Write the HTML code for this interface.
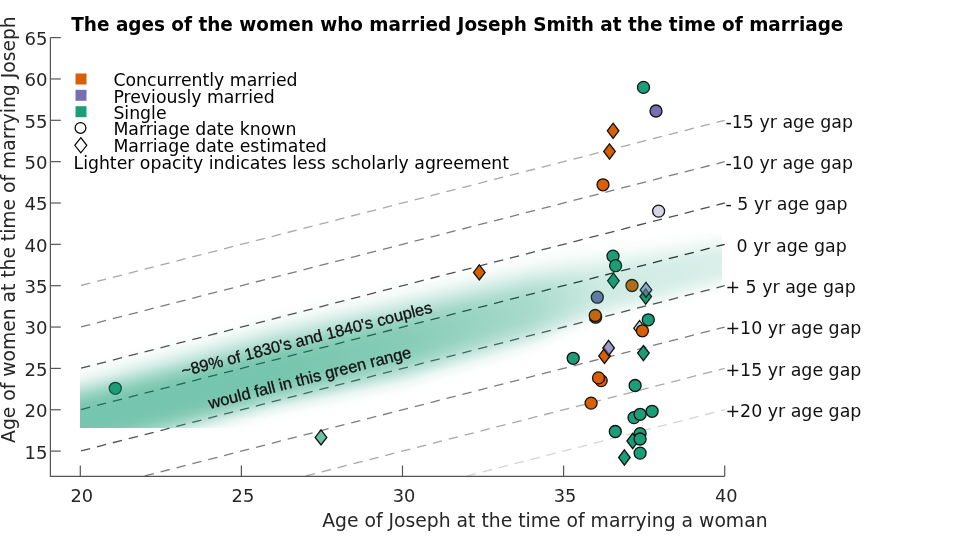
<!DOCTYPE html>
<html><head><meta charset="utf-8"><style>
html,body{margin:0;padding:0;background:#fff;width:960px;height:546px;overflow:hidden}
svg{display:block}
stop{stop-color:#1b9e77}
text{font-family:"DejaVu Sans","Liberation Sans",sans-serif;fill:#262626}
</style></head><body>
<svg width="960" height="546" viewBox="0 0 960 546">
<defs>
<clipPath id="ax"><rect x="50" y="30" width="680" height="446"/></clipPath>

<linearGradient id="s0" gradientUnits="userSpaceOnUse" x1="0" y1="360.8" x2="0" y2="428.0"><stop offset="0.00" stop-opacity="0.000"/><stop offset="0.07" stop-opacity="0.007"/><stop offset="0.14" stop-opacity="0.021"/><stop offset="0.21" stop-opacity="0.053"/><stop offset="0.29" stop-opacity="0.110"/><stop offset="0.36" stop-opacity="0.195"/><stop offset="0.43" stop-opacity="0.297"/><stop offset="0.50" stop-opacity="0.401"/><stop offset="0.57" stop-opacity="0.490"/><stop offset="0.64" stop-opacity="0.552"/><stop offset="0.71" stop-opacity="0.586"/><stop offset="0.79" stop-opacity="0.599"/><stop offset="0.86" stop-opacity="0.600"/><stop offset="0.93" stop-opacity="0.600"/><stop offset="1.00" stop-opacity="0.597"/></linearGradient><linearGradient id="s1" gradientUnits="userSpaceOnUse" x1="0" y1="360.3" x2="0" y2="428.0"><stop offset="0.00" stop-opacity="0.000"/><stop offset="0.07" stop-opacity="0.007"/><stop offset="0.14" stop-opacity="0.022"/><stop offset="0.21" stop-opacity="0.054"/><stop offset="0.29" stop-opacity="0.112"/><stop offset="0.36" stop-opacity="0.198"/><stop offset="0.43" stop-opacity="0.301"/><stop offset="0.50" stop-opacity="0.406"/><stop offset="0.57" stop-opacity="0.494"/><stop offset="0.64" stop-opacity="0.555"/><stop offset="0.71" stop-opacity="0.588"/><stop offset="0.79" stop-opacity="0.599"/><stop offset="0.86" stop-opacity="0.600"/><stop offset="0.93" stop-opacity="0.600"/><stop offset="1.00" stop-opacity="0.597"/></linearGradient><linearGradient id="s2" gradientUnits="userSpaceOnUse" x1="0" y1="359.7" x2="0" y2="428.0"><stop offset="0.00" stop-opacity="0.000"/><stop offset="0.07" stop-opacity="0.007"/><stop offset="0.14" stop-opacity="0.022"/><stop offset="0.21" stop-opacity="0.055"/><stop offset="0.29" stop-opacity="0.114"/><stop offset="0.36" stop-opacity="0.201"/><stop offset="0.43" stop-opacity="0.306"/><stop offset="0.50" stop-opacity="0.411"/><stop offset="0.57" stop-opacity="0.498"/><stop offset="0.64" stop-opacity="0.558"/><stop offset="0.71" stop-opacity="0.589"/><stop offset="0.79" stop-opacity="0.599"/><stop offset="0.86" stop-opacity="0.600"/><stop offset="0.93" stop-opacity="0.600"/><stop offset="1.00" stop-opacity="0.596"/></linearGradient><linearGradient id="s3" gradientUnits="userSpaceOnUse" x1="0" y1="359.1" x2="0" y2="428.0"><stop offset="0.00" stop-opacity="0.000"/><stop offset="0.07" stop-opacity="0.007"/><stop offset="0.14" stop-opacity="0.022"/><stop offset="0.21" stop-opacity="0.056"/><stop offset="0.29" stop-opacity="0.116"/><stop offset="0.36" stop-opacity="0.204"/><stop offset="0.43" stop-opacity="0.310"/><stop offset="0.50" stop-opacity="0.415"/><stop offset="0.57" stop-opacity="0.502"/><stop offset="0.64" stop-opacity="0.561"/><stop offset="0.71" stop-opacity="0.590"/><stop offset="0.79" stop-opacity="0.599"/><stop offset="0.86" stop-opacity="0.600"/><stop offset="0.93" stop-opacity="0.599"/><stop offset="1.00" stop-opacity="0.595"/></linearGradient><linearGradient id="s4" gradientUnits="userSpaceOnUse" x1="0" y1="358.5" x2="0" y2="428.0"><stop offset="0.00" stop-opacity="0.000"/><stop offset="0.07" stop-opacity="0.007"/><stop offset="0.14" stop-opacity="0.023"/><stop offset="0.21" stop-opacity="0.057"/><stop offset="0.29" stop-opacity="0.118"/><stop offset="0.36" stop-opacity="0.208"/><stop offset="0.43" stop-opacity="0.314"/><stop offset="0.50" stop-opacity="0.420"/><stop offset="0.57" stop-opacity="0.506"/><stop offset="0.64" stop-opacity="0.563"/><stop offset="0.71" stop-opacity="0.591"/><stop offset="0.79" stop-opacity="0.600"/><stop offset="0.86" stop-opacity="0.600"/><stop offset="0.93" stop-opacity="0.599"/><stop offset="1.00" stop-opacity="0.594"/></linearGradient><linearGradient id="s5" gradientUnits="userSpaceOnUse" x1="0" y1="357.9" x2="0" y2="428.0"><stop offset="0.00" stop-opacity="0.000"/><stop offset="0.07" stop-opacity="0.007"/><stop offset="0.14" stop-opacity="0.023"/><stop offset="0.21" stop-opacity="0.058"/><stop offset="0.29" stop-opacity="0.120"/><stop offset="0.36" stop-opacity="0.211"/><stop offset="0.43" stop-opacity="0.319"/><stop offset="0.50" stop-opacity="0.425"/><stop offset="0.57" stop-opacity="0.510"/><stop offset="0.64" stop-opacity="0.566"/><stop offset="0.71" stop-opacity="0.592"/><stop offset="0.79" stop-opacity="0.600"/><stop offset="0.86" stop-opacity="0.600"/><stop offset="0.93" stop-opacity="0.599"/><stop offset="1.00" stop-opacity="0.593"/></linearGradient><linearGradient id="s6" gradientUnits="userSpaceOnUse" x1="0" y1="357.4" x2="0" y2="428.0"><stop offset="0.00" stop-opacity="0.000"/><stop offset="0.07" stop-opacity="0.007"/><stop offset="0.14" stop-opacity="0.023"/><stop offset="0.21" stop-opacity="0.059"/><stop offset="0.29" stop-opacity="0.122"/><stop offset="0.36" stop-opacity="0.214"/><stop offset="0.43" stop-opacity="0.323"/><stop offset="0.50" stop-opacity="0.429"/><stop offset="0.57" stop-opacity="0.514"/><stop offset="0.64" stop-opacity="0.568"/><stop offset="0.71" stop-opacity="0.593"/><stop offset="0.79" stop-opacity="0.600"/><stop offset="0.86" stop-opacity="0.600"/><stop offset="0.93" stop-opacity="0.599"/><stop offset="1.00" stop-opacity="0.592"/></linearGradient><linearGradient id="s7" gradientUnits="userSpaceOnUse" x1="0" y1="356.8" x2="0" y2="428.0"><stop offset="0.00" stop-opacity="0.000"/><stop offset="0.07" stop-opacity="0.007"/><stop offset="0.14" stop-opacity="0.024"/><stop offset="0.21" stop-opacity="0.060"/><stop offset="0.29" stop-opacity="0.124"/><stop offset="0.36" stop-opacity="0.218"/><stop offset="0.43" stop-opacity="0.327"/><stop offset="0.50" stop-opacity="0.433"/><stop offset="0.57" stop-opacity="0.517"/><stop offset="0.64" stop-opacity="0.570"/><stop offset="0.71" stop-opacity="0.594"/><stop offset="0.79" stop-opacity="0.600"/><stop offset="0.86" stop-opacity="0.600"/><stop offset="0.93" stop-opacity="0.599"/><stop offset="1.00" stop-opacity="0.591"/></linearGradient><linearGradient id="s8" gradientUnits="userSpaceOnUse" x1="0" y1="356.2" x2="0" y2="428.0"><stop offset="0.00" stop-opacity="0.000"/><stop offset="0.07" stop-opacity="0.007"/><stop offset="0.14" stop-opacity="0.024"/><stop offset="0.21" stop-opacity="0.061"/><stop offset="0.29" stop-opacity="0.127"/><stop offset="0.36" stop-opacity="0.221"/><stop offset="0.43" stop-opacity="0.332"/><stop offset="0.50" stop-opacity="0.438"/><stop offset="0.57" stop-opacity="0.521"/><stop offset="0.64" stop-opacity="0.572"/><stop offset="0.71" stop-opacity="0.595"/><stop offset="0.79" stop-opacity="0.600"/><stop offset="0.86" stop-opacity="0.600"/><stop offset="0.93" stop-opacity="0.598"/><stop offset="1.00" stop-opacity="0.589"/></linearGradient><linearGradient id="s9" gradientUnits="userSpaceOnUse" x1="0" y1="355.6" x2="0" y2="428.0"><stop offset="0.00" stop-opacity="0.000"/><stop offset="0.07" stop-opacity="0.008"/><stop offset="0.14" stop-opacity="0.024"/><stop offset="0.21" stop-opacity="0.062"/><stop offset="0.29" stop-opacity="0.129"/><stop offset="0.36" stop-opacity="0.224"/><stop offset="0.43" stop-opacity="0.336"/><stop offset="0.50" stop-opacity="0.442"/><stop offset="0.57" stop-opacity="0.524"/><stop offset="0.64" stop-opacity="0.574"/><stop offset="0.71" stop-opacity="0.596"/><stop offset="0.79" stop-opacity="0.600"/><stop offset="0.86" stop-opacity="0.600"/><stop offset="0.93" stop-opacity="0.598"/><stop offset="1.00" stop-opacity="0.588"/></linearGradient><linearGradient id="s10" gradientUnits="userSpaceOnUse" x1="0" y1="355.0" x2="0" y2="428.0"><stop offset="0.00" stop-opacity="0.000"/><stop offset="0.07" stop-opacity="0.008"/><stop offset="0.14" stop-opacity="0.024"/><stop offset="0.21" stop-opacity="0.063"/><stop offset="0.29" stop-opacity="0.131"/><stop offset="0.36" stop-opacity="0.228"/><stop offset="0.43" stop-opacity="0.340"/><stop offset="0.50" stop-opacity="0.446"/><stop offset="0.57" stop-opacity="0.527"/><stop offset="0.64" stop-opacity="0.576"/><stop offset="0.71" stop-opacity="0.596"/><stop offset="0.79" stop-opacity="0.600"/><stop offset="0.86" stop-opacity="0.600"/><stop offset="0.93" stop-opacity="0.597"/><stop offset="1.00" stop-opacity="0.586"/></linearGradient><linearGradient id="s11" gradientUnits="userSpaceOnUse" x1="0" y1="354.5" x2="0" y2="428.0"><stop offset="0.00" stop-opacity="0.000"/><stop offset="0.07" stop-opacity="0.008"/><stop offset="0.14" stop-opacity="0.025"/><stop offset="0.21" stop-opacity="0.064"/><stop offset="0.29" stop-opacity="0.133"/><stop offset="0.36" stop-opacity="0.231"/><stop offset="0.43" stop-opacity="0.344"/><stop offset="0.50" stop-opacity="0.450"/><stop offset="0.57" stop-opacity="0.531"/><stop offset="0.64" stop-opacity="0.578"/><stop offset="0.71" stop-opacity="0.597"/><stop offset="0.79" stop-opacity="0.600"/><stop offset="0.86" stop-opacity="0.600"/><stop offset="0.93" stop-opacity="0.597"/><stop offset="1.00" stop-opacity="0.584"/></linearGradient><linearGradient id="s12" gradientUnits="userSpaceOnUse" x1="0" y1="353.9" x2="0" y2="428.0"><stop offset="0.00" stop-opacity="0.000"/><stop offset="0.07" stop-opacity="0.008"/><stop offset="0.14" stop-opacity="0.025"/><stop offset="0.21" stop-opacity="0.065"/><stop offset="0.29" stop-opacity="0.135"/><stop offset="0.36" stop-opacity="0.235"/><stop offset="0.43" stop-opacity="0.349"/><stop offset="0.50" stop-opacity="0.454"/><stop offset="0.57" stop-opacity="0.534"/><stop offset="0.64" stop-opacity="0.580"/><stop offset="0.71" stop-opacity="0.597"/><stop offset="0.79" stop-opacity="0.600"/><stop offset="0.86" stop-opacity="0.600"/><stop offset="0.93" stop-opacity="0.596"/><stop offset="1.00" stop-opacity="0.582"/></linearGradient><linearGradient id="s13" gradientUnits="userSpaceOnUse" x1="0" y1="353.3" x2="0" y2="428.0"><stop offset="0.00" stop-opacity="0.000"/><stop offset="0.07" stop-opacity="0.008"/><stop offset="0.14" stop-opacity="0.025"/><stop offset="0.21" stop-opacity="0.066"/><stop offset="0.29" stop-opacity="0.137"/><stop offset="0.36" stop-opacity="0.238"/><stop offset="0.43" stop-opacity="0.353"/><stop offset="0.50" stop-opacity="0.458"/><stop offset="0.57" stop-opacity="0.537"/><stop offset="0.64" stop-opacity="0.581"/><stop offset="0.71" stop-opacity="0.598"/><stop offset="0.79" stop-opacity="0.600"/><stop offset="0.86" stop-opacity="0.600"/><stop offset="0.93" stop-opacity="0.596"/><stop offset="1.00" stop-opacity="0.580"/></linearGradient><linearGradient id="s14" gradientUnits="userSpaceOnUse" x1="0" y1="352.7" x2="0" y2="428.0"><stop offset="0.00" stop-opacity="0.000"/><stop offset="0.07" stop-opacity="0.008"/><stop offset="0.14" stop-opacity="0.026"/><stop offset="0.21" stop-opacity="0.067"/><stop offset="0.29" stop-opacity="0.139"/><stop offset="0.36" stop-opacity="0.241"/><stop offset="0.43" stop-opacity="0.357"/><stop offset="0.50" stop-opacity="0.462"/><stop offset="0.57" stop-opacity="0.540"/><stop offset="0.64" stop-opacity="0.583"/><stop offset="0.71" stop-opacity="0.598"/><stop offset="0.79" stop-opacity="0.600"/><stop offset="0.86" stop-opacity="0.600"/><stop offset="0.93" stop-opacity="0.595"/><stop offset="1.00" stop-opacity="0.577"/></linearGradient><linearGradient id="s15" gradientUnits="userSpaceOnUse" x1="0" y1="352.1" x2="0" y2="428.0"><stop offset="0.00" stop-opacity="0.000"/><stop offset="0.07" stop-opacity="0.008"/><stop offset="0.14" stop-opacity="0.026"/><stop offset="0.21" stop-opacity="0.068"/><stop offset="0.29" stop-opacity="0.141"/><stop offset="0.36" stop-opacity="0.245"/><stop offset="0.43" stop-opacity="0.361"/><stop offset="0.50" stop-opacity="0.466"/><stop offset="0.57" stop-opacity="0.542"/><stop offset="0.64" stop-opacity="0.584"/><stop offset="0.71" stop-opacity="0.599"/><stop offset="0.79" stop-opacity="0.600"/><stop offset="0.86" stop-opacity="0.599"/><stop offset="0.93" stop-opacity="0.594"/><stop offset="1.00" stop-opacity="0.574"/></linearGradient><linearGradient id="s16" gradientUnits="userSpaceOnUse" x1="0" y1="351.6" x2="0" y2="428.0"><stop offset="0.00" stop-opacity="0.000"/><stop offset="0.07" stop-opacity="0.008"/><stop offset="0.14" stop-opacity="0.026"/><stop offset="0.21" stop-opacity="0.069"/><stop offset="0.29" stop-opacity="0.143"/><stop offset="0.36" stop-opacity="0.248"/><stop offset="0.43" stop-opacity="0.365"/><stop offset="0.50" stop-opacity="0.470"/><stop offset="0.57" stop-opacity="0.545"/><stop offset="0.64" stop-opacity="0.586"/><stop offset="0.71" stop-opacity="0.599"/><stop offset="0.79" stop-opacity="0.600"/><stop offset="0.86" stop-opacity="0.599"/><stop offset="0.93" stop-opacity="0.593"/><stop offset="1.00" stop-opacity="0.571"/></linearGradient><linearGradient id="s17" gradientUnits="userSpaceOnUse" x1="0" y1="351.0" x2="0" y2="428.0"><stop offset="0.00" stop-opacity="0.000"/><stop offset="0.07" stop-opacity="0.008"/><stop offset="0.14" stop-opacity="0.027"/><stop offset="0.21" stop-opacity="0.070"/><stop offset="0.29" stop-opacity="0.146"/><stop offset="0.36" stop-opacity="0.251"/><stop offset="0.43" stop-opacity="0.369"/><stop offset="0.50" stop-opacity="0.474"/><stop offset="0.57" stop-opacity="0.548"/><stop offset="0.64" stop-opacity="0.587"/><stop offset="0.71" stop-opacity="0.599"/><stop offset="0.79" stop-opacity="0.600"/><stop offset="0.86" stop-opacity="0.599"/><stop offset="0.93" stop-opacity="0.592"/><stop offset="1.00" stop-opacity="0.568"/></linearGradient><linearGradient id="s18" gradientUnits="userSpaceOnUse" x1="0" y1="350.4" x2="0" y2="428.0"><stop offset="0.00" stop-opacity="0.000"/><stop offset="0.07" stop-opacity="0.008"/><stop offset="0.14" stop-opacity="0.027"/><stop offset="0.21" stop-opacity="0.071"/><stop offset="0.29" stop-opacity="0.148"/><stop offset="0.36" stop-opacity="0.255"/><stop offset="0.43" stop-opacity="0.373"/><stop offset="0.50" stop-opacity="0.478"/><stop offset="0.57" stop-opacity="0.550"/><stop offset="0.64" stop-opacity="0.588"/><stop offset="0.71" stop-opacity="0.599"/><stop offset="0.79" stop-opacity="0.600"/><stop offset="0.86" stop-opacity="0.599"/><stop offset="0.93" stop-opacity="0.591"/><stop offset="1.00" stop-opacity="0.564"/></linearGradient><linearGradient id="s19" gradientUnits="userSpaceOnUse" x1="0" y1="349.8" x2="0" y2="428.0"><stop offset="0.00" stop-opacity="0.000"/><stop offset="0.07" stop-opacity="0.008"/><stop offset="0.14" stop-opacity="0.027"/><stop offset="0.21" stop-opacity="0.072"/><stop offset="0.29" stop-opacity="0.150"/><stop offset="0.36" stop-opacity="0.258"/><stop offset="0.43" stop-opacity="0.377"/><stop offset="0.50" stop-opacity="0.481"/><stop offset="0.57" stop-opacity="0.553"/><stop offset="0.64" stop-opacity="0.589"/><stop offset="0.71" stop-opacity="0.600"/><stop offset="0.79" stop-opacity="0.600"/><stop offset="0.86" stop-opacity="0.599"/><stop offset="0.93" stop-opacity="0.590"/><stop offset="1.00" stop-opacity="0.560"/></linearGradient><linearGradient id="s20" gradientUnits="userSpaceOnUse" x1="0" y1="349.3" x2="0" y2="428.0"><stop offset="0.00" stop-opacity="0.000"/><stop offset="0.07" stop-opacity="0.008"/><stop offset="0.14" stop-opacity="0.028"/><stop offset="0.21" stop-opacity="0.073"/><stop offset="0.29" stop-opacity="0.152"/><stop offset="0.36" stop-opacity="0.261"/><stop offset="0.43" stop-opacity="0.381"/><stop offset="0.50" stop-opacity="0.485"/><stop offset="0.57" stop-opacity="0.555"/><stop offset="0.64" stop-opacity="0.590"/><stop offset="0.71" stop-opacity="0.600"/><stop offset="0.79" stop-opacity="0.600"/><stop offset="0.86" stop-opacity="0.598"/><stop offset="0.93" stop-opacity="0.588"/><stop offset="1.00" stop-opacity="0.556"/></linearGradient><linearGradient id="s21" gradientUnits="userSpaceOnUse" x1="0" y1="348.7" x2="0" y2="428.0"><stop offset="0.00" stop-opacity="0.000"/><stop offset="0.07" stop-opacity="0.008"/><stop offset="0.14" stop-opacity="0.028"/><stop offset="0.21" stop-opacity="0.074"/><stop offset="0.29" stop-opacity="0.154"/><stop offset="0.36" stop-opacity="0.265"/><stop offset="0.43" stop-opacity="0.385"/><stop offset="0.50" stop-opacity="0.488"/><stop offset="0.57" stop-opacity="0.558"/><stop offset="0.64" stop-opacity="0.591"/><stop offset="0.71" stop-opacity="0.600"/><stop offset="0.79" stop-opacity="0.600"/><stop offset="0.86" stop-opacity="0.598"/><stop offset="0.93" stop-opacity="0.586"/><stop offset="1.00" stop-opacity="0.551"/></linearGradient><linearGradient id="s22" gradientUnits="userSpaceOnUse" x1="0" y1="348.1" x2="0" y2="428.0"><stop offset="0.00" stop-opacity="0.000"/><stop offset="0.07" stop-opacity="0.008"/><stop offset="0.14" stop-opacity="0.028"/><stop offset="0.21" stop-opacity="0.075"/><stop offset="0.29" stop-opacity="0.156"/><stop offset="0.36" stop-opacity="0.268"/><stop offset="0.43" stop-opacity="0.389"/><stop offset="0.50" stop-opacity="0.492"/><stop offset="0.57" stop-opacity="0.560"/><stop offset="0.64" stop-opacity="0.592"/><stop offset="0.71" stop-opacity="0.600"/><stop offset="0.79" stop-opacity="0.600"/><stop offset="0.86" stop-opacity="0.598"/><stop offset="0.93" stop-opacity="0.585"/><stop offset="1.00" stop-opacity="0.546"/></linearGradient><linearGradient id="s23" gradientUnits="userSpaceOnUse" x1="0" y1="347.5" x2="0" y2="428.0"><stop offset="0.00" stop-opacity="0.000"/><stop offset="0.07" stop-opacity="0.008"/><stop offset="0.14" stop-opacity="0.029"/><stop offset="0.21" stop-opacity="0.076"/><stop offset="0.29" stop-opacity="0.159"/><stop offset="0.36" stop-opacity="0.271"/><stop offset="0.43" stop-opacity="0.393"/><stop offset="0.50" stop-opacity="0.495"/><stop offset="0.57" stop-opacity="0.562"/><stop offset="0.64" stop-opacity="0.593"/><stop offset="0.71" stop-opacity="0.600"/><stop offset="0.79" stop-opacity="0.600"/><stop offset="0.86" stop-opacity="0.597"/><stop offset="0.93" stop-opacity="0.583"/><stop offset="1.00" stop-opacity="0.541"/></linearGradient><linearGradient id="s24" gradientUnits="userSpaceOnUse" x1="0" y1="346.9" x2="0" y2="428.0"><stop offset="0.00" stop-opacity="0.000"/><stop offset="0.07" stop-opacity="0.008"/><stop offset="0.14" stop-opacity="0.029"/><stop offset="0.21" stop-opacity="0.077"/><stop offset="0.29" stop-opacity="0.161"/><stop offset="0.36" stop-opacity="0.275"/><stop offset="0.43" stop-opacity="0.396"/><stop offset="0.50" stop-opacity="0.498"/><stop offset="0.57" stop-opacity="0.564"/><stop offset="0.64" stop-opacity="0.594"/><stop offset="0.71" stop-opacity="0.600"/><stop offset="0.79" stop-opacity="0.600"/><stop offset="0.86" stop-opacity="0.597"/><stop offset="0.93" stop-opacity="0.581"/><stop offset="1.00" stop-opacity="0.535"/></linearGradient><linearGradient id="s25" gradientUnits="userSpaceOnUse" x1="0" y1="346.4" x2="0" y2="428.0"><stop offset="0.00" stop-opacity="0.000"/><stop offset="0.07" stop-opacity="0.009"/><stop offset="0.14" stop-opacity="0.029"/><stop offset="0.21" stop-opacity="0.078"/><stop offset="0.29" stop-opacity="0.163"/><stop offset="0.36" stop-opacity="0.278"/><stop offset="0.43" stop-opacity="0.400"/><stop offset="0.50" stop-opacity="0.501"/><stop offset="0.57" stop-opacity="0.566"/><stop offset="0.64" stop-opacity="0.594"/><stop offset="0.71" stop-opacity="0.600"/><stop offset="0.79" stop-opacity="0.600"/><stop offset="0.86" stop-opacity="0.596"/><stop offset="0.93" stop-opacity="0.578"/><stop offset="1.00" stop-opacity="0.529"/></linearGradient><linearGradient id="s26" gradientUnits="userSpaceOnUse" x1="0" y1="345.8" x2="0" y2="428.0"><stop offset="0.00" stop-opacity="0.000"/><stop offset="0.07" stop-opacity="0.009"/><stop offset="0.14" stop-opacity="0.030"/><stop offset="0.21" stop-opacity="0.079"/><stop offset="0.29" stop-opacity="0.165"/><stop offset="0.36" stop-opacity="0.281"/><stop offset="0.43" stop-opacity="0.404"/><stop offset="0.50" stop-opacity="0.505"/><stop offset="0.57" stop-opacity="0.568"/><stop offset="0.64" stop-opacity="0.595"/><stop offset="0.71" stop-opacity="0.600"/><stop offset="0.79" stop-opacity="0.600"/><stop offset="0.86" stop-opacity="0.596"/><stop offset="0.93" stop-opacity="0.576"/><stop offset="1.00" stop-opacity="0.523"/></linearGradient><linearGradient id="s27" gradientUnits="userSpaceOnUse" x1="0" y1="345.2" x2="0" y2="428.0"><stop offset="0.00" stop-opacity="0.000"/><stop offset="0.07" stop-opacity="0.009"/><stop offset="0.14" stop-opacity="0.030"/><stop offset="0.21" stop-opacity="0.080"/><stop offset="0.29" stop-opacity="0.168"/><stop offset="0.36" stop-opacity="0.285"/><stop offset="0.43" stop-opacity="0.408"/><stop offset="0.50" stop-opacity="0.508"/><stop offset="0.57" stop-opacity="0.570"/><stop offset="0.64" stop-opacity="0.596"/><stop offset="0.71" stop-opacity="0.600"/><stop offset="0.79" stop-opacity="0.600"/><stop offset="0.86" stop-opacity="0.595"/><stop offset="0.93" stop-opacity="0.573"/><stop offset="1.00" stop-opacity="0.516"/></linearGradient><linearGradient id="s28" gradientUnits="userSpaceOnUse" x1="0" y1="344.6" x2="0" y2="428.0"><stop offset="0.00" stop-opacity="0.000"/><stop offset="0.07" stop-opacity="0.009"/><stop offset="0.14" stop-opacity="0.031"/><stop offset="0.21" stop-opacity="0.081"/><stop offset="0.29" stop-opacity="0.170"/><stop offset="0.36" stop-opacity="0.288"/><stop offset="0.43" stop-opacity="0.411"/><stop offset="0.50" stop-opacity="0.511"/><stop offset="0.57" stop-opacity="0.572"/><stop offset="0.64" stop-opacity="0.596"/><stop offset="0.71" stop-opacity="0.600"/><stop offset="0.79" stop-opacity="0.600"/><stop offset="0.86" stop-opacity="0.594"/><stop offset="0.93" stop-opacity="0.570"/><stop offset="1.00" stop-opacity="0.509"/></linearGradient><linearGradient id="s29" gradientUnits="userSpaceOnUse" x1="0" y1="344.0" x2="0" y2="428.0"><stop offset="0.00" stop-opacity="0.000"/><stop offset="0.07" stop-opacity="0.009"/><stop offset="0.14" stop-opacity="0.031"/><stop offset="0.21" stop-opacity="0.082"/><stop offset="0.29" stop-opacity="0.172"/><stop offset="0.36" stop-opacity="0.291"/><stop offset="0.43" stop-opacity="0.415"/><stop offset="0.50" stop-opacity="0.514"/><stop offset="0.57" stop-opacity="0.573"/><stop offset="0.64" stop-opacity="0.597"/><stop offset="0.71" stop-opacity="0.600"/><stop offset="0.79" stop-opacity="0.600"/><stop offset="0.86" stop-opacity="0.593"/><stop offset="0.93" stop-opacity="0.567"/><stop offset="1.00" stop-opacity="0.501"/></linearGradient><linearGradient id="s30" gradientUnits="userSpaceOnUse" x1="0" y1="343.5" x2="0" y2="428.0"><stop offset="0.00" stop-opacity="0.000"/><stop offset="0.07" stop-opacity="0.009"/><stop offset="0.14" stop-opacity="0.031"/><stop offset="0.21" stop-opacity="0.083"/><stop offset="0.29" stop-opacity="0.174"/><stop offset="0.36" stop-opacity="0.295"/><stop offset="0.43" stop-opacity="0.418"/><stop offset="0.50" stop-opacity="0.517"/><stop offset="0.57" stop-opacity="0.575"/><stop offset="0.64" stop-opacity="0.597"/><stop offset="0.71" stop-opacity="0.600"/><stop offset="0.79" stop-opacity="0.599"/><stop offset="0.86" stop-opacity="0.592"/><stop offset="0.93" stop-opacity="0.563"/><stop offset="1.00" stop-opacity="0.493"/></linearGradient><linearGradient id="s31" gradientUnits="userSpaceOnUse" x1="0" y1="342.9" x2="0" y2="428.0"><stop offset="0.00" stop-opacity="0.000"/><stop offset="0.07" stop-opacity="0.009"/><stop offset="0.14" stop-opacity="0.032"/><stop offset="0.21" stop-opacity="0.085"/><stop offset="0.29" stop-opacity="0.177"/><stop offset="0.36" stop-opacity="0.298"/><stop offset="0.43" stop-opacity="0.422"/><stop offset="0.50" stop-opacity="0.519"/><stop offset="0.57" stop-opacity="0.576"/><stop offset="0.64" stop-opacity="0.598"/><stop offset="0.71" stop-opacity="0.600"/><stop offset="0.79" stop-opacity="0.599"/><stop offset="0.86" stop-opacity="0.591"/><stop offset="0.93" stop-opacity="0.559"/><stop offset="1.00" stop-opacity="0.485"/></linearGradient><linearGradient id="s32" gradientUnits="userSpaceOnUse" x1="0" y1="342.3" x2="0" y2="428.0"><stop offset="0.00" stop-opacity="0.000"/><stop offset="0.07" stop-opacity="0.009"/><stop offset="0.14" stop-opacity="0.032"/><stop offset="0.21" stop-opacity="0.086"/><stop offset="0.29" stop-opacity="0.179"/><stop offset="0.36" stop-opacity="0.301"/><stop offset="0.43" stop-opacity="0.425"/><stop offset="0.50" stop-opacity="0.522"/><stop offset="0.57" stop-opacity="0.578"/><stop offset="0.64" stop-opacity="0.598"/><stop offset="0.71" stop-opacity="0.600"/><stop offset="0.79" stop-opacity="0.599"/><stop offset="0.86" stop-opacity="0.590"/><stop offset="0.93" stop-opacity="0.555"/><stop offset="1.00" stop-opacity="0.476"/></linearGradient><linearGradient id="s33" gradientUnits="userSpaceOnUse" x1="0" y1="341.7" x2="0" y2="428.0"><stop offset="0.00" stop-opacity="0.000"/><stop offset="0.07" stop-opacity="0.009"/><stop offset="0.14" stop-opacity="0.032"/><stop offset="0.21" stop-opacity="0.087"/><stop offset="0.29" stop-opacity="0.181"/><stop offset="0.36" stop-opacity="0.305"/><stop offset="0.43" stop-opacity="0.429"/><stop offset="0.50" stop-opacity="0.525"/><stop offset="0.57" stop-opacity="0.579"/><stop offset="0.64" stop-opacity="0.598"/><stop offset="0.71" stop-opacity="0.600"/><stop offset="0.79" stop-opacity="0.599"/><stop offset="0.86" stop-opacity="0.589"/><stop offset="0.93" stop-opacity="0.551"/><stop offset="1.00" stop-opacity="0.467"/></linearGradient><linearGradient id="s34" gradientUnits="userSpaceOnUse" x1="0" y1="341.1" x2="0" y2="428.0"><stop offset="0.00" stop-opacity="0.000"/><stop offset="0.07" stop-opacity="0.009"/><stop offset="0.14" stop-opacity="0.033"/><stop offset="0.21" stop-opacity="0.088"/><stop offset="0.29" stop-opacity="0.183"/><stop offset="0.36" stop-opacity="0.308"/><stop offset="0.43" stop-opacity="0.432"/><stop offset="0.50" stop-opacity="0.528"/><stop offset="0.57" stop-opacity="0.581"/><stop offset="0.64" stop-opacity="0.599"/><stop offset="0.71" stop-opacity="0.600"/><stop offset="0.79" stop-opacity="0.599"/><stop offset="0.86" stop-opacity="0.587"/><stop offset="0.93" stop-opacity="0.546"/><stop offset="1.00" stop-opacity="0.457"/></linearGradient><linearGradient id="s35" gradientUnits="userSpaceOnUse" x1="0" y1="340.6" x2="0" y2="428.0"><stop offset="0.00" stop-opacity="0.000"/><stop offset="0.07" stop-opacity="0.009"/><stop offset="0.14" stop-opacity="0.033"/><stop offset="0.21" stop-opacity="0.089"/><stop offset="0.29" stop-opacity="0.186"/><stop offset="0.36" stop-opacity="0.311"/><stop offset="0.43" stop-opacity="0.436"/><stop offset="0.50" stop-opacity="0.530"/><stop offset="0.57" stop-opacity="0.582"/><stop offset="0.64" stop-opacity="0.599"/><stop offset="0.71" stop-opacity="0.600"/><stop offset="0.79" stop-opacity="0.598"/><stop offset="0.86" stop-opacity="0.586"/><stop offset="0.93" stop-opacity="0.541"/><stop offset="1.00" stop-opacity="0.447"/></linearGradient><linearGradient id="s36" gradientUnits="userSpaceOnUse" x1="0" y1="340.0" x2="0" y2="428.0"><stop offset="0.00" stop-opacity="0.000"/><stop offset="0.07" stop-opacity="0.009"/><stop offset="0.14" stop-opacity="0.033"/><stop offset="0.21" stop-opacity="0.090"/><stop offset="0.29" stop-opacity="0.188"/><stop offset="0.36" stop-opacity="0.314"/><stop offset="0.43" stop-opacity="0.439"/><stop offset="0.50" stop-opacity="0.533"/><stop offset="0.57" stop-opacity="0.583"/><stop offset="0.64" stop-opacity="0.599"/><stop offset="0.71" stop-opacity="0.600"/><stop offset="0.79" stop-opacity="0.598"/><stop offset="0.86" stop-opacity="0.584"/><stop offset="0.93" stop-opacity="0.536"/><stop offset="1.00" stop-opacity="0.436"/></linearGradient><linearGradient id="s37" gradientUnits="userSpaceOnUse" x1="0" y1="339.4" x2="0" y2="428.0"><stop offset="0.00" stop-opacity="0.000"/><stop offset="0.07" stop-opacity="0.009"/><stop offset="0.14" stop-opacity="0.034"/><stop offset="0.21" stop-opacity="0.091"/><stop offset="0.29" stop-opacity="0.190"/><stop offset="0.36" stop-opacity="0.318"/><stop offset="0.43" stop-opacity="0.442"/><stop offset="0.50" stop-opacity="0.535"/><stop offset="0.57" stop-opacity="0.584"/><stop offset="0.64" stop-opacity="0.599"/><stop offset="0.71" stop-opacity="0.600"/><stop offset="0.79" stop-opacity="0.598"/><stop offset="0.86" stop-opacity="0.582"/><stop offset="0.93" stop-opacity="0.531"/><stop offset="1.00" stop-opacity="0.425"/></linearGradient><linearGradient id="s38" gradientUnits="userSpaceOnUse" x1="0" y1="338.8" x2="0" y2="428.0"><stop offset="0.00" stop-opacity="0.000"/><stop offset="0.07" stop-opacity="0.009"/><stop offset="0.14" stop-opacity="0.034"/><stop offset="0.21" stop-opacity="0.093"/><stop offset="0.29" stop-opacity="0.192"/><stop offset="0.36" stop-opacity="0.321"/><stop offset="0.43" stop-opacity="0.446"/><stop offset="0.50" stop-opacity="0.538"/><stop offset="0.57" stop-opacity="0.585"/><stop offset="0.64" stop-opacity="0.599"/><stop offset="0.71" stop-opacity="0.600"/><stop offset="0.79" stop-opacity="0.597"/><stop offset="0.86" stop-opacity="0.580"/><stop offset="0.93" stop-opacity="0.525"/><stop offset="1.00" stop-opacity="0.414"/></linearGradient><linearGradient id="s39" gradientUnits="userSpaceOnUse" x1="0" y1="338.2" x2="0" y2="428.0"><stop offset="0.00" stop-opacity="0.000"/><stop offset="0.07" stop-opacity="0.009"/><stop offset="0.14" stop-opacity="0.035"/><stop offset="0.21" stop-opacity="0.094"/><stop offset="0.29" stop-opacity="0.195"/><stop offset="0.36" stop-opacity="0.324"/><stop offset="0.43" stop-opacity="0.449"/><stop offset="0.50" stop-opacity="0.540"/><stop offset="0.57" stop-opacity="0.586"/><stop offset="0.64" stop-opacity="0.599"/><stop offset="0.71" stop-opacity="0.600"/><stop offset="0.79" stop-opacity="0.597"/><stop offset="0.86" stop-opacity="0.578"/><stop offset="0.93" stop-opacity="0.518"/><stop offset="1.00" stop-opacity="0.402"/></linearGradient><linearGradient id="s40" gradientUnits="userSpaceOnUse" x1="0" y1="337.7" x2="0" y2="428.0"><stop offset="0.00" stop-opacity="0.000"/><stop offset="0.07" stop-opacity="0.009"/><stop offset="0.14" stop-opacity="0.035"/><stop offset="0.21" stop-opacity="0.095"/><stop offset="0.29" stop-opacity="0.197"/><stop offset="0.36" stop-opacity="0.327"/><stop offset="0.43" stop-opacity="0.452"/><stop offset="0.50" stop-opacity="0.542"/><stop offset="0.57" stop-opacity="0.587"/><stop offset="0.64" stop-opacity="0.600"/><stop offset="0.71" stop-opacity="0.600"/><stop offset="0.79" stop-opacity="0.597"/><stop offset="0.86" stop-opacity="0.575"/><stop offset="0.93" stop-opacity="0.512"/><stop offset="1.00" stop-opacity="0.390"/></linearGradient><linearGradient id="s41" gradientUnits="userSpaceOnUse" x1="0" y1="337.1" x2="0" y2="428.0"><stop offset="0.00" stop-opacity="0.000"/><stop offset="0.07" stop-opacity="0.010"/><stop offset="0.14" stop-opacity="0.035"/><stop offset="0.21" stop-opacity="0.096"/><stop offset="0.29" stop-opacity="0.199"/><stop offset="0.36" stop-opacity="0.330"/><stop offset="0.43" stop-opacity="0.455"/><stop offset="0.50" stop-opacity="0.544"/><stop offset="0.57" stop-opacity="0.588"/><stop offset="0.64" stop-opacity="0.600"/><stop offset="0.71" stop-opacity="0.600"/><stop offset="0.79" stop-opacity="0.596"/><stop offset="0.86" stop-opacity="0.572"/><stop offset="0.93" stop-opacity="0.505"/><stop offset="1.00" stop-opacity="0.378"/></linearGradient><linearGradient id="s42" gradientUnits="userSpaceOnUse" x1="0" y1="336.5" x2="0" y2="428.0"><stop offset="0.00" stop-opacity="0.000"/><stop offset="0.07" stop-opacity="0.010"/><stop offset="0.14" stop-opacity="0.036"/><stop offset="0.21" stop-opacity="0.097"/><stop offset="0.29" stop-opacity="0.202"/><stop offset="0.36" stop-opacity="0.334"/><stop offset="0.43" stop-opacity="0.458"/><stop offset="0.50" stop-opacity="0.547"/><stop offset="0.57" stop-opacity="0.589"/><stop offset="0.64" stop-opacity="0.600"/><stop offset="0.71" stop-opacity="0.600"/><stop offset="0.79" stop-opacity="0.595"/><stop offset="0.86" stop-opacity="0.570"/><stop offset="0.93" stop-opacity="0.497"/><stop offset="1.00" stop-opacity="0.365"/></linearGradient><linearGradient id="s43" gradientUnits="userSpaceOnUse" x1="0" y1="335.9" x2="0" y2="428.0"><stop offset="0.00" stop-opacity="0.000"/><stop offset="0.07" stop-opacity="0.010"/><stop offset="0.14" stop-opacity="0.036"/><stop offset="0.21" stop-opacity="0.098"/><stop offset="0.29" stop-opacity="0.204"/><stop offset="0.36" stop-opacity="0.337"/><stop offset="0.43" stop-opacity="0.462"/><stop offset="0.50" stop-opacity="0.549"/><stop offset="0.57" stop-opacity="0.590"/><stop offset="0.64" stop-opacity="0.600"/><stop offset="0.71" stop-opacity="0.600"/><stop offset="0.79" stop-opacity="0.595"/><stop offset="0.86" stop-opacity="0.567"/><stop offset="0.93" stop-opacity="0.489"/><stop offset="1.00" stop-opacity="0.352"/></linearGradient><linearGradient id="s44" gradientUnits="userSpaceOnUse" x1="0" y1="335.4" x2="0" y2="428.0"><stop offset="0.00" stop-opacity="0.000"/><stop offset="0.07" stop-opacity="0.010"/><stop offset="0.14" stop-opacity="0.037"/><stop offset="0.21" stop-opacity="0.100"/><stop offset="0.29" stop-opacity="0.206"/><stop offset="0.36" stop-opacity="0.340"/><stop offset="0.43" stop-opacity="0.465"/><stop offset="0.50" stop-opacity="0.551"/><stop offset="0.57" stop-opacity="0.591"/><stop offset="0.64" stop-opacity="0.600"/><stop offset="0.71" stop-opacity="0.600"/><stop offset="0.79" stop-opacity="0.594"/><stop offset="0.86" stop-opacity="0.563"/><stop offset="0.93" stop-opacity="0.481"/><stop offset="1.00" stop-opacity="0.339"/></linearGradient><linearGradient id="s45" gradientUnits="userSpaceOnUse" x1="0" y1="334.8" x2="0" y2="428.0"><stop offset="0.00" stop-opacity="0.000"/><stop offset="0.07" stop-opacity="0.010"/><stop offset="0.14" stop-opacity="0.037"/><stop offset="0.21" stop-opacity="0.101"/><stop offset="0.29" stop-opacity="0.209"/><stop offset="0.36" stop-opacity="0.343"/><stop offset="0.43" stop-opacity="0.468"/><stop offset="0.50" stop-opacity="0.553"/><stop offset="0.57" stop-opacity="0.592"/><stop offset="0.64" stop-opacity="0.600"/><stop offset="0.71" stop-opacity="0.600"/><stop offset="0.79" stop-opacity="0.593"/><stop offset="0.86" stop-opacity="0.560"/><stop offset="0.93" stop-opacity="0.473"/><stop offset="1.00" stop-opacity="0.326"/></linearGradient><linearGradient id="s46" gradientUnits="userSpaceOnUse" x1="0" y1="334.2" x2="0" y2="428.0"><stop offset="0.00" stop-opacity="0.000"/><stop offset="0.07" stop-opacity="0.010"/><stop offset="0.14" stop-opacity="0.037"/><stop offset="0.21" stop-opacity="0.102"/><stop offset="0.29" stop-opacity="0.211"/><stop offset="0.36" stop-opacity="0.346"/><stop offset="0.43" stop-opacity="0.471"/><stop offset="0.50" stop-opacity="0.555"/><stop offset="0.57" stop-opacity="0.592"/><stop offset="0.64" stop-opacity="0.600"/><stop offset="0.71" stop-opacity="0.600"/><stop offset="0.79" stop-opacity="0.592"/><stop offset="0.86" stop-opacity="0.556"/><stop offset="0.93" stop-opacity="0.464"/><stop offset="1.00" stop-opacity="0.312"/></linearGradient><linearGradient id="s47" gradientUnits="userSpaceOnUse" x1="0" y1="333.6" x2="0" y2="428.0"><stop offset="0.00" stop-opacity="0.000"/><stop offset="0.07" stop-opacity="0.010"/><stop offset="0.14" stop-opacity="0.038"/><stop offset="0.21" stop-opacity="0.103"/><stop offset="0.29" stop-opacity="0.213"/><stop offset="0.36" stop-opacity="0.349"/><stop offset="0.43" stop-opacity="0.473"/><stop offset="0.50" stop-opacity="0.556"/><stop offset="0.57" stop-opacity="0.593"/><stop offset="0.64" stop-opacity="0.600"/><stop offset="0.71" stop-opacity="0.600"/><stop offset="0.79" stop-opacity="0.591"/><stop offset="0.86" stop-opacity="0.552"/><stop offset="0.93" stop-opacity="0.455"/><stop offset="1.00" stop-opacity="0.298"/></linearGradient><linearGradient id="s48" gradientUnits="userSpaceOnUse" x1="0" y1="333.0" x2="0" y2="428.0"><stop offset="0.00" stop-opacity="0.000"/><stop offset="0.07" stop-opacity="0.010"/><stop offset="0.14" stop-opacity="0.038"/><stop offset="0.21" stop-opacity="0.104"/><stop offset="0.29" stop-opacity="0.216"/><stop offset="0.36" stop-opacity="0.352"/><stop offset="0.43" stop-opacity="0.476"/><stop offset="0.50" stop-opacity="0.558"/><stop offset="0.57" stop-opacity="0.594"/><stop offset="0.64" stop-opacity="0.600"/><stop offset="0.71" stop-opacity="0.600"/><stop offset="0.79" stop-opacity="0.590"/><stop offset="0.86" stop-opacity="0.548"/><stop offset="0.93" stop-opacity="0.445"/><stop offset="1.00" stop-opacity="0.284"/></linearGradient><linearGradient id="s49" gradientUnits="userSpaceOnUse" x1="0" y1="332.5" x2="0" y2="428.0"><stop offset="0.00" stop-opacity="0.000"/><stop offset="0.07" stop-opacity="0.010"/><stop offset="0.14" stop-opacity="0.039"/><stop offset="0.21" stop-opacity="0.106"/><stop offset="0.29" stop-opacity="0.218"/><stop offset="0.36" stop-opacity="0.355"/><stop offset="0.43" stop-opacity="0.479"/><stop offset="0.50" stop-opacity="0.560"/><stop offset="0.57" stop-opacity="0.594"/><stop offset="0.64" stop-opacity="0.600"/><stop offset="0.71" stop-opacity="0.599"/><stop offset="0.79" stop-opacity="0.589"/><stop offset="0.86" stop-opacity="0.543"/><stop offset="0.93" stop-opacity="0.435"/><stop offset="1.00" stop-opacity="0.270"/></linearGradient><linearGradient id="s50" gradientUnits="userSpaceOnUse" x1="0" y1="331.9" x2="0" y2="428.0"><stop offset="0.00" stop-opacity="0.000"/><stop offset="0.07" stop-opacity="0.010"/><stop offset="0.14" stop-opacity="0.039"/><stop offset="0.21" stop-opacity="0.107"/><stop offset="0.29" stop-opacity="0.220"/><stop offset="0.36" stop-opacity="0.358"/><stop offset="0.43" stop-opacity="0.482"/><stop offset="0.50" stop-opacity="0.562"/><stop offset="0.57" stop-opacity="0.595"/><stop offset="0.64" stop-opacity="0.600"/><stop offset="0.71" stop-opacity="0.599"/><stop offset="0.79" stop-opacity="0.588"/><stop offset="0.86" stop-opacity="0.538"/><stop offset="0.93" stop-opacity="0.425"/><stop offset="1.00" stop-opacity="0.257"/></linearGradient><linearGradient id="s51" gradientUnits="userSpaceOnUse" x1="0" y1="331.3" x2="0" y2="428.0"><stop offset="0.00" stop-opacity="0.000"/><stop offset="0.07" stop-opacity="0.010"/><stop offset="0.14" stop-opacity="0.039"/><stop offset="0.21" stop-opacity="0.108"/><stop offset="0.29" stop-opacity="0.223"/><stop offset="0.36" stop-opacity="0.361"/><stop offset="0.43" stop-opacity="0.485"/><stop offset="0.50" stop-opacity="0.563"/><stop offset="0.57" stop-opacity="0.595"/><stop offset="0.64" stop-opacity="0.600"/><stop offset="0.71" stop-opacity="0.599"/><stop offset="0.79" stop-opacity="0.586"/><stop offset="0.86" stop-opacity="0.533"/><stop offset="0.93" stop-opacity="0.414"/><stop offset="1.00" stop-opacity="0.243"/></linearGradient><linearGradient id="s52" gradientUnits="userSpaceOnUse" x1="0" y1="330.7" x2="0" y2="428.0"><stop offset="0.00" stop-opacity="0.000"/><stop offset="0.07" stop-opacity="0.010"/><stop offset="0.14" stop-opacity="0.040"/><stop offset="0.21" stop-opacity="0.109"/><stop offset="0.29" stop-opacity="0.225"/><stop offset="0.36" stop-opacity="0.364"/><stop offset="0.43" stop-opacity="0.487"/><stop offset="0.50" stop-opacity="0.565"/><stop offset="0.57" stop-opacity="0.596"/><stop offset="0.64" stop-opacity="0.600"/><stop offset="0.71" stop-opacity="0.599"/><stop offset="0.79" stop-opacity="0.585"/><stop offset="0.86" stop-opacity="0.528"/><stop offset="0.93" stop-opacity="0.403"/><stop offset="1.00" stop-opacity="0.229"/></linearGradient><linearGradient id="s53" gradientUnits="userSpaceOnUse" x1="0" y1="330.1" x2="0" y2="428.0"><stop offset="0.00" stop-opacity="0.000"/><stop offset="0.07" stop-opacity="0.010"/><stop offset="0.14" stop-opacity="0.040"/><stop offset="0.21" stop-opacity="0.110"/><stop offset="0.29" stop-opacity="0.227"/><stop offset="0.36" stop-opacity="0.367"/><stop offset="0.43" stop-opacity="0.490"/><stop offset="0.50" stop-opacity="0.567"/><stop offset="0.57" stop-opacity="0.596"/><stop offset="0.64" stop-opacity="0.600"/><stop offset="0.71" stop-opacity="0.599"/><stop offset="0.79" stop-opacity="0.583"/><stop offset="0.86" stop-opacity="0.522"/><stop offset="0.93" stop-opacity="0.391"/><stop offset="1.00" stop-opacity="0.215"/></linearGradient><linearGradient id="s54" gradientUnits="userSpaceOnUse" x1="0" y1="329.6" x2="0" y2="428.0"><stop offset="0.00" stop-opacity="0.000"/><stop offset="0.07" stop-opacity="0.010"/><stop offset="0.14" stop-opacity="0.041"/><stop offset="0.21" stop-opacity="0.112"/><stop offset="0.29" stop-opacity="0.230"/><stop offset="0.36" stop-opacity="0.370"/><stop offset="0.43" stop-opacity="0.493"/><stop offset="0.50" stop-opacity="0.568"/><stop offset="0.57" stop-opacity="0.597"/><stop offset="0.64" stop-opacity="0.600"/><stop offset="0.71" stop-opacity="0.598"/><stop offset="0.79" stop-opacity="0.581"/><stop offset="0.86" stop-opacity="0.516"/><stop offset="0.93" stop-opacity="0.380"/><stop offset="1.00" stop-opacity="0.202"/></linearGradient><linearGradient id="s55" gradientUnits="userSpaceOnUse" x1="0" y1="329.0" x2="0" y2="428.0"><stop offset="0.00" stop-opacity="0.000"/><stop offset="0.07" stop-opacity="0.011"/><stop offset="0.14" stop-opacity="0.041"/><stop offset="0.21" stop-opacity="0.113"/><stop offset="0.29" stop-opacity="0.232"/><stop offset="0.36" stop-opacity="0.373"/><stop offset="0.43" stop-opacity="0.495"/><stop offset="0.50" stop-opacity="0.570"/><stop offset="0.57" stop-opacity="0.597"/><stop offset="0.64" stop-opacity="0.600"/><stop offset="0.71" stop-opacity="0.598"/><stop offset="0.79" stop-opacity="0.579"/><stop offset="0.86" stop-opacity="0.510"/><stop offset="0.93" stop-opacity="0.368"/><stop offset="1.00" stop-opacity="0.189"/></linearGradient><linearGradient id="s56" gradientUnits="userSpaceOnUse" x1="0" y1="328.4" x2="0" y2="428.0"><stop offset="0.00" stop-opacity="0.000"/><stop offset="0.07" stop-opacity="0.011"/><stop offset="0.14" stop-opacity="0.041"/><stop offset="0.21" stop-opacity="0.114"/><stop offset="0.29" stop-opacity="0.234"/><stop offset="0.36" stop-opacity="0.376"/><stop offset="0.43" stop-opacity="0.498"/><stop offset="0.50" stop-opacity="0.571"/><stop offset="0.57" stop-opacity="0.597"/><stop offset="0.64" stop-opacity="0.600"/><stop offset="0.71" stop-opacity="0.598"/><stop offset="0.79" stop-opacity="0.577"/><stop offset="0.86" stop-opacity="0.503"/><stop offset="0.93" stop-opacity="0.356"/><stop offset="1.00" stop-opacity="0.176"/></linearGradient><linearGradient id="s57" gradientUnits="userSpaceOnUse" x1="0" y1="327.8" x2="0" y2="428.0"><stop offset="0.00" stop-opacity="0.000"/><stop offset="0.07" stop-opacity="0.011"/><stop offset="0.14" stop-opacity="0.042"/><stop offset="0.21" stop-opacity="0.115"/><stop offset="0.29" stop-opacity="0.236"/><stop offset="0.36" stop-opacity="0.379"/><stop offset="0.43" stop-opacity="0.500"/><stop offset="0.50" stop-opacity="0.572"/><stop offset="0.57" stop-opacity="0.598"/><stop offset="0.64" stop-opacity="0.600"/><stop offset="0.71" stop-opacity="0.598"/><stop offset="0.79" stop-opacity="0.575"/><stop offset="0.86" stop-opacity="0.496"/><stop offset="0.93" stop-opacity="0.343"/><stop offset="1.00" stop-opacity="0.163"/></linearGradient><linearGradient id="s58" gradientUnits="userSpaceOnUse" x1="0" y1="327.2" x2="0" y2="428.0"><stop offset="0.00" stop-opacity="0.000"/><stop offset="0.07" stop-opacity="0.011"/><stop offset="0.14" stop-opacity="0.042"/><stop offset="0.21" stop-opacity="0.117"/><stop offset="0.29" stop-opacity="0.239"/><stop offset="0.36" stop-opacity="0.382"/><stop offset="0.43" stop-opacity="0.503"/><stop offset="0.50" stop-opacity="0.574"/><stop offset="0.57" stop-opacity="0.598"/><stop offset="0.64" stop-opacity="0.600"/><stop offset="0.71" stop-opacity="0.597"/><stop offset="0.79" stop-opacity="0.572"/><stop offset="0.86" stop-opacity="0.489"/><stop offset="0.93" stop-opacity="0.331"/><stop offset="1.00" stop-opacity="0.151"/></linearGradient><linearGradient id="s59" gradientUnits="userSpaceOnUse" x1="0" y1="326.7" x2="0" y2="428.0"><stop offset="0.00" stop-opacity="0.000"/><stop offset="0.07" stop-opacity="0.011"/><stop offset="0.14" stop-opacity="0.043"/><stop offset="0.21" stop-opacity="0.118"/><stop offset="0.29" stop-opacity="0.241"/><stop offset="0.36" stop-opacity="0.385"/><stop offset="0.43" stop-opacity="0.505"/><stop offset="0.50" stop-opacity="0.575"/><stop offset="0.57" stop-opacity="0.598"/><stop offset="0.64" stop-opacity="0.600"/><stop offset="0.71" stop-opacity="0.597"/><stop offset="0.79" stop-opacity="0.569"/><stop offset="0.86" stop-opacity="0.481"/><stop offset="0.93" stop-opacity="0.318"/><stop offset="1.00" stop-opacity="0.139"/></linearGradient><linearGradient id="s60" gradientUnits="userSpaceOnUse" x1="0" y1="326.1" x2="0" y2="428.0"><stop offset="0.00" stop-opacity="0.000"/><stop offset="0.07" stop-opacity="0.011"/><stop offset="0.14" stop-opacity="0.043"/><stop offset="0.21" stop-opacity="0.119"/><stop offset="0.29" stop-opacity="0.243"/><stop offset="0.36" stop-opacity="0.388"/><stop offset="0.43" stop-opacity="0.508"/><stop offset="0.50" stop-opacity="0.576"/><stop offset="0.57" stop-opacity="0.598"/><stop offset="0.64" stop-opacity="0.600"/><stop offset="0.71" stop-opacity="0.596"/><stop offset="0.79" stop-opacity="0.566"/><stop offset="0.86" stop-opacity="0.473"/><stop offset="0.93" stop-opacity="0.305"/><stop offset="1.00" stop-opacity="0.127"/></linearGradient><linearGradient id="s61" gradientUnits="userSpaceOnUse" x1="0" y1="325.5" x2="0" y2="428.0"><stop offset="0.00" stop-opacity="0.000"/><stop offset="0.07" stop-opacity="0.011"/><stop offset="0.14" stop-opacity="0.043"/><stop offset="0.21" stop-opacity="0.120"/><stop offset="0.29" stop-opacity="0.246"/><stop offset="0.36" stop-opacity="0.391"/><stop offset="0.43" stop-opacity="0.510"/><stop offset="0.50" stop-opacity="0.577"/><stop offset="0.57" stop-opacity="0.599"/><stop offset="0.64" stop-opacity="0.600"/><stop offset="0.71" stop-opacity="0.596"/><stop offset="0.79" stop-opacity="0.563"/><stop offset="0.86" stop-opacity="0.465"/><stop offset="0.93" stop-opacity="0.292"/><stop offset="1.00" stop-opacity="0.116"/></linearGradient><linearGradient id="s62" gradientUnits="userSpaceOnUse" x1="0" y1="324.9" x2="0" y2="428.0"><stop offset="0.00" stop-opacity="0.000"/><stop offset="0.07" stop-opacity="0.011"/><stop offset="0.14" stop-opacity="0.044"/><stop offset="0.21" stop-opacity="0.122"/><stop offset="0.29" stop-opacity="0.248"/><stop offset="0.36" stop-opacity="0.393"/><stop offset="0.43" stop-opacity="0.512"/><stop offset="0.50" stop-opacity="0.579"/><stop offset="0.57" stop-opacity="0.599"/><stop offset="0.64" stop-opacity="0.600"/><stop offset="0.71" stop-opacity="0.595"/><stop offset="0.79" stop-opacity="0.560"/><stop offset="0.86" stop-opacity="0.456"/><stop offset="0.93" stop-opacity="0.279"/><stop offset="1.00" stop-opacity="0.106"/></linearGradient><linearGradient id="s63" gradientUnits="userSpaceOnUse" x1="0" y1="324.3" x2="0" y2="428.0"><stop offset="0.00" stop-opacity="0.000"/><stop offset="0.07" stop-opacity="0.011"/><stop offset="0.14" stop-opacity="0.044"/><stop offset="0.21" stop-opacity="0.123"/><stop offset="0.29" stop-opacity="0.250"/><stop offset="0.36" stop-opacity="0.396"/><stop offset="0.43" stop-opacity="0.514"/><stop offset="0.50" stop-opacity="0.580"/><stop offset="0.57" stop-opacity="0.599"/><stop offset="0.64" stop-opacity="0.600"/><stop offset="0.71" stop-opacity="0.595"/><stop offset="0.79" stop-opacity="0.557"/><stop offset="0.86" stop-opacity="0.447"/><stop offset="0.93" stop-opacity="0.265"/><stop offset="1.00" stop-opacity="0.096"/></linearGradient><linearGradient id="s64" gradientUnits="userSpaceOnUse" x1="0" y1="323.8" x2="0" y2="428.0"><stop offset="0.00" stop-opacity="0.000"/><stop offset="0.07" stop-opacity="0.011"/><stop offset="0.14" stop-opacity="0.045"/><stop offset="0.21" stop-opacity="0.124"/><stop offset="0.29" stop-opacity="0.253"/><stop offset="0.36" stop-opacity="0.399"/><stop offset="0.43" stop-opacity="0.517"/><stop offset="0.50" stop-opacity="0.581"/><stop offset="0.57" stop-opacity="0.599"/><stop offset="0.64" stop-opacity="0.600"/><stop offset="0.71" stop-opacity="0.594"/><stop offset="0.79" stop-opacity="0.553"/><stop offset="0.86" stop-opacity="0.438"/><stop offset="0.93" stop-opacity="0.252"/><stop offset="1.00" stop-opacity="0.086"/></linearGradient><linearGradient id="s65" gradientUnits="userSpaceOnUse" x1="0" y1="323.2" x2="0" y2="428.0"><stop offset="0.00" stop-opacity="0.000"/><stop offset="0.07" stop-opacity="0.011"/><stop offset="0.14" stop-opacity="0.045"/><stop offset="0.21" stop-opacity="0.125"/><stop offset="0.29" stop-opacity="0.255"/><stop offset="0.36" stop-opacity="0.402"/><stop offset="0.43" stop-opacity="0.519"/><stop offset="0.50" stop-opacity="0.582"/><stop offset="0.57" stop-opacity="0.599"/><stop offset="0.64" stop-opacity="0.600"/><stop offset="0.71" stop-opacity="0.593"/><stop offset="0.79" stop-opacity="0.549"/><stop offset="0.86" stop-opacity="0.428"/><stop offset="0.93" stop-opacity="0.239"/><stop offset="1.00" stop-opacity="0.078"/></linearGradient><linearGradient id="s66" gradientUnits="userSpaceOnUse" x1="0" y1="322.6" x2="0" y2="428.0"><stop offset="0.00" stop-opacity="0.000"/><stop offset="0.07" stop-opacity="0.011"/><stop offset="0.14" stop-opacity="0.046"/><stop offset="0.21" stop-opacity="0.127"/><stop offset="0.29" stop-opacity="0.257"/><stop offset="0.36" stop-opacity="0.404"/><stop offset="0.43" stop-opacity="0.521"/><stop offset="0.50" stop-opacity="0.583"/><stop offset="0.57" stop-opacity="0.599"/><stop offset="0.64" stop-opacity="0.600"/><stop offset="0.71" stop-opacity="0.592"/><stop offset="0.79" stop-opacity="0.545"/><stop offset="0.86" stop-opacity="0.418"/><stop offset="0.93" stop-opacity="0.226"/><stop offset="1.00" stop-opacity="0.069"/></linearGradient><linearGradient id="s67" gradientUnits="userSpaceOnUse" x1="0" y1="322.0" x2="0" y2="428.0"><stop offset="0.00" stop-opacity="0.000"/><stop offset="0.07" stop-opacity="0.011"/><stop offset="0.14" stop-opacity="0.046"/><stop offset="0.21" stop-opacity="0.128"/><stop offset="0.29" stop-opacity="0.260"/><stop offset="0.36" stop-opacity="0.407"/><stop offset="0.43" stop-opacity="0.523"/><stop offset="0.50" stop-opacity="0.584"/><stop offset="0.57" stop-opacity="0.600"/><stop offset="0.64" stop-opacity="0.600"/><stop offset="0.71" stop-opacity="0.591"/><stop offset="0.79" stop-opacity="0.540"/><stop offset="0.86" stop-opacity="0.408"/><stop offset="0.93" stop-opacity="0.213"/><stop offset="1.00" stop-opacity="0.061"/></linearGradient><linearGradient id="s68" gradientUnits="userSpaceOnUse" x1="0" y1="321.4" x2="0" y2="428.0"><stop offset="0.00" stop-opacity="0.000"/><stop offset="0.07" stop-opacity="0.011"/><stop offset="0.14" stop-opacity="0.046"/><stop offset="0.21" stop-opacity="0.129"/><stop offset="0.29" stop-opacity="0.262"/><stop offset="0.36" stop-opacity="0.410"/><stop offset="0.43" stop-opacity="0.525"/><stop offset="0.50" stop-opacity="0.585"/><stop offset="0.57" stop-opacity="0.600"/><stop offset="0.64" stop-opacity="0.600"/><stop offset="0.71" stop-opacity="0.590"/><stop offset="0.79" stop-opacity="0.536"/><stop offset="0.86" stop-opacity="0.397"/><stop offset="0.93" stop-opacity="0.200"/><stop offset="1.00" stop-opacity="0.054"/></linearGradient><linearGradient id="s69" gradientUnits="userSpaceOnUse" x1="0" y1="320.9" x2="0" y2="428.0"><stop offset="0.00" stop-opacity="0.000"/><stop offset="0.07" stop-opacity="0.011"/><stop offset="0.14" stop-opacity="0.047"/><stop offset="0.21" stop-opacity="0.131"/><stop offset="0.29" stop-opacity="0.264"/><stop offset="0.36" stop-opacity="0.412"/><stop offset="0.43" stop-opacity="0.527"/><stop offset="0.50" stop-opacity="0.585"/><stop offset="0.57" stop-opacity="0.600"/><stop offset="0.64" stop-opacity="0.600"/><stop offset="0.71" stop-opacity="0.589"/><stop offset="0.79" stop-opacity="0.531"/><stop offset="0.86" stop-opacity="0.386"/><stop offset="0.93" stop-opacity="0.188"/><stop offset="1.00" stop-opacity="0.048"/></linearGradient><linearGradient id="s70" gradientUnits="userSpaceOnUse" x1="0" y1="320.3" x2="0" y2="428.0"><stop offset="0.00" stop-opacity="0.000"/><stop offset="0.07" stop-opacity="0.012"/><stop offset="0.14" stop-opacity="0.047"/><stop offset="0.21" stop-opacity="0.132"/><stop offset="0.29" stop-opacity="0.267"/><stop offset="0.36" stop-opacity="0.415"/><stop offset="0.43" stop-opacity="0.529"/><stop offset="0.50" stop-opacity="0.586"/><stop offset="0.57" stop-opacity="0.600"/><stop offset="0.64" stop-opacity="0.600"/><stop offset="0.71" stop-opacity="0.588"/><stop offset="0.79" stop-opacity="0.526"/><stop offset="0.86" stop-opacity="0.375"/><stop offset="0.93" stop-opacity="0.176"/><stop offset="1.00" stop-opacity="0.042"/></linearGradient><linearGradient id="s71" gradientUnits="userSpaceOnUse" x1="0" y1="319.7" x2="0" y2="428.0"><stop offset="0.00" stop-opacity="0.000"/><stop offset="0.07" stop-opacity="0.012"/><stop offset="0.14" stop-opacity="0.048"/><stop offset="0.21" stop-opacity="0.133"/><stop offset="0.29" stop-opacity="0.269"/><stop offset="0.36" stop-opacity="0.418"/><stop offset="0.43" stop-opacity="0.531"/><stop offset="0.50" stop-opacity="0.587"/><stop offset="0.57" stop-opacity="0.600"/><stop offset="0.64" stop-opacity="0.600"/><stop offset="0.71" stop-opacity="0.587"/><stop offset="0.79" stop-opacity="0.520"/><stop offset="0.86" stop-opacity="0.364"/><stop offset="0.93" stop-opacity="0.164"/><stop offset="1.00" stop-opacity="0.036"/></linearGradient><linearGradient id="s72" gradientUnits="userSpaceOnUse" x1="0" y1="319.1" x2="0" y2="428.0"><stop offset="0.00" stop-opacity="0.000"/><stop offset="0.07" stop-opacity="0.012"/><stop offset="0.14" stop-opacity="0.048"/><stop offset="0.21" stop-opacity="0.134"/><stop offset="0.29" stop-opacity="0.271"/><stop offset="0.36" stop-opacity="0.420"/><stop offset="0.43" stop-opacity="0.533"/><stop offset="0.50" stop-opacity="0.588"/><stop offset="0.57" stop-opacity="0.600"/><stop offset="0.64" stop-opacity="0.600"/><stop offset="0.71" stop-opacity="0.585"/><stop offset="0.79" stop-opacity="0.514"/><stop offset="0.86" stop-opacity="0.352"/><stop offset="0.93" stop-opacity="0.152"/><stop offset="1.00" stop-opacity="0.031"/></linearGradient><linearGradient id="s73" gradientUnits="userSpaceOnUse" x1="0" y1="318.6" x2="0" y2="428.0"><stop offset="0.00" stop-opacity="0.000"/><stop offset="0.07" stop-opacity="0.012"/><stop offset="0.14" stop-opacity="0.049"/><stop offset="0.21" stop-opacity="0.136"/><stop offset="0.29" stop-opacity="0.273"/><stop offset="0.36" stop-opacity="0.423"/><stop offset="0.43" stop-opacity="0.535"/><stop offset="0.50" stop-opacity="0.589"/><stop offset="0.57" stop-opacity="0.600"/><stop offset="0.64" stop-opacity="0.599"/><stop offset="0.71" stop-opacity="0.584"/><stop offset="0.79" stop-opacity="0.508"/><stop offset="0.86" stop-opacity="0.340"/><stop offset="0.93" stop-opacity="0.140"/><stop offset="1.00" stop-opacity="0.027"/></linearGradient><linearGradient id="s74" gradientUnits="userSpaceOnUse" x1="0" y1="318.0" x2="0" y2="428.0"><stop offset="0.00" stop-opacity="0.000"/><stop offset="0.07" stop-opacity="0.012"/><stop offset="0.14" stop-opacity="0.049"/><stop offset="0.21" stop-opacity="0.137"/><stop offset="0.29" stop-opacity="0.276"/><stop offset="0.36" stop-opacity="0.425"/><stop offset="0.43" stop-opacity="0.537"/><stop offset="0.50" stop-opacity="0.589"/><stop offset="0.57" stop-opacity="0.600"/><stop offset="0.64" stop-opacity="0.599"/><stop offset="0.71" stop-opacity="0.582"/><stop offset="0.79" stop-opacity="0.502"/><stop offset="0.86" stop-opacity="0.328"/><stop offset="0.93" stop-opacity="0.129"/><stop offset="1.00" stop-opacity="0.023"/></linearGradient><linearGradient id="s75" gradientUnits="userSpaceOnUse" x1="0" y1="317.4" x2="0" y2="428.0"><stop offset="0.00" stop-opacity="0.000"/><stop offset="0.07" stop-opacity="0.012"/><stop offset="0.14" stop-opacity="0.049"/><stop offset="0.21" stop-opacity="0.138"/><stop offset="0.29" stop-opacity="0.278"/><stop offset="0.36" stop-opacity="0.428"/><stop offset="0.43" stop-opacity="0.539"/><stop offset="0.50" stop-opacity="0.590"/><stop offset="0.57" stop-opacity="0.600"/><stop offset="0.64" stop-opacity="0.599"/><stop offset="0.71" stop-opacity="0.580"/><stop offset="0.79" stop-opacity="0.496"/><stop offset="0.86" stop-opacity="0.316"/><stop offset="0.93" stop-opacity="0.119"/><stop offset="1.00" stop-opacity="0.019"/></linearGradient><linearGradient id="s76" gradientUnits="userSpaceOnUse" x1="0" y1="316.8" x2="0" y2="428.0"><stop offset="0.00" stop-opacity="0.000"/><stop offset="0.07" stop-opacity="0.012"/><stop offset="0.14" stop-opacity="0.050"/><stop offset="0.21" stop-opacity="0.140"/><stop offset="0.29" stop-opacity="0.280"/><stop offset="0.36" stop-opacity="0.431"/><stop offset="0.43" stop-opacity="0.540"/><stop offset="0.50" stop-opacity="0.591"/><stop offset="0.57" stop-opacity="0.600"/><stop offset="0.64" stop-opacity="0.599"/><stop offset="0.71" stop-opacity="0.578"/><stop offset="0.79" stop-opacity="0.489"/><stop offset="0.86" stop-opacity="0.304"/><stop offset="0.93" stop-opacity="0.109"/><stop offset="1.00" stop-opacity="0.016"/></linearGradient><linearGradient id="s77" gradientUnits="userSpaceOnUse" x1="0" y1="316.2" x2="0" y2="428.0"><stop offset="0.00" stop-opacity="0.000"/><stop offset="0.07" stop-opacity="0.012"/><stop offset="0.14" stop-opacity="0.050"/><stop offset="0.21" stop-opacity="0.141"/><stop offset="0.29" stop-opacity="0.282"/><stop offset="0.36" stop-opacity="0.433"/><stop offset="0.43" stop-opacity="0.542"/><stop offset="0.50" stop-opacity="0.591"/><stop offset="0.57" stop-opacity="0.600"/><stop offset="0.64" stop-opacity="0.599"/><stop offset="0.71" stop-opacity="0.576"/><stop offset="0.79" stop-opacity="0.481"/><stop offset="0.86" stop-opacity="0.292"/><stop offset="0.93" stop-opacity="0.099"/><stop offset="1.00" stop-opacity="0.014"/></linearGradient><linearGradient id="s78" gradientUnits="userSpaceOnUse" x1="0" y1="315.7" x2="0" y2="428.0"><stop offset="0.00" stop-opacity="0.000"/><stop offset="0.07" stop-opacity="0.012"/><stop offset="0.14" stop-opacity="0.051"/><stop offset="0.21" stop-opacity="0.142"/><stop offset="0.29" stop-opacity="0.285"/><stop offset="0.36" stop-opacity="0.436"/><stop offset="0.43" stop-opacity="0.544"/><stop offset="0.50" stop-opacity="0.592"/><stop offset="0.57" stop-opacity="0.600"/><stop offset="0.64" stop-opacity="0.599"/><stop offset="0.71" stop-opacity="0.574"/><stop offset="0.79" stop-opacity="0.474"/><stop offset="0.86" stop-opacity="0.279"/><stop offset="0.93" stop-opacity="0.090"/><stop offset="1.00" stop-opacity="0.011"/></linearGradient><linearGradient id="s79" gradientUnits="userSpaceOnUse" x1="0" y1="315.1" x2="0" y2="428.0"><stop offset="0.00" stop-opacity="0.000"/><stop offset="0.07" stop-opacity="0.012"/><stop offset="0.14" stop-opacity="0.051"/><stop offset="0.21" stop-opacity="0.144"/><stop offset="0.29" stop-opacity="0.287"/><stop offset="0.36" stop-opacity="0.438"/><stop offset="0.43" stop-opacity="0.545"/><stop offset="0.50" stop-opacity="0.592"/><stop offset="0.57" stop-opacity="0.600"/><stop offset="0.64" stop-opacity="0.598"/><stop offset="0.71" stop-opacity="0.572"/><stop offset="0.79" stop-opacity="0.466"/><stop offset="0.86" stop-opacity="0.267"/><stop offset="0.93" stop-opacity="0.081"/><stop offset="1.00" stop-opacity="0.009"/></linearGradient><linearGradient id="s80" gradientUnits="userSpaceOnUse" x1="0" y1="314.5" x2="0" y2="428.0"><stop offset="0.00" stop-opacity="0.000"/><stop offset="0.07" stop-opacity="0.012"/><stop offset="0.14" stop-opacity="0.052"/><stop offset="0.21" stop-opacity="0.145"/><stop offset="0.29" stop-opacity="0.289"/><stop offset="0.36" stop-opacity="0.440"/><stop offset="0.43" stop-opacity="0.547"/><stop offset="0.50" stop-opacity="0.593"/><stop offset="0.57" stop-opacity="0.600"/><stop offset="0.64" stop-opacity="0.598"/><stop offset="0.71" stop-opacity="0.569"/><stop offset="0.79" stop-opacity="0.458"/><stop offset="0.86" stop-opacity="0.254"/><stop offset="0.93" stop-opacity="0.073"/><stop offset="1.00" stop-opacity="0.008"/></linearGradient><linearGradient id="s81" gradientUnits="userSpaceOnUse" x1="0" y1="313.9" x2="0" y2="428.0"><stop offset="0.00" stop-opacity="0.000"/><stop offset="0.07" stop-opacity="0.012"/><stop offset="0.14" stop-opacity="0.052"/><stop offset="0.21" stop-opacity="0.146"/><stop offset="0.29" stop-opacity="0.291"/><stop offset="0.36" stop-opacity="0.443"/><stop offset="0.43" stop-opacity="0.549"/><stop offset="0.50" stop-opacity="0.593"/><stop offset="0.57" stop-opacity="0.600"/><stop offset="0.64" stop-opacity="0.598"/><stop offset="0.71" stop-opacity="0.567"/><stop offset="0.79" stop-opacity="0.450"/><stop offset="0.86" stop-opacity="0.242"/><stop offset="0.93" stop-opacity="0.065"/><stop offset="1.00" stop-opacity="0.006"/></linearGradient><linearGradient id="s82" gradientUnits="userSpaceOnUse" x1="0" y1="313.3" x2="0" y2="428.0"><stop offset="0.00" stop-opacity="0.000"/><stop offset="0.07" stop-opacity="0.012"/><stop offset="0.14" stop-opacity="0.053"/><stop offset="0.21" stop-opacity="0.147"/><stop offset="0.29" stop-opacity="0.294"/><stop offset="0.36" stop-opacity="0.445"/><stop offset="0.43" stop-opacity="0.550"/><stop offset="0.50" stop-opacity="0.594"/><stop offset="0.57" stop-opacity="0.600"/><stop offset="0.64" stop-opacity="0.597"/><stop offset="0.71" stop-opacity="0.564"/><stop offset="0.79" stop-opacity="0.441"/><stop offset="0.86" stop-opacity="0.229"/><stop offset="0.93" stop-opacity="0.058"/><stop offset="1.00" stop-opacity="0.005"/></linearGradient><linearGradient id="s83" gradientUnits="userSpaceOnUse" x1="0" y1="312.8" x2="0" y2="428.0"><stop offset="0.00" stop-opacity="0.000"/><stop offset="0.07" stop-opacity="0.013"/><stop offset="0.14" stop-opacity="0.053"/><stop offset="0.21" stop-opacity="0.149"/><stop offset="0.29" stop-opacity="0.296"/><stop offset="0.36" stop-opacity="0.448"/><stop offset="0.43" stop-opacity="0.552"/><stop offset="0.50" stop-opacity="0.594"/><stop offset="0.57" stop-opacity="0.600"/><stop offset="0.64" stop-opacity="0.597"/><stop offset="0.71" stop-opacity="0.561"/><stop offset="0.79" stop-opacity="0.432"/><stop offset="0.86" stop-opacity="0.217"/><stop offset="0.93" stop-opacity="0.052"/><stop offset="1.00" stop-opacity="0.004"/></linearGradient><linearGradient id="s84" gradientUnits="userSpaceOnUse" x1="0" y1="312.2" x2="0" y2="428.0"><stop offset="0.00" stop-opacity="0.000"/><stop offset="0.07" stop-opacity="0.013"/><stop offset="0.14" stop-opacity="0.053"/><stop offset="0.21" stop-opacity="0.150"/><stop offset="0.29" stop-opacity="0.298"/><stop offset="0.36" stop-opacity="0.450"/><stop offset="0.43" stop-opacity="0.553"/><stop offset="0.50" stop-opacity="0.595"/><stop offset="0.57" stop-opacity="0.600"/><stop offset="0.64" stop-opacity="0.597"/><stop offset="0.71" stop-opacity="0.557"/><stop offset="0.79" stop-opacity="0.423"/><stop offset="0.86" stop-opacity="0.205"/><stop offset="0.93" stop-opacity="0.046"/><stop offset="1.00" stop-opacity="0.003"/></linearGradient><linearGradient id="s85" gradientUnits="userSpaceOnUse" x1="0" y1="311.6" x2="0" y2="428.0"><stop offset="0.00" stop-opacity="0.000"/><stop offset="0.07" stop-opacity="0.013"/><stop offset="0.14" stop-opacity="0.054"/><stop offset="0.21" stop-opacity="0.151"/><stop offset="0.29" stop-opacity="0.300"/><stop offset="0.36" stop-opacity="0.452"/><stop offset="0.43" stop-opacity="0.555"/><stop offset="0.50" stop-opacity="0.595"/><stop offset="0.57" stop-opacity="0.600"/><stop offset="0.64" stop-opacity="0.596"/><stop offset="0.71" stop-opacity="0.554"/><stop offset="0.79" stop-opacity="0.413"/><stop offset="0.86" stop-opacity="0.193"/><stop offset="0.93" stop-opacity="0.040"/><stop offset="1.00" stop-opacity="0.002"/></linearGradient><linearGradient id="s86" gradientUnits="userSpaceOnUse" x1="0" y1="311.0" x2="0" y2="428.0"><stop offset="0.00" stop-opacity="0.000"/><stop offset="0.07" stop-opacity="0.013"/><stop offset="0.14" stop-opacity="0.054"/><stop offset="0.21" stop-opacity="0.153"/><stop offset="0.29" stop-opacity="0.303"/><stop offset="0.36" stop-opacity="0.454"/><stop offset="0.43" stop-opacity="0.556"/><stop offset="0.50" stop-opacity="0.596"/><stop offset="0.57" stop-opacity="0.600"/><stop offset="0.64" stop-opacity="0.596"/><stop offset="0.71" stop-opacity="0.550"/><stop offset="0.79" stop-opacity="0.403"/><stop offset="0.86" stop-opacity="0.181"/><stop offset="0.93" stop-opacity="0.035"/><stop offset="1.00" stop-opacity="0.002"/></linearGradient><linearGradient id="s87" gradientUnits="userSpaceOnUse" x1="0" y1="310.4" x2="0" y2="428.0"><stop offset="0.00" stop-opacity="0.000"/><stop offset="0.07" stop-opacity="0.013"/><stop offset="0.14" stop-opacity="0.055"/><stop offset="0.21" stop-opacity="0.154"/><stop offset="0.29" stop-opacity="0.305"/><stop offset="0.36" stop-opacity="0.457"/><stop offset="0.43" stop-opacity="0.557"/><stop offset="0.50" stop-opacity="0.596"/><stop offset="0.57" stop-opacity="0.600"/><stop offset="0.64" stop-opacity="0.595"/><stop offset="0.71" stop-opacity="0.547"/><stop offset="0.79" stop-opacity="0.393"/><stop offset="0.86" stop-opacity="0.170"/><stop offset="0.93" stop-opacity="0.030"/><stop offset="1.00" stop-opacity="0.001"/></linearGradient><linearGradient id="s88" gradientUnits="userSpaceOnUse" x1="0" y1="309.9" x2="0" y2="428.0"><stop offset="0.00" stop-opacity="0.000"/><stop offset="0.07" stop-opacity="0.013"/><stop offset="0.14" stop-opacity="0.055"/><stop offset="0.21" stop-opacity="0.155"/><stop offset="0.29" stop-opacity="0.307"/><stop offset="0.36" stop-opacity="0.459"/><stop offset="0.43" stop-opacity="0.559"/><stop offset="0.50" stop-opacity="0.596"/><stop offset="0.57" stop-opacity="0.600"/><stop offset="0.64" stop-opacity="0.595"/><stop offset="0.71" stop-opacity="0.543"/><stop offset="0.79" stop-opacity="0.383"/><stop offset="0.86" stop-opacity="0.158"/><stop offset="0.93" stop-opacity="0.026"/><stop offset="1.00" stop-opacity="0.001"/></linearGradient><linearGradient id="s89" gradientUnits="userSpaceOnUse" x1="0" y1="309.3" x2="0" y2="428.0"><stop offset="0.00" stop-opacity="0.000"/><stop offset="0.07" stop-opacity="0.013"/><stop offset="0.14" stop-opacity="0.056"/><stop offset="0.21" stop-opacity="0.157"/><stop offset="0.29" stop-opacity="0.309"/><stop offset="0.36" stop-opacity="0.461"/><stop offset="0.43" stop-opacity="0.560"/><stop offset="0.50" stop-opacity="0.597"/><stop offset="0.57" stop-opacity="0.600"/><stop offset="0.64" stop-opacity="0.594"/><stop offset="0.71" stop-opacity="0.538"/><stop offset="0.79" stop-opacity="0.372"/><stop offset="0.86" stop-opacity="0.147"/><stop offset="0.93" stop-opacity="0.022"/><stop offset="1.00" stop-opacity="0.001"/></linearGradient><linearGradient id="s90" gradientUnits="userSpaceOnUse" x1="0" y1="308.7" x2="0" y2="428.0"><stop offset="0.00" stop-opacity="0.000"/><stop offset="0.07" stop-opacity="0.013"/><stop offset="0.14" stop-opacity="0.056"/><stop offset="0.21" stop-opacity="0.158"/><stop offset="0.29" stop-opacity="0.311"/><stop offset="0.36" stop-opacity="0.463"/><stop offset="0.43" stop-opacity="0.561"/><stop offset="0.50" stop-opacity="0.597"/><stop offset="0.57" stop-opacity="0.600"/><stop offset="0.64" stop-opacity="0.593"/><stop offset="0.71" stop-opacity="0.534"/><stop offset="0.79" stop-opacity="0.362"/><stop offset="0.86" stop-opacity="0.137"/><stop offset="0.93" stop-opacity="0.019"/><stop offset="1.00" stop-opacity="0.001"/></linearGradient><linearGradient id="s91" gradientUnits="userSpaceOnUse" x1="0" y1="308.1" x2="0" y2="428.0"><stop offset="0.00" stop-opacity="0.000"/><stop offset="0.07" stop-opacity="0.013"/><stop offset="0.14" stop-opacity="0.057"/><stop offset="0.21" stop-opacity="0.159"/><stop offset="0.29" stop-opacity="0.314"/><stop offset="0.36" stop-opacity="0.466"/><stop offset="0.43" stop-opacity="0.563"/><stop offset="0.50" stop-opacity="0.597"/><stop offset="0.57" stop-opacity="0.600"/><stop offset="0.64" stop-opacity="0.593"/><stop offset="0.71" stop-opacity="0.529"/><stop offset="0.79" stop-opacity="0.351"/><stop offset="0.86" stop-opacity="0.126"/><stop offset="0.93" stop-opacity="0.016"/><stop offset="1.00" stop-opacity="0.000"/></linearGradient><linearGradient id="s92" gradientUnits="userSpaceOnUse" x1="0" y1="307.5" x2="0" y2="428.0"><stop offset="0.00" stop-opacity="0.000"/><stop offset="0.07" stop-opacity="0.013"/><stop offset="0.14" stop-opacity="0.057"/><stop offset="0.21" stop-opacity="0.161"/><stop offset="0.29" stop-opacity="0.316"/><stop offset="0.36" stop-opacity="0.468"/><stop offset="0.43" stop-opacity="0.564"/><stop offset="0.50" stop-opacity="0.597"/><stop offset="0.57" stop-opacity="0.600"/><stop offset="0.64" stop-opacity="0.592"/><stop offset="0.71" stop-opacity="0.525"/><stop offset="0.79" stop-opacity="0.340"/><stop offset="0.86" stop-opacity="0.117"/><stop offset="0.93" stop-opacity="0.014"/><stop offset="1.00" stop-opacity="0.000"/></linearGradient><linearGradient id="s93" gradientUnits="userSpaceOnUse" x1="0" y1="307.0" x2="0" y2="427.4"><stop offset="0.00" stop-opacity="0.000"/><stop offset="0.07" stop-opacity="0.013"/><stop offset="0.14" stop-opacity="0.057"/><stop offset="0.21" stop-opacity="0.160"/><stop offset="0.29" stop-opacity="0.315"/><stop offset="0.36" stop-opacity="0.467"/><stop offset="0.43" stop-opacity="0.563"/><stop offset="0.50" stop-opacity="0.597"/><stop offset="0.57" stop-opacity="0.600"/><stop offset="0.64" stop-opacity="0.592"/><stop offset="0.71" stop-opacity="0.526"/><stop offset="0.79" stop-opacity="0.341"/><stop offset="0.86" stop-opacity="0.117"/><stop offset="0.93" stop-opacity="0.014"/><stop offset="1.00" stop-opacity="0.000"/></linearGradient><linearGradient id="s94" gradientUnits="userSpaceOnUse" x1="0" y1="306.4" x2="0" y2="426.8"><stop offset="0.00" stop-opacity="0.000"/><stop offset="0.07" stop-opacity="0.013"/><stop offset="0.14" stop-opacity="0.057"/><stop offset="0.21" stop-opacity="0.159"/><stop offset="0.29" stop-opacity="0.314"/><stop offset="0.36" stop-opacity="0.465"/><stop offset="0.43" stop-opacity="0.563"/><stop offset="0.50" stop-opacity="0.597"/><stop offset="0.57" stop-opacity="0.600"/><stop offset="0.64" stop-opacity="0.592"/><stop offset="0.71" stop-opacity="0.526"/><stop offset="0.79" stop-opacity="0.343"/><stop offset="0.86" stop-opacity="0.118"/><stop offset="0.93" stop-opacity="0.014"/><stop offset="1.00" stop-opacity="0.000"/></linearGradient><linearGradient id="s95" gradientUnits="userSpaceOnUse" x1="0" y1="305.8" x2="0" y2="426.2"><stop offset="0.00" stop-opacity="0.000"/><stop offset="0.07" stop-opacity="0.013"/><stop offset="0.14" stop-opacity="0.056"/><stop offset="0.21" stop-opacity="0.159"/><stop offset="0.29" stop-opacity="0.312"/><stop offset="0.36" stop-opacity="0.464"/><stop offset="0.43" stop-opacity="0.562"/><stop offset="0.50" stop-opacity="0.597"/><stop offset="0.57" stop-opacity="0.600"/><stop offset="0.64" stop-opacity="0.593"/><stop offset="0.71" stop-opacity="0.527"/><stop offset="0.79" stop-opacity="0.344"/><stop offset="0.86" stop-opacity="0.119"/><stop offset="0.93" stop-opacity="0.014"/><stop offset="1.00" stop-opacity="0.000"/></linearGradient><linearGradient id="s96" gradientUnits="userSpaceOnUse" x1="0" y1="305.2" x2="0" y2="425.6"><stop offset="0.00" stop-opacity="0.000"/><stop offset="0.07" stop-opacity="0.013"/><stop offset="0.14" stop-opacity="0.056"/><stop offset="0.21" stop-opacity="0.158"/><stop offset="0.29" stop-opacity="0.311"/><stop offset="0.36" stop-opacity="0.463"/><stop offset="0.43" stop-opacity="0.561"/><stop offset="0.50" stop-opacity="0.597"/><stop offset="0.57" stop-opacity="0.600"/><stop offset="0.64" stop-opacity="0.593"/><stop offset="0.71" stop-opacity="0.528"/><stop offset="0.79" stop-opacity="0.345"/><stop offset="0.86" stop-opacity="0.120"/><stop offset="0.93" stop-opacity="0.014"/><stop offset="1.00" stop-opacity="0.000"/></linearGradient><linearGradient id="s97" gradientUnits="userSpaceOnUse" x1="0" y1="304.7" x2="0" y2="425.2"><stop offset="0.00" stop-opacity="0.000"/><stop offset="0.07" stop-opacity="0.013"/><stop offset="0.14" stop-opacity="0.056"/><stop offset="0.21" stop-opacity="0.158"/><stop offset="0.29" stop-opacity="0.311"/><stop offset="0.36" stop-opacity="0.463"/><stop offset="0.43" stop-opacity="0.561"/><stop offset="0.50" stop-opacity="0.596"/><stop offset="0.57" stop-opacity="0.599"/><stop offset="0.64" stop-opacity="0.592"/><stop offset="0.71" stop-opacity="0.528"/><stop offset="0.79" stop-opacity="0.345"/><stop offset="0.86" stop-opacity="0.119"/><stop offset="0.93" stop-opacity="0.014"/><stop offset="1.00" stop-opacity="0.000"/></linearGradient><linearGradient id="s98" gradientUnits="userSpaceOnUse" x1="0" y1="304.3" x2="0" y2="424.8"><stop offset="0.00" stop-opacity="0.000"/><stop offset="0.07" stop-opacity="0.013"/><stop offset="0.14" stop-opacity="0.056"/><stop offset="0.21" stop-opacity="0.158"/><stop offset="0.29" stop-opacity="0.311"/><stop offset="0.36" stop-opacity="0.463"/><stop offset="0.43" stop-opacity="0.560"/><stop offset="0.50" stop-opacity="0.595"/><stop offset="0.57" stop-opacity="0.598"/><stop offset="0.64" stop-opacity="0.591"/><stop offset="0.71" stop-opacity="0.526"/><stop offset="0.79" stop-opacity="0.343"/><stop offset="0.86" stop-opacity="0.119"/><stop offset="0.93" stop-opacity="0.014"/><stop offset="1.00" stop-opacity="0.000"/></linearGradient><linearGradient id="s99" gradientUnits="userSpaceOnUse" x1="0" y1="303.9" x2="0" y2="424.4"><stop offset="0.00" stop-opacity="0.000"/><stop offset="0.07" stop-opacity="0.013"/><stop offset="0.14" stop-opacity="0.056"/><stop offset="0.21" stop-opacity="0.158"/><stop offset="0.29" stop-opacity="0.311"/><stop offset="0.36" stop-opacity="0.462"/><stop offset="0.43" stop-opacity="0.559"/><stop offset="0.50" stop-opacity="0.594"/><stop offset="0.57" stop-opacity="0.597"/><stop offset="0.64" stop-opacity="0.590"/><stop offset="0.71" stop-opacity="0.525"/><stop offset="0.79" stop-opacity="0.342"/><stop offset="0.86" stop-opacity="0.118"/><stop offset="0.93" stop-opacity="0.014"/><stop offset="1.00" stop-opacity="0.000"/></linearGradient><linearGradient id="s100" gradientUnits="userSpaceOnUse" x1="0" y1="303.4" x2="0" y2="424.0"><stop offset="0.00" stop-opacity="0.000"/><stop offset="0.07" stop-opacity="0.013"/><stop offset="0.14" stop-opacity="0.056"/><stop offset="0.21" stop-opacity="0.158"/><stop offset="0.29" stop-opacity="0.311"/><stop offset="0.36" stop-opacity="0.462"/><stop offset="0.43" stop-opacity="0.559"/><stop offset="0.50" stop-opacity="0.593"/><stop offset="0.57" stop-opacity="0.596"/><stop offset="0.64" stop-opacity="0.588"/><stop offset="0.71" stop-opacity="0.523"/><stop offset="0.79" stop-opacity="0.341"/><stop offset="0.86" stop-opacity="0.117"/><stop offset="0.93" stop-opacity="0.014"/><stop offset="1.00" stop-opacity="0.000"/></linearGradient><linearGradient id="s101" gradientUnits="userSpaceOnUse" x1="0" y1="303.0" x2="0" y2="423.6"><stop offset="0.00" stop-opacity="0.000"/><stop offset="0.07" stop-opacity="0.013"/><stop offset="0.14" stop-opacity="0.056"/><stop offset="0.21" stop-opacity="0.158"/><stop offset="0.29" stop-opacity="0.311"/><stop offset="0.36" stop-opacity="0.462"/><stop offset="0.43" stop-opacity="0.558"/><stop offset="0.50" stop-opacity="0.592"/><stop offset="0.57" stop-opacity="0.595"/><stop offset="0.64" stop-opacity="0.587"/><stop offset="0.71" stop-opacity="0.522"/><stop offset="0.79" stop-opacity="0.339"/><stop offset="0.86" stop-opacity="0.117"/><stop offset="0.93" stop-opacity="0.014"/><stop offset="1.00" stop-opacity="0.000"/></linearGradient><linearGradient id="s102" gradientUnits="userSpaceOnUse" x1="0" y1="302.5" x2="0" y2="423.2"><stop offset="0.00" stop-opacity="0.000"/><stop offset="0.07" stop-opacity="0.013"/><stop offset="0.14" stop-opacity="0.056"/><stop offset="0.21" stop-opacity="0.158"/><stop offset="0.29" stop-opacity="0.311"/><stop offset="0.36" stop-opacity="0.462"/><stop offset="0.43" stop-opacity="0.557"/><stop offset="0.50" stop-opacity="0.591"/><stop offset="0.57" stop-opacity="0.594"/><stop offset="0.64" stop-opacity="0.586"/><stop offset="0.71" stop-opacity="0.520"/><stop offset="0.79" stop-opacity="0.338"/><stop offset="0.86" stop-opacity="0.116"/><stop offset="0.93" stop-opacity="0.014"/><stop offset="1.00" stop-opacity="0.000"/></linearGradient><linearGradient id="s103" gradientUnits="userSpaceOnUse" x1="0" y1="302.1" x2="0" y2="422.8"><stop offset="0.00" stop-opacity="0.000"/><stop offset="0.07" stop-opacity="0.013"/><stop offset="0.14" stop-opacity="0.056"/><stop offset="0.21" stop-opacity="0.158"/><stop offset="0.29" stop-opacity="0.311"/><stop offset="0.36" stop-opacity="0.461"/><stop offset="0.43" stop-opacity="0.557"/><stop offset="0.50" stop-opacity="0.590"/><stop offset="0.57" stop-opacity="0.593"/><stop offset="0.64" stop-opacity="0.585"/><stop offset="0.71" stop-opacity="0.519"/><stop offset="0.79" stop-opacity="0.336"/><stop offset="0.86" stop-opacity="0.116"/><stop offset="0.93" stop-opacity="0.014"/><stop offset="1.00" stop-opacity="0.000"/></linearGradient><linearGradient id="s104" gradientUnits="userSpaceOnUse" x1="0" y1="301.7" x2="0" y2="422.5"><stop offset="0.00" stop-opacity="0.000"/><stop offset="0.07" stop-opacity="0.013"/><stop offset="0.14" stop-opacity="0.056"/><stop offset="0.21" stop-opacity="0.159"/><stop offset="0.29" stop-opacity="0.311"/><stop offset="0.36" stop-opacity="0.461"/><stop offset="0.43" stop-opacity="0.556"/><stop offset="0.50" stop-opacity="0.589"/><stop offset="0.57" stop-opacity="0.592"/><stop offset="0.64" stop-opacity="0.584"/><stop offset="0.71" stop-opacity="0.517"/><stop offset="0.79" stop-opacity="0.335"/><stop offset="0.86" stop-opacity="0.115"/><stop offset="0.93" stop-opacity="0.014"/><stop offset="1.00" stop-opacity="0.000"/></linearGradient><linearGradient id="s105" gradientUnits="userSpaceOnUse" x1="0" y1="301.2" x2="0" y2="422.1"><stop offset="0.00" stop-opacity="0.000"/><stop offset="0.07" stop-opacity="0.013"/><stop offset="0.14" stop-opacity="0.056"/><stop offset="0.21" stop-opacity="0.159"/><stop offset="0.29" stop-opacity="0.311"/><stop offset="0.36" stop-opacity="0.461"/><stop offset="0.43" stop-opacity="0.555"/><stop offset="0.50" stop-opacity="0.588"/><stop offset="0.57" stop-opacity="0.591"/><stop offset="0.64" stop-opacity="0.582"/><stop offset="0.71" stop-opacity="0.516"/><stop offset="0.79" stop-opacity="0.334"/><stop offset="0.86" stop-opacity="0.114"/><stop offset="0.93" stop-opacity="0.013"/><stop offset="1.00" stop-opacity="0.000"/></linearGradient><linearGradient id="s106" gradientUnits="userSpaceOnUse" x1="0" y1="300.8" x2="0" y2="421.7"><stop offset="0.00" stop-opacity="0.000"/><stop offset="0.07" stop-opacity="0.013"/><stop offset="0.14" stop-opacity="0.056"/><stop offset="0.21" stop-opacity="0.159"/><stop offset="0.29" stop-opacity="0.311"/><stop offset="0.36" stop-opacity="0.461"/><stop offset="0.43" stop-opacity="0.555"/><stop offset="0.50" stop-opacity="0.587"/><stop offset="0.57" stop-opacity="0.589"/><stop offset="0.64" stop-opacity="0.581"/><stop offset="0.71" stop-opacity="0.514"/><stop offset="0.79" stop-opacity="0.332"/><stop offset="0.86" stop-opacity="0.114"/><stop offset="0.93" stop-opacity="0.013"/><stop offset="1.00" stop-opacity="0.000"/></linearGradient><linearGradient id="s107" gradientUnits="userSpaceOnUse" x1="0" y1="300.3" x2="0" y2="421.3"><stop offset="0.00" stop-opacity="0.000"/><stop offset="0.07" stop-opacity="0.013"/><stop offset="0.14" stop-opacity="0.056"/><stop offset="0.21" stop-opacity="0.159"/><stop offset="0.29" stop-opacity="0.311"/><stop offset="0.36" stop-opacity="0.460"/><stop offset="0.43" stop-opacity="0.554"/><stop offset="0.50" stop-opacity="0.586"/><stop offset="0.57" stop-opacity="0.588"/><stop offset="0.64" stop-opacity="0.580"/><stop offset="0.71" stop-opacity="0.513"/><stop offset="0.79" stop-opacity="0.331"/><stop offset="0.86" stop-opacity="0.113"/><stop offset="0.93" stop-opacity="0.013"/><stop offset="1.00" stop-opacity="0.000"/></linearGradient><linearGradient id="s108" gradientUnits="userSpaceOnUse" x1="0" y1="299.9" x2="0" y2="420.9"><stop offset="0.00" stop-opacity="0.000"/><stop offset="0.07" stop-opacity="0.013"/><stop offset="0.14" stop-opacity="0.056"/><stop offset="0.21" stop-opacity="0.159"/><stop offset="0.29" stop-opacity="0.311"/><stop offset="0.36" stop-opacity="0.460"/><stop offset="0.43" stop-opacity="0.553"/><stop offset="0.50" stop-opacity="0.585"/><stop offset="0.57" stop-opacity="0.587"/><stop offset="0.64" stop-opacity="0.579"/><stop offset="0.71" stop-opacity="0.511"/><stop offset="0.79" stop-opacity="0.329"/><stop offset="0.86" stop-opacity="0.113"/><stop offset="0.93" stop-opacity="0.013"/><stop offset="1.00" stop-opacity="0.000"/></linearGradient><linearGradient id="s109" gradientUnits="userSpaceOnUse" x1="0" y1="299.4" x2="0" y2="420.5"><stop offset="0.00" stop-opacity="0.000"/><stop offset="0.07" stop-opacity="0.013"/><stop offset="0.14" stop-opacity="0.057"/><stop offset="0.21" stop-opacity="0.159"/><stop offset="0.29" stop-opacity="0.311"/><stop offset="0.36" stop-opacity="0.460"/><stop offset="0.43" stop-opacity="0.553"/><stop offset="0.50" stop-opacity="0.584"/><stop offset="0.57" stop-opacity="0.586"/><stop offset="0.64" stop-opacity="0.577"/><stop offset="0.71" stop-opacity="0.510"/><stop offset="0.79" stop-opacity="0.328"/><stop offset="0.86" stop-opacity="0.112"/><stop offset="0.93" stop-opacity="0.013"/><stop offset="1.00" stop-opacity="0.000"/></linearGradient><linearGradient id="s110" gradientUnits="userSpaceOnUse" x1="0" y1="299.0" x2="0" y2="420.1"><stop offset="0.00" stop-opacity="0.000"/><stop offset="0.07" stop-opacity="0.013"/><stop offset="0.14" stop-opacity="0.057"/><stop offset="0.21" stop-opacity="0.159"/><stop offset="0.29" stop-opacity="0.311"/><stop offset="0.36" stop-opacity="0.460"/><stop offset="0.43" stop-opacity="0.552"/><stop offset="0.50" stop-opacity="0.583"/><stop offset="0.57" stop-opacity="0.585"/><stop offset="0.64" stop-opacity="0.576"/><stop offset="0.71" stop-opacity="0.508"/><stop offset="0.79" stop-opacity="0.327"/><stop offset="0.86" stop-opacity="0.111"/><stop offset="0.93" stop-opacity="0.013"/><stop offset="1.00" stop-opacity="0.000"/></linearGradient><linearGradient id="s111" gradientUnits="userSpaceOnUse" x1="0" y1="298.6" x2="0" y2="419.7"><stop offset="0.00" stop-opacity="0.000"/><stop offset="0.07" stop-opacity="0.013"/><stop offset="0.14" stop-opacity="0.057"/><stop offset="0.21" stop-opacity="0.159"/><stop offset="0.29" stop-opacity="0.311"/><stop offset="0.36" stop-opacity="0.459"/><stop offset="0.43" stop-opacity="0.551"/><stop offset="0.50" stop-opacity="0.582"/><stop offset="0.57" stop-opacity="0.584"/><stop offset="0.64" stop-opacity="0.575"/><stop offset="0.71" stop-opacity="0.507"/><stop offset="0.79" stop-opacity="0.325"/><stop offset="0.86" stop-opacity="0.111"/><stop offset="0.93" stop-opacity="0.013"/><stop offset="1.00" stop-opacity="0.000"/></linearGradient><linearGradient id="s112" gradientUnits="userSpaceOnUse" x1="0" y1="298.1" x2="0" y2="419.3"><stop offset="0.00" stop-opacity="0.000"/><stop offset="0.07" stop-opacity="0.013"/><stop offset="0.14" stop-opacity="0.057"/><stop offset="0.21" stop-opacity="0.159"/><stop offset="0.29" stop-opacity="0.311"/><stop offset="0.36" stop-opacity="0.459"/><stop offset="0.43" stop-opacity="0.550"/><stop offset="0.50" stop-opacity="0.581"/><stop offset="0.57" stop-opacity="0.583"/><stop offset="0.64" stop-opacity="0.574"/><stop offset="0.71" stop-opacity="0.505"/><stop offset="0.79" stop-opacity="0.324"/><stop offset="0.86" stop-opacity="0.110"/><stop offset="0.93" stop-opacity="0.013"/><stop offset="1.00" stop-opacity="0.000"/></linearGradient><linearGradient id="s113" gradientUnits="userSpaceOnUse" x1="0" y1="297.7" x2="0" y2="418.9"><stop offset="0.00" stop-opacity="0.000"/><stop offset="0.07" stop-opacity="0.013"/><stop offset="0.14" stop-opacity="0.057"/><stop offset="0.21" stop-opacity="0.159"/><stop offset="0.29" stop-opacity="0.311"/><stop offset="0.36" stop-opacity="0.459"/><stop offset="0.43" stop-opacity="0.550"/><stop offset="0.50" stop-opacity="0.580"/><stop offset="0.57" stop-opacity="0.582"/><stop offset="0.64" stop-opacity="0.573"/><stop offset="0.71" stop-opacity="0.504"/><stop offset="0.79" stop-opacity="0.323"/><stop offset="0.86" stop-opacity="0.110"/><stop offset="0.93" stop-opacity="0.013"/><stop offset="1.00" stop-opacity="0.000"/></linearGradient><linearGradient id="s114" gradientUnits="userSpaceOnUse" x1="0" y1="297.2" x2="0" y2="418.5"><stop offset="0.00" stop-opacity="0.000"/><stop offset="0.07" stop-opacity="0.013"/><stop offset="0.14" stop-opacity="0.057"/><stop offset="0.21" stop-opacity="0.159"/><stop offset="0.29" stop-opacity="0.311"/><stop offset="0.36" stop-opacity="0.458"/><stop offset="0.43" stop-opacity="0.549"/><stop offset="0.50" stop-opacity="0.579"/><stop offset="0.57" stop-opacity="0.581"/><stop offset="0.64" stop-opacity="0.571"/><stop offset="0.71" stop-opacity="0.502"/><stop offset="0.79" stop-opacity="0.321"/><stop offset="0.86" stop-opacity="0.109"/><stop offset="0.93" stop-opacity="0.013"/><stop offset="1.00" stop-opacity="0.000"/></linearGradient><linearGradient id="s115" gradientUnits="userSpaceOnUse" x1="0" y1="296.8" x2="0" y2="418.1"><stop offset="0.00" stop-opacity="0.000"/><stop offset="0.07" stop-opacity="0.013"/><stop offset="0.14" stop-opacity="0.057"/><stop offset="0.21" stop-opacity="0.159"/><stop offset="0.29" stop-opacity="0.311"/><stop offset="0.36" stop-opacity="0.458"/><stop offset="0.43" stop-opacity="0.548"/><stop offset="0.50" stop-opacity="0.578"/><stop offset="0.57" stop-opacity="0.580"/><stop offset="0.64" stop-opacity="0.570"/><stop offset="0.71" stop-opacity="0.501"/><stop offset="0.79" stop-opacity="0.320"/><stop offset="0.86" stop-opacity="0.109"/><stop offset="0.93" stop-opacity="0.013"/><stop offset="1.00" stop-opacity="0.000"/></linearGradient><linearGradient id="s116" gradientUnits="userSpaceOnUse" x1="0" y1="296.4" x2="0" y2="417.8"><stop offset="0.00" stop-opacity="0.000"/><stop offset="0.07" stop-opacity="0.013"/><stop offset="0.14" stop-opacity="0.057"/><stop offset="0.21" stop-opacity="0.159"/><stop offset="0.29" stop-opacity="0.311"/><stop offset="0.36" stop-opacity="0.458"/><stop offset="0.43" stop-opacity="0.548"/><stop offset="0.50" stop-opacity="0.577"/><stop offset="0.57" stop-opacity="0.579"/><stop offset="0.64" stop-opacity="0.569"/><stop offset="0.71" stop-opacity="0.499"/><stop offset="0.79" stop-opacity="0.319"/><stop offset="0.86" stop-opacity="0.108"/><stop offset="0.93" stop-opacity="0.013"/><stop offset="1.00" stop-opacity="0.000"/></linearGradient><linearGradient id="s117" gradientUnits="userSpaceOnUse" x1="0" y1="295.9" x2="0" y2="417.4"><stop offset="0.00" stop-opacity="0.000"/><stop offset="0.07" stop-opacity="0.013"/><stop offset="0.14" stop-opacity="0.057"/><stop offset="0.21" stop-opacity="0.159"/><stop offset="0.29" stop-opacity="0.311"/><stop offset="0.36" stop-opacity="0.458"/><stop offset="0.43" stop-opacity="0.547"/><stop offset="0.50" stop-opacity="0.576"/><stop offset="0.57" stop-opacity="0.577"/><stop offset="0.64" stop-opacity="0.568"/><stop offset="0.71" stop-opacity="0.498"/><stop offset="0.79" stop-opacity="0.317"/><stop offset="0.86" stop-opacity="0.107"/><stop offset="0.93" stop-opacity="0.013"/><stop offset="1.00" stop-opacity="0.000"/></linearGradient><linearGradient id="s118" gradientUnits="userSpaceOnUse" x1="0" y1="295.5" x2="0" y2="417.0"><stop offset="0.00" stop-opacity="0.000"/><stop offset="0.07" stop-opacity="0.013"/><stop offset="0.14" stop-opacity="0.057"/><stop offset="0.21" stop-opacity="0.160"/><stop offset="0.29" stop-opacity="0.311"/><stop offset="0.36" stop-opacity="0.457"/><stop offset="0.43" stop-opacity="0.546"/><stop offset="0.50" stop-opacity="0.575"/><stop offset="0.57" stop-opacity="0.576"/><stop offset="0.64" stop-opacity="0.567"/><stop offset="0.71" stop-opacity="0.496"/><stop offset="0.79" stop-opacity="0.316"/><stop offset="0.86" stop-opacity="0.107"/><stop offset="0.93" stop-opacity="0.013"/><stop offset="1.00" stop-opacity="0.000"/></linearGradient><linearGradient id="s119" gradientUnits="userSpaceOnUse" x1="0" y1="295.0" x2="0" y2="416.6"><stop offset="0.00" stop-opacity="0.000"/><stop offset="0.07" stop-opacity="0.013"/><stop offset="0.14" stop-opacity="0.057"/><stop offset="0.21" stop-opacity="0.160"/><stop offset="0.29" stop-opacity="0.311"/><stop offset="0.36" stop-opacity="0.457"/><stop offset="0.43" stop-opacity="0.545"/><stop offset="0.50" stop-opacity="0.574"/><stop offset="0.57" stop-opacity="0.575"/><stop offset="0.64" stop-opacity="0.565"/><stop offset="0.71" stop-opacity="0.495"/><stop offset="0.79" stop-opacity="0.315"/><stop offset="0.86" stop-opacity="0.106"/><stop offset="0.93" stop-opacity="0.013"/><stop offset="1.00" stop-opacity="0.000"/></linearGradient><linearGradient id="s120" gradientUnits="userSpaceOnUse" x1="0" y1="294.6" x2="0" y2="416.2"><stop offset="0.00" stop-opacity="0.000"/><stop offset="0.07" stop-opacity="0.013"/><stop offset="0.14" stop-opacity="0.057"/><stop offset="0.21" stop-opacity="0.160"/><stop offset="0.29" stop-opacity="0.311"/><stop offset="0.36" stop-opacity="0.457"/><stop offset="0.43" stop-opacity="0.545"/><stop offset="0.50" stop-opacity="0.573"/><stop offset="0.57" stop-opacity="0.574"/><stop offset="0.64" stop-opacity="0.564"/><stop offset="0.71" stop-opacity="0.493"/><stop offset="0.79" stop-opacity="0.313"/><stop offset="0.86" stop-opacity="0.106"/><stop offset="0.93" stop-opacity="0.012"/><stop offset="1.00" stop-opacity="0.000"/></linearGradient><linearGradient id="s121" gradientUnits="userSpaceOnUse" x1="0" y1="294.2" x2="0" y2="415.8"><stop offset="0.00" stop-opacity="0.000"/><stop offset="0.07" stop-opacity="0.013"/><stop offset="0.14" stop-opacity="0.057"/><stop offset="0.21" stop-opacity="0.160"/><stop offset="0.29" stop-opacity="0.311"/><stop offset="0.36" stop-opacity="0.456"/><stop offset="0.43" stop-opacity="0.544"/><stop offset="0.50" stop-opacity="0.572"/><stop offset="0.57" stop-opacity="0.573"/><stop offset="0.64" stop-opacity="0.563"/><stop offset="0.71" stop-opacity="0.492"/><stop offset="0.79" stop-opacity="0.312"/><stop offset="0.86" stop-opacity="0.105"/><stop offset="0.93" stop-opacity="0.012"/><stop offset="1.00" stop-opacity="0.000"/></linearGradient><linearGradient id="s122" gradientUnits="userSpaceOnUse" x1="0" y1="293.7" x2="0" y2="415.4"><stop offset="0.00" stop-opacity="0.000"/><stop offset="0.07" stop-opacity="0.013"/><stop offset="0.14" stop-opacity="0.057"/><stop offset="0.21" stop-opacity="0.160"/><stop offset="0.29" stop-opacity="0.311"/><stop offset="0.36" stop-opacity="0.456"/><stop offset="0.43" stop-opacity="0.543"/><stop offset="0.50" stop-opacity="0.571"/><stop offset="0.57" stop-opacity="0.572"/><stop offset="0.64" stop-opacity="0.562"/><stop offset="0.71" stop-opacity="0.491"/><stop offset="0.79" stop-opacity="0.311"/><stop offset="0.86" stop-opacity="0.105"/><stop offset="0.93" stop-opacity="0.012"/><stop offset="1.00" stop-opacity="0.000"/></linearGradient><linearGradient id="s123" gradientUnits="userSpaceOnUse" x1="0" y1="293.3" x2="0" y2="415.0"><stop offset="0.00" stop-opacity="0.000"/><stop offset="0.07" stop-opacity="0.013"/><stop offset="0.14" stop-opacity="0.057"/><stop offset="0.21" stop-opacity="0.160"/><stop offset="0.29" stop-opacity="0.311"/><stop offset="0.36" stop-opacity="0.456"/><stop offset="0.43" stop-opacity="0.543"/><stop offset="0.50" stop-opacity="0.570"/><stop offset="0.57" stop-opacity="0.571"/><stop offset="0.64" stop-opacity="0.560"/><stop offset="0.71" stop-opacity="0.489"/><stop offset="0.79" stop-opacity="0.309"/><stop offset="0.86" stop-opacity="0.104"/><stop offset="0.93" stop-opacity="0.012"/><stop offset="1.00" stop-opacity="0.000"/></linearGradient><linearGradient id="s124" gradientUnits="userSpaceOnUse" x1="0" y1="292.8" x2="0" y2="414.6"><stop offset="0.00" stop-opacity="0.000"/><stop offset="0.07" stop-opacity="0.013"/><stop offset="0.14" stop-opacity="0.057"/><stop offset="0.21" stop-opacity="0.160"/><stop offset="0.29" stop-opacity="0.311"/><stop offset="0.36" stop-opacity="0.455"/><stop offset="0.43" stop-opacity="0.542"/><stop offset="0.50" stop-opacity="0.569"/><stop offset="0.57" stop-opacity="0.570"/><stop offset="0.64" stop-opacity="0.559"/><stop offset="0.71" stop-opacity="0.488"/><stop offset="0.79" stop-opacity="0.308"/><stop offset="0.86" stop-opacity="0.104"/><stop offset="0.93" stop-opacity="0.012"/><stop offset="1.00" stop-opacity="0.000"/></linearGradient><linearGradient id="s125" gradientUnits="userSpaceOnUse" x1="0" y1="292.4" x2="0" y2="414.2"><stop offset="0.00" stop-opacity="0.000"/><stop offset="0.07" stop-opacity="0.013"/><stop offset="0.14" stop-opacity="0.057"/><stop offset="0.21" stop-opacity="0.160"/><stop offset="0.29" stop-opacity="0.311"/><stop offset="0.36" stop-opacity="0.455"/><stop offset="0.43" stop-opacity="0.541"/><stop offset="0.50" stop-opacity="0.568"/><stop offset="0.57" stop-opacity="0.569"/><stop offset="0.64" stop-opacity="0.558"/><stop offset="0.71" stop-opacity="0.486"/><stop offset="0.79" stop-opacity="0.307"/><stop offset="0.86" stop-opacity="0.103"/><stop offset="0.93" stop-opacity="0.012"/><stop offset="1.00" stop-opacity="0.000"/></linearGradient><linearGradient id="s126" gradientUnits="userSpaceOnUse" x1="0" y1="291.9" x2="0" y2="413.8"><stop offset="0.00" stop-opacity="0.000"/><stop offset="0.07" stop-opacity="0.013"/><stop offset="0.14" stop-opacity="0.057"/><stop offset="0.21" stop-opacity="0.160"/><stop offset="0.29" stop-opacity="0.311"/><stop offset="0.36" stop-opacity="0.455"/><stop offset="0.43" stop-opacity="0.540"/><stop offset="0.50" stop-opacity="0.567"/><stop offset="0.57" stop-opacity="0.568"/><stop offset="0.64" stop-opacity="0.557"/><stop offset="0.71" stop-opacity="0.485"/><stop offset="0.79" stop-opacity="0.306"/><stop offset="0.86" stop-opacity="0.103"/><stop offset="0.93" stop-opacity="0.012"/><stop offset="1.00" stop-opacity="0.000"/></linearGradient><linearGradient id="s127" gradientUnits="userSpaceOnUse" x1="0" y1="291.5" x2="0" y2="413.5"><stop offset="0.00" stop-opacity="0.000"/><stop offset="0.07" stop-opacity="0.013"/><stop offset="0.14" stop-opacity="0.057"/><stop offset="0.21" stop-opacity="0.160"/><stop offset="0.29" stop-opacity="0.311"/><stop offset="0.36" stop-opacity="0.454"/><stop offset="0.43" stop-opacity="0.540"/><stop offset="0.50" stop-opacity="0.565"/><stop offset="0.57" stop-opacity="0.567"/><stop offset="0.64" stop-opacity="0.556"/><stop offset="0.71" stop-opacity="0.483"/><stop offset="0.79" stop-opacity="0.304"/><stop offset="0.86" stop-opacity="0.102"/><stop offset="0.93" stop-opacity="0.012"/><stop offset="1.00" stop-opacity="0.000"/></linearGradient><linearGradient id="s128" gradientUnits="userSpaceOnUse" x1="0" y1="291.1" x2="0" y2="413.1"><stop offset="0.00" stop-opacity="0.000"/><stop offset="0.07" stop-opacity="0.013"/><stop offset="0.14" stop-opacity="0.057"/><stop offset="0.21" stop-opacity="0.160"/><stop offset="0.29" stop-opacity="0.311"/><stop offset="0.36" stop-opacity="0.454"/><stop offset="0.43" stop-opacity="0.539"/><stop offset="0.50" stop-opacity="0.564"/><stop offset="0.57" stop-opacity="0.565"/><stop offset="0.64" stop-opacity="0.554"/><stop offset="0.71" stop-opacity="0.482"/><stop offset="0.79" stop-opacity="0.303"/><stop offset="0.86" stop-opacity="0.101"/><stop offset="0.93" stop-opacity="0.012"/><stop offset="1.00" stop-opacity="0.000"/></linearGradient><linearGradient id="s129" gradientUnits="userSpaceOnUse" x1="0" y1="290.6" x2="0" y2="412.7"><stop offset="0.00" stop-opacity="0.000"/><stop offset="0.07" stop-opacity="0.013"/><stop offset="0.14" stop-opacity="0.057"/><stop offset="0.21" stop-opacity="0.160"/><stop offset="0.29" stop-opacity="0.311"/><stop offset="0.36" stop-opacity="0.454"/><stop offset="0.43" stop-opacity="0.538"/><stop offset="0.50" stop-opacity="0.563"/><stop offset="0.57" stop-opacity="0.564"/><stop offset="0.64" stop-opacity="0.553"/><stop offset="0.71" stop-opacity="0.480"/><stop offset="0.79" stop-opacity="0.302"/><stop offset="0.86" stop-opacity="0.101"/><stop offset="0.93" stop-opacity="0.012"/><stop offset="1.00" stop-opacity="0.000"/></linearGradient><linearGradient id="s130" gradientUnits="userSpaceOnUse" x1="0" y1="290.2" x2="0" y2="412.3"><stop offset="0.00" stop-opacity="0.000"/><stop offset="0.07" stop-opacity="0.013"/><stop offset="0.14" stop-opacity="0.057"/><stop offset="0.21" stop-opacity="0.160"/><stop offset="0.29" stop-opacity="0.311"/><stop offset="0.36" stop-opacity="0.453"/><stop offset="0.43" stop-opacity="0.537"/><stop offset="0.50" stop-opacity="0.562"/><stop offset="0.57" stop-opacity="0.563"/><stop offset="0.64" stop-opacity="0.552"/><stop offset="0.71" stop-opacity="0.479"/><stop offset="0.79" stop-opacity="0.300"/><stop offset="0.86" stop-opacity="0.100"/><stop offset="0.93" stop-opacity="0.012"/><stop offset="1.00" stop-opacity="0.000"/></linearGradient><linearGradient id="s131" gradientUnits="userSpaceOnUse" x1="0" y1="289.7" x2="0" y2="411.9"><stop offset="0.00" stop-opacity="0.000"/><stop offset="0.07" stop-opacity="0.013"/><stop offset="0.14" stop-opacity="0.057"/><stop offset="0.21" stop-opacity="0.160"/><stop offset="0.29" stop-opacity="0.311"/><stop offset="0.36" stop-opacity="0.453"/><stop offset="0.43" stop-opacity="0.537"/><stop offset="0.50" stop-opacity="0.561"/><stop offset="0.57" stop-opacity="0.562"/><stop offset="0.64" stop-opacity="0.551"/><stop offset="0.71" stop-opacity="0.477"/><stop offset="0.79" stop-opacity="0.299"/><stop offset="0.86" stop-opacity="0.100"/><stop offset="0.93" stop-opacity="0.012"/><stop offset="1.00" stop-opacity="0.000"/></linearGradient><linearGradient id="s132" gradientUnits="userSpaceOnUse" x1="0" y1="289.3" x2="0" y2="411.5"><stop offset="0.00" stop-opacity="0.000"/><stop offset="0.07" stop-opacity="0.013"/><stop offset="0.14" stop-opacity="0.057"/><stop offset="0.21" stop-opacity="0.160"/><stop offset="0.29" stop-opacity="0.311"/><stop offset="0.36" stop-opacity="0.453"/><stop offset="0.43" stop-opacity="0.536"/><stop offset="0.50" stop-opacity="0.560"/><stop offset="0.57" stop-opacity="0.561"/><stop offset="0.64" stop-opacity="0.549"/><stop offset="0.71" stop-opacity="0.476"/><stop offset="0.79" stop-opacity="0.298"/><stop offset="0.86" stop-opacity="0.099"/><stop offset="0.93" stop-opacity="0.012"/><stop offset="1.00" stop-opacity="0.000"/></linearGradient><linearGradient id="s133" gradientUnits="userSpaceOnUse" x1="0" y1="288.9" x2="0" y2="411.1"><stop offset="0.00" stop-opacity="0.000"/><stop offset="0.07" stop-opacity="0.013"/><stop offset="0.14" stop-opacity="0.057"/><stop offset="0.21" stop-opacity="0.160"/><stop offset="0.29" stop-opacity="0.311"/><stop offset="0.36" stop-opacity="0.452"/><stop offset="0.43" stop-opacity="0.535"/><stop offset="0.50" stop-opacity="0.559"/><stop offset="0.57" stop-opacity="0.560"/><stop offset="0.64" stop-opacity="0.548"/><stop offset="0.71" stop-opacity="0.474"/><stop offset="0.79" stop-opacity="0.297"/><stop offset="0.86" stop-opacity="0.099"/><stop offset="0.93" stop-opacity="0.012"/><stop offset="1.00" stop-opacity="0.000"/></linearGradient><linearGradient id="s134" gradientUnits="userSpaceOnUse" x1="0" y1="288.4" x2="0" y2="410.7"><stop offset="0.00" stop-opacity="0.000"/><stop offset="0.07" stop-opacity="0.013"/><stop offset="0.14" stop-opacity="0.057"/><stop offset="0.21" stop-opacity="0.161"/><stop offset="0.29" stop-opacity="0.311"/><stop offset="0.36" stop-opacity="0.452"/><stop offset="0.43" stop-opacity="0.534"/><stop offset="0.50" stop-opacity="0.558"/><stop offset="0.57" stop-opacity="0.559"/><stop offset="0.64" stop-opacity="0.547"/><stop offset="0.71" stop-opacity="0.473"/><stop offset="0.79" stop-opacity="0.295"/><stop offset="0.86" stop-opacity="0.098"/><stop offset="0.93" stop-opacity="0.012"/><stop offset="1.00" stop-opacity="0.000"/></linearGradient><linearGradient id="s135" gradientUnits="userSpaceOnUse" x1="0" y1="288.0" x2="0" y2="410.3"><stop offset="0.00" stop-opacity="0.000"/><stop offset="0.07" stop-opacity="0.013"/><stop offset="0.14" stop-opacity="0.057"/><stop offset="0.21" stop-opacity="0.161"/><stop offset="0.29" stop-opacity="0.311"/><stop offset="0.36" stop-opacity="0.452"/><stop offset="0.43" stop-opacity="0.533"/><stop offset="0.50" stop-opacity="0.557"/><stop offset="0.57" stop-opacity="0.558"/><stop offset="0.64" stop-opacity="0.546"/><stop offset="0.71" stop-opacity="0.472"/><stop offset="0.79" stop-opacity="0.294"/><stop offset="0.86" stop-opacity="0.098"/><stop offset="0.93" stop-opacity="0.012"/><stop offset="1.00" stop-opacity="0.000"/></linearGradient><linearGradient id="s136" gradientUnits="userSpaceOnUse" x1="0" y1="287.5" x2="0" y2="409.9"><stop offset="0.00" stop-opacity="0.000"/><stop offset="0.07" stop-opacity="0.013"/><stop offset="0.14" stop-opacity="0.057"/><stop offset="0.21" stop-opacity="0.161"/><stop offset="0.29" stop-opacity="0.311"/><stop offset="0.36" stop-opacity="0.451"/><stop offset="0.43" stop-opacity="0.533"/><stop offset="0.50" stop-opacity="0.556"/><stop offset="0.57" stop-opacity="0.557"/><stop offset="0.64" stop-opacity="0.544"/><stop offset="0.71" stop-opacity="0.470"/><stop offset="0.79" stop-opacity="0.293"/><stop offset="0.86" stop-opacity="0.097"/><stop offset="0.93" stop-opacity="0.012"/><stop offset="1.00" stop-opacity="0.000"/></linearGradient><linearGradient id="s137" gradientUnits="userSpaceOnUse" x1="0" y1="287.1" x2="0" y2="409.5"><stop offset="0.00" stop-opacity="0.000"/><stop offset="0.07" stop-opacity="0.013"/><stop offset="0.14" stop-opacity="0.057"/><stop offset="0.21" stop-opacity="0.161"/><stop offset="0.29" stop-opacity="0.311"/><stop offset="0.36" stop-opacity="0.451"/><stop offset="0.43" stop-opacity="0.532"/><stop offset="0.50" stop-opacity="0.555"/><stop offset="0.57" stop-opacity="0.556"/><stop offset="0.64" stop-opacity="0.543"/><stop offset="0.71" stop-opacity="0.469"/><stop offset="0.79" stop-opacity="0.292"/><stop offset="0.86" stop-opacity="0.097"/><stop offset="0.93" stop-opacity="0.011"/><stop offset="1.00" stop-opacity="0.000"/></linearGradient><linearGradient id="s138" gradientUnits="userSpaceOnUse" x1="0" y1="286.6" x2="0" y2="409.1"><stop offset="0.00" stop-opacity="0.000"/><stop offset="0.07" stop-opacity="0.013"/><stop offset="0.14" stop-opacity="0.057"/><stop offset="0.21" stop-opacity="0.161"/><stop offset="0.29" stop-opacity="0.311"/><stop offset="0.36" stop-opacity="0.451"/><stop offset="0.43" stop-opacity="0.531"/><stop offset="0.50" stop-opacity="0.554"/><stop offset="0.57" stop-opacity="0.555"/><stop offset="0.64" stop-opacity="0.542"/><stop offset="0.71" stop-opacity="0.467"/><stop offset="0.79" stop-opacity="0.290"/><stop offset="0.86" stop-opacity="0.096"/><stop offset="0.93" stop-opacity="0.011"/><stop offset="1.00" stop-opacity="0.000"/></linearGradient><linearGradient id="s139" gradientUnits="userSpaceOnUse" x1="0" y1="286.2" x2="0" y2="408.8"><stop offset="0.00" stop-opacity="0.000"/><stop offset="0.07" stop-opacity="0.013"/><stop offset="0.14" stop-opacity="0.057"/><stop offset="0.21" stop-opacity="0.161"/><stop offset="0.29" stop-opacity="0.311"/><stop offset="0.36" stop-opacity="0.450"/><stop offset="0.43" stop-opacity="0.530"/><stop offset="0.50" stop-opacity="0.553"/><stop offset="0.57" stop-opacity="0.553"/><stop offset="0.64" stop-opacity="0.541"/><stop offset="0.71" stop-opacity="0.466"/><stop offset="0.79" stop-opacity="0.289"/><stop offset="0.86" stop-opacity="0.096"/><stop offset="0.93" stop-opacity="0.011"/><stop offset="1.00" stop-opacity="0.000"/></linearGradient><linearGradient id="s140" gradientUnits="userSpaceOnUse" x1="0" y1="285.8" x2="0" y2="408.4"><stop offset="0.00" stop-opacity="0.000"/><stop offset="0.07" stop-opacity="0.013"/><stop offset="0.14" stop-opacity="0.057"/><stop offset="0.21" stop-opacity="0.161"/><stop offset="0.29" stop-opacity="0.311"/><stop offset="0.36" stop-opacity="0.450"/><stop offset="0.43" stop-opacity="0.530"/><stop offset="0.50" stop-opacity="0.552"/><stop offset="0.57" stop-opacity="0.552"/><stop offset="0.64" stop-opacity="0.540"/><stop offset="0.71" stop-opacity="0.464"/><stop offset="0.79" stop-opacity="0.288"/><stop offset="0.86" stop-opacity="0.095"/><stop offset="0.93" stop-opacity="0.011"/><stop offset="1.00" stop-opacity="0.000"/></linearGradient><linearGradient id="s141" gradientUnits="userSpaceOnUse" x1="0" y1="285.3" x2="0" y2="408.0"><stop offset="0.00" stop-opacity="0.000"/><stop offset="0.07" stop-opacity="0.013"/><stop offset="0.14" stop-opacity="0.057"/><stop offset="0.21" stop-opacity="0.161"/><stop offset="0.29" stop-opacity="0.311"/><stop offset="0.36" stop-opacity="0.450"/><stop offset="0.43" stop-opacity="0.529"/><stop offset="0.50" stop-opacity="0.551"/><stop offset="0.57" stop-opacity="0.551"/><stop offset="0.64" stop-opacity="0.538"/><stop offset="0.71" stop-opacity="0.463"/><stop offset="0.79" stop-opacity="0.287"/><stop offset="0.86" stop-opacity="0.095"/><stop offset="0.93" stop-opacity="0.011"/><stop offset="1.00" stop-opacity="0.000"/></linearGradient><linearGradient id="s142" gradientUnits="userSpaceOnUse" x1="0" y1="284.9" x2="0" y2="407.6"><stop offset="0.00" stop-opacity="0.000"/><stop offset="0.07" stop-opacity="0.013"/><stop offset="0.14" stop-opacity="0.057"/><stop offset="0.21" stop-opacity="0.161"/><stop offset="0.29" stop-opacity="0.311"/><stop offset="0.36" stop-opacity="0.449"/><stop offset="0.43" stop-opacity="0.528"/><stop offset="0.50" stop-opacity="0.550"/><stop offset="0.57" stop-opacity="0.550"/><stop offset="0.64" stop-opacity="0.537"/><stop offset="0.71" stop-opacity="0.461"/><stop offset="0.79" stop-opacity="0.285"/><stop offset="0.86" stop-opacity="0.094"/><stop offset="0.93" stop-opacity="0.011"/><stop offset="1.00" stop-opacity="0.000"/></linearGradient><linearGradient id="s143" gradientUnits="userSpaceOnUse" x1="0" y1="284.4" x2="0" y2="407.2"><stop offset="0.00" stop-opacity="0.000"/><stop offset="0.07" stop-opacity="0.013"/><stop offset="0.14" stop-opacity="0.057"/><stop offset="0.21" stop-opacity="0.161"/><stop offset="0.29" stop-opacity="0.311"/><stop offset="0.36" stop-opacity="0.449"/><stop offset="0.43" stop-opacity="0.527"/><stop offset="0.50" stop-opacity="0.549"/><stop offset="0.57" stop-opacity="0.549"/><stop offset="0.64" stop-opacity="0.536"/><stop offset="0.71" stop-opacity="0.460"/><stop offset="0.79" stop-opacity="0.284"/><stop offset="0.86" stop-opacity="0.094"/><stop offset="0.93" stop-opacity="0.011"/><stop offset="1.00" stop-opacity="0.000"/></linearGradient><linearGradient id="s144" gradientUnits="userSpaceOnUse" x1="0" y1="284.0" x2="0" y2="406.8"><stop offset="0.00" stop-opacity="0.000"/><stop offset="0.07" stop-opacity="0.013"/><stop offset="0.14" stop-opacity="0.057"/><stop offset="0.21" stop-opacity="0.161"/><stop offset="0.29" stop-opacity="0.311"/><stop offset="0.36" stop-opacity="0.448"/><stop offset="0.43" stop-opacity="0.526"/><stop offset="0.50" stop-opacity="0.548"/><stop offset="0.57" stop-opacity="0.548"/><stop offset="0.64" stop-opacity="0.535"/><stop offset="0.71" stop-opacity="0.459"/><stop offset="0.79" stop-opacity="0.283"/><stop offset="0.86" stop-opacity="0.093"/><stop offset="0.93" stop-opacity="0.011"/><stop offset="1.00" stop-opacity="0.000"/></linearGradient><linearGradient id="s145" gradientUnits="userSpaceOnUse" x1="0" y1="283.6" x2="0" y2="406.4"><stop offset="0.00" stop-opacity="0.000"/><stop offset="0.07" stop-opacity="0.013"/><stop offset="0.14" stop-opacity="0.057"/><stop offset="0.21" stop-opacity="0.161"/><stop offset="0.29" stop-opacity="0.311"/><stop offset="0.36" stop-opacity="0.448"/><stop offset="0.43" stop-opacity="0.526"/><stop offset="0.50" stop-opacity="0.547"/><stop offset="0.57" stop-opacity="0.547"/><stop offset="0.64" stop-opacity="0.533"/><stop offset="0.71" stop-opacity="0.457"/><stop offset="0.79" stop-opacity="0.282"/><stop offset="0.86" stop-opacity="0.093"/><stop offset="0.93" stop-opacity="0.011"/><stop offset="1.00" stop-opacity="0.000"/></linearGradient><linearGradient id="s146" gradientUnits="userSpaceOnUse" x1="0" y1="283.1" x2="0" y2="406.0"><stop offset="0.00" stop-opacity="0.000"/><stop offset="0.07" stop-opacity="0.013"/><stop offset="0.14" stop-opacity="0.057"/><stop offset="0.21" stop-opacity="0.161"/><stop offset="0.29" stop-opacity="0.311"/><stop offset="0.36" stop-opacity="0.448"/><stop offset="0.43" stop-opacity="0.525"/><stop offset="0.50" stop-opacity="0.546"/><stop offset="0.57" stop-opacity="0.546"/><stop offset="0.64" stop-opacity="0.532"/><stop offset="0.71" stop-opacity="0.456"/><stop offset="0.79" stop-opacity="0.281"/><stop offset="0.86" stop-opacity="0.092"/><stop offset="0.93" stop-opacity="0.011"/><stop offset="1.00" stop-opacity="0.000"/></linearGradient><linearGradient id="s147" gradientUnits="userSpaceOnUse" x1="0" y1="282.7" x2="0" y2="405.6"><stop offset="0.00" stop-opacity="0.000"/><stop offset="0.07" stop-opacity="0.013"/><stop offset="0.14" stop-opacity="0.057"/><stop offset="0.21" stop-opacity="0.161"/><stop offset="0.29" stop-opacity="0.311"/><stop offset="0.36" stop-opacity="0.447"/><stop offset="0.43" stop-opacity="0.524"/><stop offset="0.50" stop-opacity="0.544"/><stop offset="0.57" stop-opacity="0.545"/><stop offset="0.64" stop-opacity="0.531"/><stop offset="0.71" stop-opacity="0.454"/><stop offset="0.79" stop-opacity="0.279"/><stop offset="0.86" stop-opacity="0.092"/><stop offset="0.93" stop-opacity="0.011"/><stop offset="1.00" stop-opacity="0.000"/></linearGradient><linearGradient id="s148" gradientUnits="userSpaceOnUse" x1="0" y1="282.2" x2="0" y2="405.2"><stop offset="0.00" stop-opacity="0.000"/><stop offset="0.07" stop-opacity="0.013"/><stop offset="0.14" stop-opacity="0.057"/><stop offset="0.21" stop-opacity="0.161"/><stop offset="0.29" stop-opacity="0.311"/><stop offset="0.36" stop-opacity="0.447"/><stop offset="0.43" stop-opacity="0.523"/><stop offset="0.50" stop-opacity="0.543"/><stop offset="0.57" stop-opacity="0.544"/><stop offset="0.64" stop-opacity="0.530"/><stop offset="0.71" stop-opacity="0.453"/><stop offset="0.79" stop-opacity="0.278"/><stop offset="0.86" stop-opacity="0.091"/><stop offset="0.93" stop-opacity="0.011"/><stop offset="1.00" stop-opacity="0.000"/></linearGradient><linearGradient id="s149" gradientUnits="userSpaceOnUse" x1="0" y1="281.8" x2="0" y2="404.8"><stop offset="0.00" stop-opacity="0.000"/><stop offset="0.07" stop-opacity="0.013"/><stop offset="0.14" stop-opacity="0.057"/><stop offset="0.21" stop-opacity="0.161"/><stop offset="0.29" stop-opacity="0.311"/><stop offset="0.36" stop-opacity="0.447"/><stop offset="0.43" stop-opacity="0.522"/><stop offset="0.50" stop-opacity="0.542"/><stop offset="0.57" stop-opacity="0.542"/><stop offset="0.64" stop-opacity="0.528"/><stop offset="0.71" stop-opacity="0.451"/><stop offset="0.79" stop-opacity="0.277"/><stop offset="0.86" stop-opacity="0.091"/><stop offset="0.93" stop-opacity="0.011"/><stop offset="1.00" stop-opacity="0.000"/></linearGradient><linearGradient id="s150" gradientUnits="userSpaceOnUse" x1="0" y1="281.3" x2="0" y2="404.4"><stop offset="0.00" stop-opacity="0.000"/><stop offset="0.07" stop-opacity="0.013"/><stop offset="0.14" stop-opacity="0.057"/><stop offset="0.21" stop-opacity="0.161"/><stop offset="0.29" stop-opacity="0.311"/><stop offset="0.36" stop-opacity="0.446"/><stop offset="0.43" stop-opacity="0.522"/><stop offset="0.50" stop-opacity="0.541"/><stop offset="0.57" stop-opacity="0.541"/><stop offset="0.64" stop-opacity="0.527"/><stop offset="0.71" stop-opacity="0.450"/><stop offset="0.79" stop-opacity="0.276"/><stop offset="0.86" stop-opacity="0.090"/><stop offset="0.93" stop-opacity="0.011"/><stop offset="1.00" stop-opacity="0.000"/></linearGradient><linearGradient id="s151" gradientUnits="userSpaceOnUse" x1="0" y1="280.9" x2="0" y2="404.1"><stop offset="0.00" stop-opacity="0.000"/><stop offset="0.07" stop-opacity="0.013"/><stop offset="0.14" stop-opacity="0.057"/><stop offset="0.21" stop-opacity="0.161"/><stop offset="0.29" stop-opacity="0.311"/><stop offset="0.36" stop-opacity="0.446"/><stop offset="0.43" stop-opacity="0.521"/><stop offset="0.50" stop-opacity="0.540"/><stop offset="0.57" stop-opacity="0.540"/><stop offset="0.64" stop-opacity="0.526"/><stop offset="0.71" stop-opacity="0.449"/><stop offset="0.79" stop-opacity="0.275"/><stop offset="0.86" stop-opacity="0.090"/><stop offset="0.93" stop-opacity="0.011"/><stop offset="1.00" stop-opacity="0.000"/></linearGradient><linearGradient id="s152" gradientUnits="userSpaceOnUse" x1="0" y1="280.5" x2="0" y2="403.7"><stop offset="0.00" stop-opacity="0.000"/><stop offset="0.07" stop-opacity="0.013"/><stop offset="0.14" stop-opacity="0.057"/><stop offset="0.21" stop-opacity="0.161"/><stop offset="0.29" stop-opacity="0.310"/><stop offset="0.36" stop-opacity="0.445"/><stop offset="0.43" stop-opacity="0.520"/><stop offset="0.50" stop-opacity="0.539"/><stop offset="0.57" stop-opacity="0.539"/><stop offset="0.64" stop-opacity="0.525"/><stop offset="0.71" stop-opacity="0.447"/><stop offset="0.79" stop-opacity="0.273"/><stop offset="0.86" stop-opacity="0.090"/><stop offset="0.93" stop-opacity="0.011"/><stop offset="1.00" stop-opacity="0.000"/></linearGradient><linearGradient id="s153" gradientUnits="userSpaceOnUse" x1="0" y1="280.0" x2="0" y2="403.3"><stop offset="0.00" stop-opacity="0.000"/><stop offset="0.07" stop-opacity="0.013"/><stop offset="0.14" stop-opacity="0.057"/><stop offset="0.21" stop-opacity="0.161"/><stop offset="0.29" stop-opacity="0.310"/><stop offset="0.36" stop-opacity="0.445"/><stop offset="0.43" stop-opacity="0.519"/><stop offset="0.50" stop-opacity="0.538"/><stop offset="0.57" stop-opacity="0.538"/><stop offset="0.64" stop-opacity="0.523"/><stop offset="0.71" stop-opacity="0.446"/><stop offset="0.79" stop-opacity="0.272"/><stop offset="0.86" stop-opacity="0.089"/><stop offset="0.93" stop-opacity="0.011"/><stop offset="1.00" stop-opacity="0.000"/></linearGradient><linearGradient id="s154" gradientUnits="userSpaceOnUse" x1="0" y1="279.6" x2="0" y2="402.9"><stop offset="0.00" stop-opacity="0.000"/><stop offset="0.07" stop-opacity="0.013"/><stop offset="0.14" stop-opacity="0.057"/><stop offset="0.21" stop-opacity="0.162"/><stop offset="0.29" stop-opacity="0.310"/><stop offset="0.36" stop-opacity="0.445"/><stop offset="0.43" stop-opacity="0.518"/><stop offset="0.50" stop-opacity="0.537"/><stop offset="0.57" stop-opacity="0.537"/><stop offset="0.64" stop-opacity="0.522"/><stop offset="0.71" stop-opacity="0.444"/><stop offset="0.79" stop-opacity="0.271"/><stop offset="0.86" stop-opacity="0.089"/><stop offset="0.93" stop-opacity="0.011"/><stop offset="1.00" stop-opacity="0.000"/></linearGradient><linearGradient id="s155" gradientUnits="userSpaceOnUse" x1="0" y1="279.1" x2="0" y2="402.5"><stop offset="0.00" stop-opacity="0.000"/><stop offset="0.07" stop-opacity="0.013"/><stop offset="0.14" stop-opacity="0.057"/><stop offset="0.21" stop-opacity="0.162"/><stop offset="0.29" stop-opacity="0.310"/><stop offset="0.36" stop-opacity="0.444"/><stop offset="0.43" stop-opacity="0.518"/><stop offset="0.50" stop-opacity="0.536"/><stop offset="0.57" stop-opacity="0.536"/><stop offset="0.64" stop-opacity="0.521"/><stop offset="0.71" stop-opacity="0.443"/><stop offset="0.79" stop-opacity="0.270"/><stop offset="0.86" stop-opacity="0.088"/><stop offset="0.93" stop-opacity="0.011"/><stop offset="1.00" stop-opacity="0.000"/></linearGradient><linearGradient id="s156" gradientUnits="userSpaceOnUse" x1="0" y1="278.7" x2="0" y2="402.1"><stop offset="0.00" stop-opacity="0.000"/><stop offset="0.07" stop-opacity="0.013"/><stop offset="0.14" stop-opacity="0.057"/><stop offset="0.21" stop-opacity="0.162"/><stop offset="0.29" stop-opacity="0.310"/><stop offset="0.36" stop-opacity="0.444"/><stop offset="0.43" stop-opacity="0.517"/><stop offset="0.50" stop-opacity="0.535"/><stop offset="0.57" stop-opacity="0.535"/><stop offset="0.64" stop-opacity="0.520"/><stop offset="0.71" stop-opacity="0.441"/><stop offset="0.79" stop-opacity="0.269"/><stop offset="0.86" stop-opacity="0.088"/><stop offset="0.93" stop-opacity="0.010"/><stop offset="1.00" stop-opacity="0.000"/></linearGradient><linearGradient id="s157" gradientUnits="userSpaceOnUse" x1="0" y1="278.3" x2="0" y2="401.7"><stop offset="0.00" stop-opacity="0.000"/><stop offset="0.07" stop-opacity="0.013"/><stop offset="0.14" stop-opacity="0.057"/><stop offset="0.21" stop-opacity="0.162"/><stop offset="0.29" stop-opacity="0.310"/><stop offset="0.36" stop-opacity="0.443"/><stop offset="0.43" stop-opacity="0.516"/><stop offset="0.50" stop-opacity="0.534"/><stop offset="0.57" stop-opacity="0.534"/><stop offset="0.64" stop-opacity="0.518"/><stop offset="0.71" stop-opacity="0.440"/><stop offset="0.79" stop-opacity="0.268"/><stop offset="0.86" stop-opacity="0.087"/><stop offset="0.93" stop-opacity="0.010"/><stop offset="1.00" stop-opacity="0.000"/></linearGradient><linearGradient id="s158" gradientUnits="userSpaceOnUse" x1="0" y1="277.8" x2="0" y2="401.3"><stop offset="0.00" stop-opacity="0.000"/><stop offset="0.07" stop-opacity="0.013"/><stop offset="0.14" stop-opacity="0.057"/><stop offset="0.21" stop-opacity="0.162"/><stop offset="0.29" stop-opacity="0.310"/><stop offset="0.36" stop-opacity="0.443"/><stop offset="0.43" stop-opacity="0.515"/><stop offset="0.50" stop-opacity="0.533"/><stop offset="0.57" stop-opacity="0.533"/><stop offset="0.64" stop-opacity="0.517"/><stop offset="0.71" stop-opacity="0.439"/><stop offset="0.79" stop-opacity="0.266"/><stop offset="0.86" stop-opacity="0.087"/><stop offset="0.93" stop-opacity="0.010"/><stop offset="1.00" stop-opacity="0.000"/></linearGradient><linearGradient id="s159" gradientUnits="userSpaceOnUse" x1="0" y1="277.4" x2="0" y2="400.9"><stop offset="0.00" stop-opacity="0.000"/><stop offset="0.07" stop-opacity="0.013"/><stop offset="0.14" stop-opacity="0.058"/><stop offset="0.21" stop-opacity="0.162"/><stop offset="0.29" stop-opacity="0.310"/><stop offset="0.36" stop-opacity="0.443"/><stop offset="0.43" stop-opacity="0.514"/><stop offset="0.50" stop-opacity="0.532"/><stop offset="0.57" stop-opacity="0.531"/><stop offset="0.64" stop-opacity="0.516"/><stop offset="0.71" stop-opacity="0.437"/><stop offset="0.79" stop-opacity="0.265"/><stop offset="0.86" stop-opacity="0.086"/><stop offset="0.93" stop-opacity="0.010"/><stop offset="1.00" stop-opacity="0.000"/></linearGradient><linearGradient id="s160" gradientUnits="userSpaceOnUse" x1="0" y1="276.9" x2="0" y2="400.5"><stop offset="0.00" stop-opacity="0.000"/><stop offset="0.07" stop-opacity="0.013"/><stop offset="0.14" stop-opacity="0.058"/><stop offset="0.21" stop-opacity="0.162"/><stop offset="0.29" stop-opacity="0.310"/><stop offset="0.36" stop-opacity="0.442"/><stop offset="0.43" stop-opacity="0.513"/><stop offset="0.50" stop-opacity="0.531"/><stop offset="0.57" stop-opacity="0.530"/><stop offset="0.64" stop-opacity="0.515"/><stop offset="0.71" stop-opacity="0.436"/><stop offset="0.79" stop-opacity="0.264"/><stop offset="0.86" stop-opacity="0.086"/><stop offset="0.93" stop-opacity="0.010"/><stop offset="1.00" stop-opacity="0.000"/></linearGradient><linearGradient id="s161" gradientUnits="userSpaceOnUse" x1="0" y1="276.5" x2="0" y2="400.1"><stop offset="0.00" stop-opacity="0.000"/><stop offset="0.07" stop-opacity="0.013"/><stop offset="0.14" stop-opacity="0.057"/><stop offset="0.21" stop-opacity="0.162"/><stop offset="0.29" stop-opacity="0.310"/><stop offset="0.36" stop-opacity="0.441"/><stop offset="0.43" stop-opacity="0.512"/><stop offset="0.50" stop-opacity="0.529"/><stop offset="0.57" stop-opacity="0.529"/><stop offset="0.64" stop-opacity="0.513"/><stop offset="0.71" stop-opacity="0.434"/><stop offset="0.79" stop-opacity="0.263"/><stop offset="0.86" stop-opacity="0.085"/><stop offset="0.93" stop-opacity="0.010"/><stop offset="1.00" stop-opacity="0.000"/></linearGradient><linearGradient id="s162" gradientUnits="userSpaceOnUse" x1="0" y1="276.0" x2="0" y2="399.5"><stop offset="0.00" stop-opacity="0.000"/><stop offset="0.07" stop-opacity="0.013"/><stop offset="0.14" stop-opacity="0.057"/><stop offset="0.21" stop-opacity="0.161"/><stop offset="0.29" stop-opacity="0.308"/><stop offset="0.36" stop-opacity="0.440"/><stop offset="0.43" stop-opacity="0.510"/><stop offset="0.50" stop-opacity="0.527"/><stop offset="0.57" stop-opacity="0.527"/><stop offset="0.64" stop-opacity="0.511"/><stop offset="0.71" stop-opacity="0.432"/><stop offset="0.79" stop-opacity="0.262"/><stop offset="0.86" stop-opacity="0.085"/><stop offset="0.93" stop-opacity="0.010"/><stop offset="1.00" stop-opacity="0.000"/></linearGradient><linearGradient id="s163" gradientUnits="userSpaceOnUse" x1="0" y1="275.6" x2="0" y2="398.9"><stop offset="0.00" stop-opacity="0.000"/><stop offset="0.07" stop-opacity="0.013"/><stop offset="0.14" stop-opacity="0.057"/><stop offset="0.21" stop-opacity="0.160"/><stop offset="0.29" stop-opacity="0.307"/><stop offset="0.36" stop-opacity="0.438"/><stop offset="0.43" stop-opacity="0.508"/><stop offset="0.50" stop-opacity="0.525"/><stop offset="0.57" stop-opacity="0.524"/><stop offset="0.64" stop-opacity="0.509"/><stop offset="0.71" stop-opacity="0.430"/><stop offset="0.79" stop-opacity="0.260"/><stop offset="0.86" stop-opacity="0.085"/><stop offset="0.93" stop-opacity="0.010"/><stop offset="1.00" stop-opacity="0.000"/></linearGradient><linearGradient id="s164" gradientUnits="userSpaceOnUse" x1="0" y1="275.1" x2="0" y2="398.3"><stop offset="0.00" stop-opacity="0.000"/><stop offset="0.07" stop-opacity="0.013"/><stop offset="0.14" stop-opacity="0.057"/><stop offset="0.21" stop-opacity="0.160"/><stop offset="0.29" stop-opacity="0.306"/><stop offset="0.36" stop-opacity="0.436"/><stop offset="0.43" stop-opacity="0.506"/><stop offset="0.50" stop-opacity="0.522"/><stop offset="0.57" stop-opacity="0.522"/><stop offset="0.64" stop-opacity="0.506"/><stop offset="0.71" stop-opacity="0.428"/><stop offset="0.79" stop-opacity="0.259"/><stop offset="0.86" stop-opacity="0.084"/><stop offset="0.93" stop-opacity="0.010"/><stop offset="1.00" stop-opacity="0.000"/></linearGradient><linearGradient id="s165" gradientUnits="userSpaceOnUse" x1="0" y1="274.7" x2="0" y2="397.7"><stop offset="0.00" stop-opacity="0.000"/><stop offset="0.07" stop-opacity="0.013"/><stop offset="0.14" stop-opacity="0.057"/><stop offset="0.21" stop-opacity="0.159"/><stop offset="0.29" stop-opacity="0.305"/><stop offset="0.36" stop-opacity="0.434"/><stop offset="0.43" stop-opacity="0.503"/><stop offset="0.50" stop-opacity="0.520"/><stop offset="0.57" stop-opacity="0.520"/><stop offset="0.64" stop-opacity="0.504"/><stop offset="0.71" stop-opacity="0.426"/><stop offset="0.79" stop-opacity="0.258"/><stop offset="0.86" stop-opacity="0.084"/><stop offset="0.93" stop-opacity="0.010"/><stop offset="1.00" stop-opacity="0.000"/></linearGradient><linearGradient id="s166" gradientUnits="userSpaceOnUse" x1="0" y1="274.2" x2="0" y2="397.1"><stop offset="0.00" stop-opacity="0.000"/><stop offset="0.07" stop-opacity="0.012"/><stop offset="0.14" stop-opacity="0.056"/><stop offset="0.21" stop-opacity="0.159"/><stop offset="0.29" stop-opacity="0.303"/><stop offset="0.36" stop-opacity="0.432"/><stop offset="0.43" stop-opacity="0.501"/><stop offset="0.50" stop-opacity="0.518"/><stop offset="0.57" stop-opacity="0.517"/><stop offset="0.64" stop-opacity="0.502"/><stop offset="0.71" stop-opacity="0.424"/><stop offset="0.79" stop-opacity="0.257"/><stop offset="0.86" stop-opacity="0.083"/><stop offset="0.93" stop-opacity="0.010"/><stop offset="1.00" stop-opacity="0.000"/></linearGradient><linearGradient id="s167" gradientUnits="userSpaceOnUse" x1="0" y1="273.8" x2="0" y2="396.6"><stop offset="0.00" stop-opacity="0.000"/><stop offset="0.07" stop-opacity="0.012"/><stop offset="0.14" stop-opacity="0.056"/><stop offset="0.21" stop-opacity="0.158"/><stop offset="0.29" stop-opacity="0.302"/><stop offset="0.36" stop-opacity="0.430"/><stop offset="0.43" stop-opacity="0.499"/><stop offset="0.50" stop-opacity="0.515"/><stop offset="0.57" stop-opacity="0.515"/><stop offset="0.64" stop-opacity="0.499"/><stop offset="0.71" stop-opacity="0.422"/><stop offset="0.79" stop-opacity="0.255"/><stop offset="0.86" stop-opacity="0.083"/><stop offset="0.93" stop-opacity="0.010"/><stop offset="1.00" stop-opacity="0.000"/></linearGradient><linearGradient id="s168" gradientUnits="userSpaceOnUse" x1="0" y1="273.3" x2="0" y2="396.0"><stop offset="0.00" stop-opacity="0.000"/><stop offset="0.07" stop-opacity="0.012"/><stop offset="0.14" stop-opacity="0.056"/><stop offset="0.21" stop-opacity="0.157"/><stop offset="0.29" stop-opacity="0.301"/><stop offset="0.36" stop-opacity="0.429"/><stop offset="0.43" stop-opacity="0.497"/><stop offset="0.50" stop-opacity="0.513"/><stop offset="0.57" stop-opacity="0.513"/><stop offset="0.64" stop-opacity="0.497"/><stop offset="0.71" stop-opacity="0.420"/><stop offset="0.79" stop-opacity="0.254"/><stop offset="0.86" stop-opacity="0.082"/><stop offset="0.93" stop-opacity="0.010"/><stop offset="1.00" stop-opacity="0.000"/></linearGradient><linearGradient id="s169" gradientUnits="userSpaceOnUse" x1="0" y1="272.8" x2="0" y2="395.4"><stop offset="0.00" stop-opacity="0.000"/><stop offset="0.07" stop-opacity="0.012"/><stop offset="0.14" stop-opacity="0.056"/><stop offset="0.21" stop-opacity="0.157"/><stop offset="0.29" stop-opacity="0.300"/><stop offset="0.36" stop-opacity="0.427"/><stop offset="0.43" stop-opacity="0.495"/><stop offset="0.50" stop-opacity="0.511"/><stop offset="0.57" stop-opacity="0.510"/><stop offset="0.64" stop-opacity="0.495"/><stop offset="0.71" stop-opacity="0.418"/><stop offset="0.79" stop-opacity="0.253"/><stop offset="0.86" stop-opacity="0.082"/><stop offset="0.93" stop-opacity="0.010"/><stop offset="1.00" stop-opacity="0.000"/></linearGradient><linearGradient id="s170" gradientUnits="userSpaceOnUse" x1="0" y1="272.4" x2="0" y2="394.8"><stop offset="0.00" stop-opacity="0.000"/><stop offset="0.07" stop-opacity="0.012"/><stop offset="0.14" stop-opacity="0.055"/><stop offset="0.21" stop-opacity="0.156"/><stop offset="0.29" stop-opacity="0.298"/><stop offset="0.36" stop-opacity="0.425"/><stop offset="0.43" stop-opacity="0.492"/><stop offset="0.50" stop-opacity="0.508"/><stop offset="0.57" stop-opacity="0.508"/><stop offset="0.64" stop-opacity="0.493"/><stop offset="0.71" stop-opacity="0.416"/><stop offset="0.79" stop-opacity="0.251"/><stop offset="0.86" stop-opacity="0.082"/><stop offset="0.93" stop-opacity="0.010"/><stop offset="1.00" stop-opacity="0.000"/></linearGradient><linearGradient id="s171" gradientUnits="userSpaceOnUse" x1="0" y1="271.9" x2="0" y2="394.2"><stop offset="0.00" stop-opacity="0.000"/><stop offset="0.07" stop-opacity="0.012"/><stop offset="0.14" stop-opacity="0.055"/><stop offset="0.21" stop-opacity="0.155"/><stop offset="0.29" stop-opacity="0.297"/><stop offset="0.36" stop-opacity="0.423"/><stop offset="0.43" stop-opacity="0.490"/><stop offset="0.50" stop-opacity="0.506"/><stop offset="0.57" stop-opacity="0.506"/><stop offset="0.64" stop-opacity="0.490"/><stop offset="0.71" stop-opacity="0.414"/><stop offset="0.79" stop-opacity="0.250"/><stop offset="0.86" stop-opacity="0.081"/><stop offset="0.93" stop-opacity="0.010"/><stop offset="1.00" stop-opacity="0.000"/></linearGradient><linearGradient id="s172" gradientUnits="userSpaceOnUse" x1="0" y1="271.5" x2="0" y2="393.6"><stop offset="0.00" stop-opacity="0.000"/><stop offset="0.07" stop-opacity="0.012"/><stop offset="0.14" stop-opacity="0.055"/><stop offset="0.21" stop-opacity="0.155"/><stop offset="0.29" stop-opacity="0.296"/><stop offset="0.36" stop-opacity="0.421"/><stop offset="0.43" stop-opacity="0.488"/><stop offset="0.50" stop-opacity="0.504"/><stop offset="0.57" stop-opacity="0.503"/><stop offset="0.64" stop-opacity="0.488"/><stop offset="0.71" stop-opacity="0.412"/><stop offset="0.79" stop-opacity="0.249"/><stop offset="0.86" stop-opacity="0.081"/><stop offset="0.93" stop-opacity="0.010"/><stop offset="1.00" stop-opacity="0.000"/></linearGradient><linearGradient id="s173" gradientUnits="userSpaceOnUse" x1="0" y1="271.0" x2="0" y2="393.0"><stop offset="0.00" stop-opacity="0.000"/><stop offset="0.07" stop-opacity="0.012"/><stop offset="0.14" stop-opacity="0.055"/><stop offset="0.21" stop-opacity="0.154"/><stop offset="0.29" stop-opacity="0.295"/><stop offset="0.36" stop-opacity="0.419"/><stop offset="0.43" stop-opacity="0.486"/><stop offset="0.50" stop-opacity="0.501"/><stop offset="0.57" stop-opacity="0.501"/><stop offset="0.64" stop-opacity="0.486"/><stop offset="0.71" stop-opacity="0.410"/><stop offset="0.79" stop-opacity="0.248"/><stop offset="0.86" stop-opacity="0.080"/><stop offset="0.93" stop-opacity="0.010"/><stop offset="1.00" stop-opacity="0.000"/></linearGradient><linearGradient id="s174" gradientUnits="userSpaceOnUse" x1="0" y1="270.6" x2="0" y2="392.4"><stop offset="0.00" stop-opacity="0.000"/><stop offset="0.07" stop-opacity="0.012"/><stop offset="0.14" stop-opacity="0.055"/><stop offset="0.21" stop-opacity="0.153"/><stop offset="0.29" stop-opacity="0.293"/><stop offset="0.36" stop-opacity="0.417"/><stop offset="0.43" stop-opacity="0.484"/><stop offset="0.50" stop-opacity="0.499"/><stop offset="0.57" stop-opacity="0.499"/><stop offset="0.64" stop-opacity="0.483"/><stop offset="0.71" stop-opacity="0.408"/><stop offset="0.79" stop-opacity="0.246"/><stop offset="0.86" stop-opacity="0.080"/><stop offset="0.93" stop-opacity="0.010"/><stop offset="1.00" stop-opacity="0.000"/></linearGradient><linearGradient id="s175" gradientUnits="userSpaceOnUse" x1="0" y1="270.1" x2="0" y2="391.8"><stop offset="0.00" stop-opacity="0.000"/><stop offset="0.07" stop-opacity="0.012"/><stop offset="0.14" stop-opacity="0.054"/><stop offset="0.21" stop-opacity="0.153"/><stop offset="0.29" stop-opacity="0.292"/><stop offset="0.36" stop-opacity="0.416"/><stop offset="0.43" stop-opacity="0.481"/><stop offset="0.50" stop-opacity="0.497"/><stop offset="0.57" stop-opacity="0.496"/><stop offset="0.64" stop-opacity="0.481"/><stop offset="0.71" stop-opacity="0.406"/><stop offset="0.79" stop-opacity="0.245"/><stop offset="0.86" stop-opacity="0.079"/><stop offset="0.93" stop-opacity="0.010"/><stop offset="1.00" stop-opacity="0.000"/></linearGradient><linearGradient id="s176" gradientUnits="userSpaceOnUse" x1="0" y1="269.7" x2="0" y2="391.3"><stop offset="0.00" stop-opacity="0.000"/><stop offset="0.07" stop-opacity="0.012"/><stop offset="0.14" stop-opacity="0.054"/><stop offset="0.21" stop-opacity="0.152"/><stop offset="0.29" stop-opacity="0.291"/><stop offset="0.36" stop-opacity="0.414"/><stop offset="0.43" stop-opacity="0.479"/><stop offset="0.50" stop-opacity="0.494"/><stop offset="0.57" stop-opacity="0.494"/><stop offset="0.64" stop-opacity="0.479"/><stop offset="0.71" stop-opacity="0.404"/><stop offset="0.79" stop-opacity="0.244"/><stop offset="0.86" stop-opacity="0.079"/><stop offset="0.93" stop-opacity="0.009"/><stop offset="1.00" stop-opacity="0.000"/></linearGradient><linearGradient id="s177" gradientUnits="userSpaceOnUse" x1="0" y1="269.2" x2="0" y2="390.7"><stop offset="0.00" stop-opacity="0.000"/><stop offset="0.07" stop-opacity="0.012"/><stop offset="0.14" stop-opacity="0.054"/><stop offset="0.21" stop-opacity="0.152"/><stop offset="0.29" stop-opacity="0.290"/><stop offset="0.36" stop-opacity="0.412"/><stop offset="0.43" stop-opacity="0.477"/><stop offset="0.50" stop-opacity="0.492"/><stop offset="0.57" stop-opacity="0.492"/><stop offset="0.64" stop-opacity="0.476"/><stop offset="0.71" stop-opacity="0.402"/><stop offset="0.79" stop-opacity="0.242"/><stop offset="0.86" stop-opacity="0.079"/><stop offset="0.93" stop-opacity="0.009"/><stop offset="1.00" stop-opacity="0.000"/></linearGradient><linearGradient id="s178" gradientUnits="userSpaceOnUse" x1="0" y1="268.7" x2="0" y2="390.1"><stop offset="0.00" stop-opacity="0.000"/><stop offset="0.07" stop-opacity="0.012"/><stop offset="0.14" stop-opacity="0.054"/><stop offset="0.21" stop-opacity="0.151"/><stop offset="0.29" stop-opacity="0.288"/><stop offset="0.36" stop-opacity="0.410"/><stop offset="0.43" stop-opacity="0.475"/><stop offset="0.50" stop-opacity="0.490"/><stop offset="0.57" stop-opacity="0.489"/><stop offset="0.64" stop-opacity="0.474"/><stop offset="0.71" stop-opacity="0.400"/><stop offset="0.79" stop-opacity="0.241"/><stop offset="0.86" stop-opacity="0.078"/><stop offset="0.93" stop-opacity="0.009"/><stop offset="1.00" stop-opacity="0.000"/></linearGradient><linearGradient id="s179" gradientUnits="userSpaceOnUse" x1="0" y1="268.3" x2="0" y2="389.5"><stop offset="0.00" stop-opacity="0.000"/><stop offset="0.07" stop-opacity="0.012"/><stop offset="0.14" stop-opacity="0.053"/><stop offset="0.21" stop-opacity="0.150"/><stop offset="0.29" stop-opacity="0.287"/><stop offset="0.36" stop-opacity="0.408"/><stop offset="0.43" stop-opacity="0.473"/><stop offset="0.50" stop-opacity="0.487"/><stop offset="0.57" stop-opacity="0.487"/><stop offset="0.64" stop-opacity="0.472"/><stop offset="0.71" stop-opacity="0.398"/><stop offset="0.79" stop-opacity="0.240"/><stop offset="0.86" stop-opacity="0.078"/><stop offset="0.93" stop-opacity="0.009"/><stop offset="1.00" stop-opacity="0.000"/></linearGradient><linearGradient id="s180" gradientUnits="userSpaceOnUse" x1="0" y1="267.8" x2="0" y2="388.9"><stop offset="0.00" stop-opacity="0.000"/><stop offset="0.07" stop-opacity="0.012"/><stop offset="0.14" stop-opacity="0.053"/><stop offset="0.21" stop-opacity="0.150"/><stop offset="0.29" stop-opacity="0.286"/><stop offset="0.36" stop-opacity="0.406"/><stop offset="0.43" stop-opacity="0.470"/><stop offset="0.50" stop-opacity="0.485"/><stop offset="0.57" stop-opacity="0.485"/><stop offset="0.64" stop-opacity="0.470"/><stop offset="0.71" stop-opacity="0.396"/><stop offset="0.79" stop-opacity="0.239"/><stop offset="0.86" stop-opacity="0.077"/><stop offset="0.93" stop-opacity="0.009"/><stop offset="1.00" stop-opacity="0.000"/></linearGradient><linearGradient id="s181" gradientUnits="userSpaceOnUse" x1="0" y1="267.4" x2="0" y2="388.3"><stop offset="0.00" stop-opacity="0.000"/><stop offset="0.07" stop-opacity="0.012"/><stop offset="0.14" stop-opacity="0.053"/><stop offset="0.21" stop-opacity="0.149"/><stop offset="0.29" stop-opacity="0.285"/><stop offset="0.36" stop-opacity="0.405"/><stop offset="0.43" stop-opacity="0.468"/><stop offset="0.50" stop-opacity="0.483"/><stop offset="0.57" stop-opacity="0.482"/><stop offset="0.64" stop-opacity="0.467"/><stop offset="0.71" stop-opacity="0.394"/><stop offset="0.79" stop-opacity="0.237"/><stop offset="0.86" stop-opacity="0.077"/><stop offset="0.93" stop-opacity="0.009"/><stop offset="1.00" stop-opacity="0.000"/></linearGradient><linearGradient id="s182" gradientUnits="userSpaceOnUse" x1="0" y1="266.9" x2="0" y2="387.7"><stop offset="0.00" stop-opacity="0.000"/><stop offset="0.07" stop-opacity="0.012"/><stop offset="0.14" stop-opacity="0.053"/><stop offset="0.21" stop-opacity="0.148"/><stop offset="0.29" stop-opacity="0.283"/><stop offset="0.36" stop-opacity="0.403"/><stop offset="0.43" stop-opacity="0.466"/><stop offset="0.50" stop-opacity="0.480"/><stop offset="0.57" stop-opacity="0.480"/><stop offset="0.64" stop-opacity="0.465"/><stop offset="0.71" stop-opacity="0.392"/><stop offset="0.79" stop-opacity="0.236"/><stop offset="0.86" stop-opacity="0.076"/><stop offset="0.93" stop-opacity="0.009"/><stop offset="1.00" stop-opacity="0.000"/></linearGradient><linearGradient id="s183" gradientUnits="userSpaceOnUse" x1="0" y1="266.5" x2="0" y2="387.1"><stop offset="0.00" stop-opacity="0.000"/><stop offset="0.07" stop-opacity="0.012"/><stop offset="0.14" stop-opacity="0.053"/><stop offset="0.21" stop-opacity="0.148"/><stop offset="0.29" stop-opacity="0.282"/><stop offset="0.36" stop-opacity="0.401"/><stop offset="0.43" stop-opacity="0.464"/><stop offset="0.50" stop-opacity="0.478"/><stop offset="0.57" stop-opacity="0.478"/><stop offset="0.64" stop-opacity="0.463"/><stop offset="0.71" stop-opacity="0.390"/><stop offset="0.79" stop-opacity="0.235"/><stop offset="0.86" stop-opacity="0.076"/><stop offset="0.93" stop-opacity="0.009"/><stop offset="1.00" stop-opacity="0.000"/></linearGradient><linearGradient id="s184" gradientUnits="userSpaceOnUse" x1="0" y1="266.0" x2="0" y2="386.5"><stop offset="0.00" stop-opacity="0.000"/><stop offset="0.07" stop-opacity="0.012"/><stop offset="0.14" stop-opacity="0.052"/><stop offset="0.21" stop-opacity="0.147"/><stop offset="0.29" stop-opacity="0.281"/><stop offset="0.36" stop-opacity="0.399"/><stop offset="0.43" stop-opacity="0.461"/><stop offset="0.50" stop-opacity="0.476"/><stop offset="0.57" stop-opacity="0.475"/><stop offset="0.64" stop-opacity="0.460"/><stop offset="0.71" stop-opacity="0.388"/><stop offset="0.79" stop-opacity="0.233"/><stop offset="0.86" stop-opacity="0.076"/><stop offset="0.93" stop-opacity="0.009"/><stop offset="1.00" stop-opacity="0.000"/></linearGradient><linearGradient id="s185" gradientUnits="userSpaceOnUse" x1="0" y1="265.6" x2="0" y2="386.0"><stop offset="0.00" stop-opacity="0.000"/><stop offset="0.07" stop-opacity="0.011"/><stop offset="0.14" stop-opacity="0.052"/><stop offset="0.21" stop-opacity="0.146"/><stop offset="0.29" stop-opacity="0.280"/><stop offset="0.36" stop-opacity="0.397"/><stop offset="0.43" stop-opacity="0.459"/><stop offset="0.50" stop-opacity="0.473"/><stop offset="0.57" stop-opacity="0.473"/><stop offset="0.64" stop-opacity="0.458"/><stop offset="0.71" stop-opacity="0.386"/><stop offset="0.79" stop-opacity="0.232"/><stop offset="0.86" stop-opacity="0.075"/><stop offset="0.93" stop-opacity="0.009"/><stop offset="1.00" stop-opacity="0.000"/></linearGradient><linearGradient id="s186" gradientUnits="userSpaceOnUse" x1="0" y1="265.1" x2="0" y2="385.4"><stop offset="0.00" stop-opacity="0.000"/><stop offset="0.07" stop-opacity="0.011"/><stop offset="0.14" stop-opacity="0.052"/><stop offset="0.21" stop-opacity="0.146"/><stop offset="0.29" stop-opacity="0.278"/><stop offset="0.36" stop-opacity="0.395"/><stop offset="0.43" stop-opacity="0.457"/><stop offset="0.50" stop-opacity="0.471"/><stop offset="0.57" stop-opacity="0.471"/><stop offset="0.64" stop-opacity="0.456"/><stop offset="0.71" stop-opacity="0.384"/><stop offset="0.79" stop-opacity="0.231"/><stop offset="0.86" stop-opacity="0.075"/><stop offset="0.93" stop-opacity="0.009"/><stop offset="1.00" stop-opacity="0.000"/></linearGradient><linearGradient id="s187" gradientUnits="userSpaceOnUse" x1="0" y1="264.6" x2="0" y2="384.8"><stop offset="0.00" stop-opacity="0.000"/><stop offset="0.07" stop-opacity="0.011"/><stop offset="0.14" stop-opacity="0.052"/><stop offset="0.21" stop-opacity="0.145"/><stop offset="0.29" stop-opacity="0.277"/><stop offset="0.36" stop-opacity="0.394"/><stop offset="0.43" stop-opacity="0.455"/><stop offset="0.50" stop-opacity="0.469"/><stop offset="0.57" stop-opacity="0.468"/><stop offset="0.64" stop-opacity="0.454"/><stop offset="0.71" stop-opacity="0.382"/><stop offset="0.79" stop-opacity="0.230"/><stop offset="0.86" stop-opacity="0.074"/><stop offset="0.93" stop-opacity="0.009"/><stop offset="1.00" stop-opacity="0.000"/></linearGradient><linearGradient id="s188" gradientUnits="userSpaceOnUse" x1="0" y1="264.2" x2="0" y2="384.2"><stop offset="0.00" stop-opacity="0.000"/><stop offset="0.07" stop-opacity="0.011"/><stop offset="0.14" stop-opacity="0.051"/><stop offset="0.21" stop-opacity="0.145"/><stop offset="0.29" stop-opacity="0.276"/><stop offset="0.36" stop-opacity="0.392"/><stop offset="0.43" stop-opacity="0.453"/><stop offset="0.50" stop-opacity="0.466"/><stop offset="0.57" stop-opacity="0.466"/><stop offset="0.64" stop-opacity="0.451"/><stop offset="0.71" stop-opacity="0.380"/><stop offset="0.79" stop-opacity="0.228"/><stop offset="0.86" stop-opacity="0.074"/><stop offset="0.93" stop-opacity="0.009"/><stop offset="1.00" stop-opacity="0.000"/></linearGradient><linearGradient id="s189" gradientUnits="userSpaceOnUse" x1="0" y1="263.7" x2="0" y2="383.6"><stop offset="0.00" stop-opacity="0.000"/><stop offset="0.07" stop-opacity="0.011"/><stop offset="0.14" stop-opacity="0.051"/><stop offset="0.21" stop-opacity="0.144"/><stop offset="0.29" stop-opacity="0.275"/><stop offset="0.36" stop-opacity="0.390"/><stop offset="0.43" stop-opacity="0.450"/><stop offset="0.50" stop-opacity="0.464"/><stop offset="0.57" stop-opacity="0.464"/><stop offset="0.64" stop-opacity="0.449"/><stop offset="0.71" stop-opacity="0.378"/><stop offset="0.79" stop-opacity="0.227"/><stop offset="0.86" stop-opacity="0.073"/><stop offset="0.93" stop-opacity="0.009"/><stop offset="1.00" stop-opacity="0.000"/></linearGradient><linearGradient id="s190" gradientUnits="userSpaceOnUse" x1="0" y1="263.3" x2="0" y2="383.0"><stop offset="0.00" stop-opacity="0.000"/><stop offset="0.07" stop-opacity="0.011"/><stop offset="0.14" stop-opacity="0.051"/><stop offset="0.21" stop-opacity="0.143"/><stop offset="0.29" stop-opacity="0.273"/><stop offset="0.36" stop-opacity="0.388"/><stop offset="0.43" stop-opacity="0.448"/><stop offset="0.50" stop-opacity="0.462"/><stop offset="0.57" stop-opacity="0.461"/><stop offset="0.64" stop-opacity="0.447"/><stop offset="0.71" stop-opacity="0.376"/><stop offset="0.79" stop-opacity="0.226"/><stop offset="0.86" stop-opacity="0.073"/><stop offset="0.93" stop-opacity="0.009"/><stop offset="1.00" stop-opacity="0.000"/></linearGradient><linearGradient id="s191" gradientUnits="userSpaceOnUse" x1="0" y1="262.8" x2="0" y2="382.4"><stop offset="0.00" stop-opacity="0.000"/><stop offset="0.07" stop-opacity="0.011"/><stop offset="0.14" stop-opacity="0.051"/><stop offset="0.21" stop-opacity="0.143"/><stop offset="0.29" stop-opacity="0.272"/><stop offset="0.36" stop-opacity="0.386"/><stop offset="0.43" stop-opacity="0.446"/><stop offset="0.50" stop-opacity="0.459"/><stop offset="0.57" stop-opacity="0.459"/><stop offset="0.64" stop-opacity="0.444"/><stop offset="0.71" stop-opacity="0.374"/><stop offset="0.79" stop-opacity="0.225"/><stop offset="0.86" stop-opacity="0.073"/><stop offset="0.93" stop-opacity="0.009"/><stop offset="1.00" stop-opacity="0.000"/></linearGradient><linearGradient id="s192" gradientUnits="userSpaceOnUse" x1="0" y1="262.4" x2="0" y2="381.8"><stop offset="0.00" stop-opacity="0.000"/><stop offset="0.07" stop-opacity="0.011"/><stop offset="0.14" stop-opacity="0.051"/><stop offset="0.21" stop-opacity="0.142"/><stop offset="0.29" stop-opacity="0.271"/><stop offset="0.36" stop-opacity="0.384"/><stop offset="0.43" stop-opacity="0.444"/><stop offset="0.50" stop-opacity="0.457"/><stop offset="0.57" stop-opacity="0.457"/><stop offset="0.64" stop-opacity="0.442"/><stop offset="0.71" stop-opacity="0.372"/><stop offset="0.79" stop-opacity="0.223"/><stop offset="0.86" stop-opacity="0.072"/><stop offset="0.93" stop-opacity="0.009"/><stop offset="1.00" stop-opacity="0.000"/></linearGradient><linearGradient id="s193" gradientUnits="userSpaceOnUse" x1="0" y1="261.9" x2="0" y2="381.2"><stop offset="0.00" stop-opacity="0.000"/><stop offset="0.07" stop-opacity="0.011"/><stop offset="0.14" stop-opacity="0.050"/><stop offset="0.21" stop-opacity="0.141"/><stop offset="0.29" stop-opacity="0.270"/><stop offset="0.36" stop-opacity="0.382"/><stop offset="0.43" stop-opacity="0.442"/><stop offset="0.50" stop-opacity="0.455"/><stop offset="0.57" stop-opacity="0.454"/><stop offset="0.64" stop-opacity="0.440"/><stop offset="0.71" stop-opacity="0.370"/><stop offset="0.79" stop-opacity="0.222"/><stop offset="0.86" stop-opacity="0.072"/><stop offset="0.93" stop-opacity="0.009"/><stop offset="1.00" stop-opacity="0.000"/></linearGradient><linearGradient id="s194" gradientUnits="userSpaceOnUse" x1="0" y1="261.5" x2="0" y2="380.7"><stop offset="0.00" stop-opacity="0.000"/><stop offset="0.07" stop-opacity="0.011"/><stop offset="0.14" stop-opacity="0.050"/><stop offset="0.21" stop-opacity="0.141"/><stop offset="0.29" stop-opacity="0.268"/><stop offset="0.36" stop-opacity="0.381"/><stop offset="0.43" stop-opacity="0.439"/><stop offset="0.50" stop-opacity="0.452"/><stop offset="0.57" stop-opacity="0.452"/><stop offset="0.64" stop-opacity="0.437"/><stop offset="0.71" stop-opacity="0.368"/><stop offset="0.79" stop-opacity="0.221"/><stop offset="0.86" stop-opacity="0.071"/><stop offset="0.93" stop-opacity="0.009"/><stop offset="1.00" stop-opacity="0.000"/></linearGradient><linearGradient id="s195" gradientUnits="userSpaceOnUse" x1="0" y1="261.0" x2="0" y2="380.1"><stop offset="0.00" stop-opacity="0.000"/><stop offset="0.07" stop-opacity="0.011"/><stop offset="0.14" stop-opacity="0.050"/><stop offset="0.21" stop-opacity="0.140"/><stop offset="0.29" stop-opacity="0.267"/><stop offset="0.36" stop-opacity="0.379"/><stop offset="0.43" stop-opacity="0.437"/><stop offset="0.50" stop-opacity="0.450"/><stop offset="0.57" stop-opacity="0.450"/><stop offset="0.64" stop-opacity="0.435"/><stop offset="0.71" stop-opacity="0.366"/><stop offset="0.79" stop-opacity="0.220"/><stop offset="0.86" stop-opacity="0.071"/><stop offset="0.93" stop-opacity="0.009"/><stop offset="1.00" stop-opacity="0.000"/></linearGradient><linearGradient id="s196" gradientUnits="userSpaceOnUse" x1="0" y1="260.5" x2="0" y2="379.5"><stop offset="0.00" stop-opacity="0.000"/><stop offset="0.07" stop-opacity="0.011"/><stop offset="0.14" stop-opacity="0.050"/><stop offset="0.21" stop-opacity="0.139"/><stop offset="0.29" stop-opacity="0.266"/><stop offset="0.36" stop-opacity="0.377"/><stop offset="0.43" stop-opacity="0.435"/><stop offset="0.50" stop-opacity="0.448"/><stop offset="0.57" stop-opacity="0.447"/><stop offset="0.64" stop-opacity="0.433"/><stop offset="0.71" stop-opacity="0.364"/><stop offset="0.79" stop-opacity="0.218"/><stop offset="0.86" stop-opacity="0.070"/><stop offset="0.93" stop-opacity="0.008"/><stop offset="1.00" stop-opacity="0.000"/></linearGradient><linearGradient id="s197" gradientUnits="userSpaceOnUse" x1="0" y1="260.1" x2="0" y2="378.9"><stop offset="0.00" stop-opacity="0.000"/><stop offset="0.07" stop-opacity="0.011"/><stop offset="0.14" stop-opacity="0.049"/><stop offset="0.21" stop-opacity="0.139"/><stop offset="0.29" stop-opacity="0.265"/><stop offset="0.36" stop-opacity="0.375"/><stop offset="0.43" stop-opacity="0.433"/><stop offset="0.50" stop-opacity="0.446"/><stop offset="0.57" stop-opacity="0.445"/><stop offset="0.64" stop-opacity="0.431"/><stop offset="0.71" stop-opacity="0.362"/><stop offset="0.79" stop-opacity="0.217"/><stop offset="0.86" stop-opacity="0.070"/><stop offset="0.93" stop-opacity="0.008"/><stop offset="1.00" stop-opacity="0.000"/></linearGradient><linearGradient id="s198" gradientUnits="userSpaceOnUse" x1="0" y1="259.6" x2="0" y2="378.3"><stop offset="0.00" stop-opacity="0.000"/><stop offset="0.07" stop-opacity="0.011"/><stop offset="0.14" stop-opacity="0.049"/><stop offset="0.21" stop-opacity="0.138"/><stop offset="0.29" stop-opacity="0.263"/><stop offset="0.36" stop-opacity="0.373"/><stop offset="0.43" stop-opacity="0.430"/><stop offset="0.50" stop-opacity="0.443"/><stop offset="0.57" stop-opacity="0.443"/><stop offset="0.64" stop-opacity="0.428"/><stop offset="0.71" stop-opacity="0.360"/><stop offset="0.79" stop-opacity="0.216"/><stop offset="0.86" stop-opacity="0.070"/><stop offset="0.93" stop-opacity="0.008"/><stop offset="1.00" stop-opacity="0.000"/></linearGradient><linearGradient id="s199" gradientUnits="userSpaceOnUse" x1="0" y1="259.2" x2="0" y2="377.7"><stop offset="0.00" stop-opacity="0.000"/><stop offset="0.07" stop-opacity="0.011"/><stop offset="0.14" stop-opacity="0.049"/><stop offset="0.21" stop-opacity="0.138"/><stop offset="0.29" stop-opacity="0.262"/><stop offset="0.36" stop-opacity="0.371"/><stop offset="0.43" stop-opacity="0.428"/><stop offset="0.50" stop-opacity="0.441"/><stop offset="0.57" stop-opacity="0.440"/><stop offset="0.64" stop-opacity="0.426"/><stop offset="0.71" stop-opacity="0.358"/><stop offset="0.79" stop-opacity="0.214"/><stop offset="0.86" stop-opacity="0.069"/><stop offset="0.93" stop-opacity="0.008"/><stop offset="1.00" stop-opacity="0.000"/></linearGradient><linearGradient id="s200" gradientUnits="userSpaceOnUse" x1="0" y1="258.7" x2="0" y2="377.1"><stop offset="0.00" stop-opacity="0.000"/><stop offset="0.07" stop-opacity="0.011"/><stop offset="0.14" stop-opacity="0.049"/><stop offset="0.21" stop-opacity="0.137"/><stop offset="0.29" stop-opacity="0.261"/><stop offset="0.36" stop-opacity="0.369"/><stop offset="0.43" stop-opacity="0.426"/><stop offset="0.50" stop-opacity="0.439"/><stop offset="0.57" stop-opacity="0.438"/><stop offset="0.64" stop-opacity="0.424"/><stop offset="0.71" stop-opacity="0.356"/><stop offset="0.79" stop-opacity="0.213"/><stop offset="0.86" stop-opacity="0.069"/><stop offset="0.93" stop-opacity="0.008"/><stop offset="1.00" stop-opacity="0.000"/></linearGradient><linearGradient id="s201" gradientUnits="userSpaceOnUse" x1="0" y1="258.3" x2="0" y2="376.5"><stop offset="0.00" stop-opacity="0.000"/><stop offset="0.07" stop-opacity="0.011"/><stop offset="0.14" stop-opacity="0.048"/><stop offset="0.21" stop-opacity="0.136"/><stop offset="0.29" stop-opacity="0.260"/><stop offset="0.36" stop-opacity="0.368"/><stop offset="0.43" stop-opacity="0.424"/><stop offset="0.50" stop-opacity="0.436"/><stop offset="0.57" stop-opacity="0.436"/><stop offset="0.64" stop-opacity="0.421"/><stop offset="0.71" stop-opacity="0.354"/><stop offset="0.79" stop-opacity="0.212"/><stop offset="0.86" stop-opacity="0.068"/><stop offset="0.93" stop-opacity="0.008"/><stop offset="1.00" stop-opacity="0.000"/></linearGradient><linearGradient id="s202" gradientUnits="userSpaceOnUse" x1="0" y1="257.8" x2="0" y2="375.9"><stop offset="0.00" stop-opacity="0.000"/><stop offset="0.07" stop-opacity="0.011"/><stop offset="0.14" stop-opacity="0.048"/><stop offset="0.21" stop-opacity="0.136"/><stop offset="0.29" stop-opacity="0.258"/><stop offset="0.36" stop-opacity="0.366"/><stop offset="0.43" stop-opacity="0.422"/><stop offset="0.50" stop-opacity="0.434"/><stop offset="0.57" stop-opacity="0.433"/><stop offset="0.64" stop-opacity="0.419"/><stop offset="0.71" stop-opacity="0.352"/><stop offset="0.79" stop-opacity="0.211"/><stop offset="0.86" stop-opacity="0.068"/><stop offset="0.93" stop-opacity="0.008"/><stop offset="1.00" stop-opacity="0.000"/></linearGradient><linearGradient id="s203" gradientUnits="userSpaceOnUse" x1="0" y1="257.4" x2="0" y2="375.4"><stop offset="0.00" stop-opacity="0.000"/><stop offset="0.07" stop-opacity="0.011"/><stop offset="0.14" stop-opacity="0.048"/><stop offset="0.21" stop-opacity="0.135"/><stop offset="0.29" stop-opacity="0.257"/><stop offset="0.36" stop-opacity="0.364"/><stop offset="0.43" stop-opacity="0.419"/><stop offset="0.50" stop-opacity="0.432"/><stop offset="0.57" stop-opacity="0.431"/><stop offset="0.64" stop-opacity="0.417"/><stop offset="0.71" stop-opacity="0.350"/><stop offset="0.79" stop-opacity="0.209"/><stop offset="0.86" stop-opacity="0.068"/><stop offset="0.93" stop-opacity="0.008"/><stop offset="1.00" stop-opacity="0.000"/></linearGradient><linearGradient id="s204" gradientUnits="userSpaceOnUse" x1="0" y1="256.9" x2="0" y2="374.8"><stop offset="0.00" stop-opacity="0.000"/><stop offset="0.07" stop-opacity="0.011"/><stop offset="0.14" stop-opacity="0.048"/><stop offset="0.21" stop-opacity="0.134"/><stop offset="0.29" stop-opacity="0.256"/><stop offset="0.36" stop-opacity="0.362"/><stop offset="0.43" stop-opacity="0.417"/><stop offset="0.50" stop-opacity="0.429"/><stop offset="0.57" stop-opacity="0.429"/><stop offset="0.64" stop-opacity="0.415"/><stop offset="0.71" stop-opacity="0.348"/><stop offset="0.79" stop-opacity="0.208"/><stop offset="0.86" stop-opacity="0.067"/><stop offset="0.93" stop-opacity="0.008"/><stop offset="1.00" stop-opacity="0.000"/></linearGradient><linearGradient id="s205" gradientUnits="userSpaceOnUse" x1="0" y1="256.4" x2="0" y2="374.2"><stop offset="0.00" stop-opacity="0.000"/><stop offset="0.07" stop-opacity="0.010"/><stop offset="0.14" stop-opacity="0.048"/><stop offset="0.21" stop-opacity="0.134"/><stop offset="0.29" stop-opacity="0.255"/><stop offset="0.36" stop-opacity="0.360"/><stop offset="0.43" stop-opacity="0.415"/><stop offset="0.50" stop-opacity="0.427"/><stop offset="0.57" stop-opacity="0.426"/><stop offset="0.64" stop-opacity="0.412"/><stop offset="0.71" stop-opacity="0.346"/><stop offset="0.79" stop-opacity="0.207"/><stop offset="0.86" stop-opacity="0.067"/><stop offset="0.93" stop-opacity="0.008"/><stop offset="1.00" stop-opacity="0.000"/></linearGradient><linearGradient id="s206" gradientUnits="userSpaceOnUse" x1="0" y1="256.0" x2="0" y2="373.6"><stop offset="0.00" stop-opacity="0.000"/><stop offset="0.07" stop-opacity="0.010"/><stop offset="0.14" stop-opacity="0.047"/><stop offset="0.21" stop-opacity="0.133"/><stop offset="0.29" stop-opacity="0.253"/><stop offset="0.36" stop-opacity="0.358"/><stop offset="0.43" stop-opacity="0.413"/><stop offset="0.50" stop-opacity="0.425"/><stop offset="0.57" stop-opacity="0.424"/><stop offset="0.64" stop-opacity="0.410"/><stop offset="0.71" stop-opacity="0.344"/><stop offset="0.79" stop-opacity="0.206"/><stop offset="0.86" stop-opacity="0.066"/><stop offset="0.93" stop-opacity="0.008"/><stop offset="1.00" stop-opacity="0.000"/></linearGradient><linearGradient id="s207" gradientUnits="userSpaceOnUse" x1="0" y1="255.5" x2="0" y2="373.0"><stop offset="0.00" stop-opacity="0.000"/><stop offset="0.07" stop-opacity="0.010"/><stop offset="0.14" stop-opacity="0.047"/><stop offset="0.21" stop-opacity="0.132"/><stop offset="0.29" stop-opacity="0.252"/><stop offset="0.36" stop-opacity="0.356"/><stop offset="0.43" stop-opacity="0.410"/><stop offset="0.50" stop-opacity="0.422"/><stop offset="0.57" stop-opacity="0.422"/><stop offset="0.64" stop-opacity="0.408"/><stop offset="0.71" stop-opacity="0.342"/><stop offset="0.79" stop-opacity="0.204"/><stop offset="0.86" stop-opacity="0.066"/><stop offset="0.93" stop-opacity="0.008"/><stop offset="1.00" stop-opacity="0.000"/></linearGradient><linearGradient id="s208" gradientUnits="userSpaceOnUse" x1="0" y1="255.1" x2="0" y2="372.4"><stop offset="0.00" stop-opacity="0.000"/><stop offset="0.07" stop-opacity="0.010"/><stop offset="0.14" stop-opacity="0.047"/><stop offset="0.21" stop-opacity="0.132"/><stop offset="0.29" stop-opacity="0.251"/><stop offset="0.36" stop-opacity="0.354"/><stop offset="0.43" stop-opacity="0.408"/><stop offset="0.50" stop-opacity="0.420"/><stop offset="0.57" stop-opacity="0.419"/><stop offset="0.64" stop-opacity="0.405"/><stop offset="0.71" stop-opacity="0.340"/><stop offset="0.79" stop-opacity="0.203"/><stop offset="0.86" stop-opacity="0.065"/><stop offset="0.93" stop-opacity="0.008"/><stop offset="1.00" stop-opacity="0.000"/></linearGradient><linearGradient id="s209" gradientUnits="userSpaceOnUse" x1="0" y1="254.6" x2="0" y2="371.8"><stop offset="0.00" stop-opacity="0.000"/><stop offset="0.07" stop-opacity="0.010"/><stop offset="0.14" stop-opacity="0.047"/><stop offset="0.21" stop-opacity="0.131"/><stop offset="0.29" stop-opacity="0.249"/><stop offset="0.36" stop-opacity="0.353"/><stop offset="0.43" stop-opacity="0.406"/><stop offset="0.50" stop-opacity="0.418"/><stop offset="0.57" stop-opacity="0.417"/><stop offset="0.64" stop-opacity="0.403"/><stop offset="0.71" stop-opacity="0.338"/><stop offset="0.79" stop-opacity="0.202"/><stop offset="0.86" stop-opacity="0.065"/><stop offset="0.93" stop-opacity="0.008"/><stop offset="1.00" stop-opacity="0.000"/></linearGradient><linearGradient id="s210" gradientUnits="userSpaceOnUse" x1="0" y1="254.2" x2="0" y2="371.2"><stop offset="0.00" stop-opacity="0.000"/><stop offset="0.07" stop-opacity="0.010"/><stop offset="0.14" stop-opacity="0.046"/><stop offset="0.21" stop-opacity="0.130"/><stop offset="0.29" stop-opacity="0.248"/><stop offset="0.36" stop-opacity="0.351"/><stop offset="0.43" stop-opacity="0.404"/><stop offset="0.50" stop-opacity="0.415"/><stop offset="0.57" stop-opacity="0.415"/><stop offset="0.64" stop-opacity="0.401"/><stop offset="0.71" stop-opacity="0.336"/><stop offset="0.79" stop-opacity="0.201"/><stop offset="0.86" stop-opacity="0.065"/><stop offset="0.93" stop-opacity="0.008"/><stop offset="1.00" stop-opacity="0.000"/></linearGradient><linearGradient id="s211" gradientUnits="userSpaceOnUse" x1="0" y1="253.7" x2="0" y2="370.6"><stop offset="0.00" stop-opacity="0.000"/><stop offset="0.07" stop-opacity="0.010"/><stop offset="0.14" stop-opacity="0.046"/><stop offset="0.21" stop-opacity="0.130"/><stop offset="0.29" stop-opacity="0.247"/><stop offset="0.36" stop-opacity="0.349"/><stop offset="0.43" stop-opacity="0.402"/><stop offset="0.50" stop-opacity="0.413"/><stop offset="0.57" stop-opacity="0.412"/><stop offset="0.64" stop-opacity="0.399"/><stop offset="0.71" stop-opacity="0.334"/><stop offset="0.79" stop-opacity="0.199"/><stop offset="0.86" stop-opacity="0.064"/><stop offset="0.93" stop-opacity="0.008"/><stop offset="1.00" stop-opacity="0.000"/></linearGradient><linearGradient id="s212" gradientUnits="userSpaceOnUse" x1="0" y1="253.3" x2="0" y2="370.0"><stop offset="0.00" stop-opacity="0.000"/><stop offset="0.07" stop-opacity="0.010"/><stop offset="0.14" stop-opacity="0.046"/><stop offset="0.21" stop-opacity="0.129"/><stop offset="0.29" stop-opacity="0.246"/><stop offset="0.36" stop-opacity="0.347"/><stop offset="0.43" stop-opacity="0.399"/><stop offset="0.50" stop-opacity="0.411"/><stop offset="0.57" stop-opacity="0.410"/><stop offset="0.64" stop-opacity="0.396"/><stop offset="0.71" stop-opacity="0.332"/><stop offset="0.79" stop-opacity="0.198"/><stop offset="0.86" stop-opacity="0.064"/><stop offset="0.93" stop-opacity="0.008"/><stop offset="1.00" stop-opacity="0.000"/></linearGradient><linearGradient id="s213" gradientUnits="userSpaceOnUse" x1="0" y1="252.8" x2="0" y2="369.5"><stop offset="0.00" stop-opacity="0.000"/><stop offset="0.07" stop-opacity="0.010"/><stop offset="0.14" stop-opacity="0.046"/><stop offset="0.21" stop-opacity="0.128"/><stop offset="0.29" stop-opacity="0.244"/><stop offset="0.36" stop-opacity="0.345"/><stop offset="0.43" stop-opacity="0.397"/><stop offset="0.50" stop-opacity="0.408"/><stop offset="0.57" stop-opacity="0.408"/><stop offset="0.64" stop-opacity="0.394"/><stop offset="0.71" stop-opacity="0.330"/><stop offset="0.79" stop-opacity="0.197"/><stop offset="0.86" stop-opacity="0.063"/><stop offset="0.93" stop-opacity="0.008"/><stop offset="1.00" stop-opacity="0.000"/></linearGradient><linearGradient id="s214" gradientUnits="userSpaceOnUse" x1="0" y1="252.3" x2="0" y2="368.9"><stop offset="0.00" stop-opacity="0.000"/><stop offset="0.07" stop-opacity="0.010"/><stop offset="0.14" stop-opacity="0.045"/><stop offset="0.21" stop-opacity="0.128"/><stop offset="0.29" stop-opacity="0.243"/><stop offset="0.36" stop-opacity="0.343"/><stop offset="0.43" stop-opacity="0.395"/><stop offset="0.50" stop-opacity="0.406"/><stop offset="0.57" stop-opacity="0.406"/><stop offset="0.64" stop-opacity="0.392"/><stop offset="0.71" stop-opacity="0.328"/><stop offset="0.79" stop-opacity="0.196"/><stop offset="0.86" stop-opacity="0.063"/><stop offset="0.93" stop-opacity="0.008"/><stop offset="1.00" stop-opacity="0.000"/></linearGradient><linearGradient id="s215" gradientUnits="userSpaceOnUse" x1="0" y1="251.9" x2="0" y2="368.3"><stop offset="0.00" stop-opacity="0.000"/><stop offset="0.07" stop-opacity="0.010"/><stop offset="0.14" stop-opacity="0.045"/><stop offset="0.21" stop-opacity="0.127"/><stop offset="0.29" stop-opacity="0.242"/><stop offset="0.36" stop-opacity="0.341"/><stop offset="0.43" stop-opacity="0.393"/><stop offset="0.50" stop-opacity="0.404"/><stop offset="0.57" stop-opacity="0.403"/><stop offset="0.64" stop-opacity="0.389"/><stop offset="0.71" stop-opacity="0.326"/><stop offset="0.79" stop-opacity="0.195"/><stop offset="0.86" stop-opacity="0.063"/><stop offset="0.93" stop-opacity="0.008"/><stop offset="1.00" stop-opacity="0.000"/></linearGradient><linearGradient id="s216" gradientUnits="userSpaceOnUse" x1="0" y1="251.4" x2="0" y2="367.7"><stop offset="0.00" stop-opacity="0.000"/><stop offset="0.07" stop-opacity="0.010"/><stop offset="0.14" stop-opacity="0.045"/><stop offset="0.21" stop-opacity="0.126"/><stop offset="0.29" stop-opacity="0.240"/><stop offset="0.36" stop-opacity="0.340"/><stop offset="0.43" stop-opacity="0.390"/><stop offset="0.50" stop-opacity="0.401"/><stop offset="0.57" stop-opacity="0.401"/><stop offset="0.64" stop-opacity="0.387"/><stop offset="0.71" stop-opacity="0.324"/><stop offset="0.79" stop-opacity="0.193"/><stop offset="0.86" stop-opacity="0.062"/><stop offset="0.93" stop-opacity="0.007"/><stop offset="1.00" stop-opacity="0.000"/></linearGradient><linearGradient id="s217" gradientUnits="userSpaceOnUse" x1="0" y1="251.0" x2="0" y2="367.1"><stop offset="0.00" stop-opacity="0.000"/><stop offset="0.07" stop-opacity="0.010"/><stop offset="0.14" stop-opacity="0.045"/><stop offset="0.21" stop-opacity="0.126"/><stop offset="0.29" stop-opacity="0.239"/><stop offset="0.36" stop-opacity="0.338"/><stop offset="0.43" stop-opacity="0.388"/><stop offset="0.50" stop-opacity="0.399"/><stop offset="0.57" stop-opacity="0.399"/><stop offset="0.64" stop-opacity="0.385"/><stop offset="0.71" stop-opacity="0.322"/><stop offset="0.79" stop-opacity="0.192"/><stop offset="0.86" stop-opacity="0.062"/><stop offset="0.93" stop-opacity="0.007"/><stop offset="1.00" stop-opacity="0.000"/></linearGradient><linearGradient id="s218" gradientUnits="userSpaceOnUse" x1="0" y1="250.5" x2="0" y2="366.5"><stop offset="0.00" stop-opacity="0.000"/><stop offset="0.07" stop-opacity="0.010"/><stop offset="0.14" stop-opacity="0.045"/><stop offset="0.21" stop-opacity="0.125"/><stop offset="0.29" stop-opacity="0.238"/><stop offset="0.36" stop-opacity="0.336"/><stop offset="0.43" stop-opacity="0.386"/><stop offset="0.50" stop-opacity="0.397"/><stop offset="0.57" stop-opacity="0.396"/><stop offset="0.64" stop-opacity="0.383"/><stop offset="0.71" stop-opacity="0.320"/><stop offset="0.79" stop-opacity="0.191"/><stop offset="0.86" stop-opacity="0.061"/><stop offset="0.93" stop-opacity="0.007"/><stop offset="1.00" stop-opacity="0.000"/></linearGradient><linearGradient id="s219" gradientUnits="userSpaceOnUse" x1="0" y1="250.1" x2="0" y2="365.9"><stop offset="0.00" stop-opacity="0.000"/><stop offset="0.07" stop-opacity="0.010"/><stop offset="0.14" stop-opacity="0.044"/><stop offset="0.21" stop-opacity="0.124"/><stop offset="0.29" stop-opacity="0.237"/><stop offset="0.36" stop-opacity="0.334"/><stop offset="0.43" stop-opacity="0.384"/><stop offset="0.50" stop-opacity="0.394"/><stop offset="0.57" stop-opacity="0.394"/><stop offset="0.64" stop-opacity="0.380"/><stop offset="0.71" stop-opacity="0.318"/><stop offset="0.79" stop-opacity="0.190"/><stop offset="0.86" stop-opacity="0.061"/><stop offset="0.93" stop-opacity="0.007"/><stop offset="1.00" stop-opacity="0.000"/></linearGradient><linearGradient id="s220" gradientUnits="userSpaceOnUse" x1="0" y1="249.6" x2="0" y2="365.3"><stop offset="0.00" stop-opacity="0.000"/><stop offset="0.07" stop-opacity="0.010"/><stop offset="0.14" stop-opacity="0.044"/><stop offset="0.21" stop-opacity="0.124"/><stop offset="0.29" stop-opacity="0.235"/><stop offset="0.36" stop-opacity="0.332"/><stop offset="0.43" stop-opacity="0.382"/><stop offset="0.50" stop-opacity="0.392"/><stop offset="0.57" stop-opacity="0.392"/><stop offset="0.64" stop-opacity="0.378"/><stop offset="0.71" stop-opacity="0.316"/><stop offset="0.79" stop-opacity="0.188"/><stop offset="0.86" stop-opacity="0.061"/><stop offset="0.93" stop-opacity="0.007"/><stop offset="1.00" stop-opacity="0.000"/></linearGradient><linearGradient id="s221" gradientUnits="userSpaceOnUse" x1="0" y1="249.2" x2="0" y2="364.7"><stop offset="0.00" stop-opacity="0.000"/><stop offset="0.07" stop-opacity="0.010"/><stop offset="0.14" stop-opacity="0.044"/><stop offset="0.21" stop-opacity="0.123"/><stop offset="0.29" stop-opacity="0.234"/><stop offset="0.36" stop-opacity="0.330"/><stop offset="0.43" stop-opacity="0.379"/><stop offset="0.50" stop-opacity="0.390"/><stop offset="0.57" stop-opacity="0.389"/><stop offset="0.64" stop-opacity="0.376"/><stop offset="0.71" stop-opacity="0.314"/><stop offset="0.79" stop-opacity="0.187"/><stop offset="0.86" stop-opacity="0.060"/><stop offset="0.93" stop-opacity="0.007"/><stop offset="1.00" stop-opacity="0.000"/></linearGradient><linearGradient id="s222" gradientUnits="userSpaceOnUse" x1="0" y1="248.7" x2="0" y2="364.2"><stop offset="0.00" stop-opacity="0.000"/><stop offset="0.07" stop-opacity="0.010"/><stop offset="0.14" stop-opacity="0.044"/><stop offset="0.21" stop-opacity="0.122"/><stop offset="0.29" stop-opacity="0.233"/><stop offset="0.36" stop-opacity="0.328"/><stop offset="0.43" stop-opacity="0.377"/><stop offset="0.50" stop-opacity="0.387"/><stop offset="0.57" stop-opacity="0.387"/><stop offset="0.64" stop-opacity="0.373"/><stop offset="0.71" stop-opacity="0.312"/><stop offset="0.79" stop-opacity="0.186"/><stop offset="0.86" stop-opacity="0.060"/><stop offset="0.93" stop-opacity="0.007"/><stop offset="1.00" stop-opacity="0.000"/></linearGradient><linearGradient id="s223" gradientUnits="userSpaceOnUse" x1="0" y1="248.2" x2="0" y2="363.6"><stop offset="0.00" stop-opacity="0.000"/><stop offset="0.07" stop-opacity="0.009"/><stop offset="0.14" stop-opacity="0.043"/><stop offset="0.21" stop-opacity="0.122"/><stop offset="0.29" stop-opacity="0.231"/><stop offset="0.36" stop-opacity="0.326"/><stop offset="0.43" stop-opacity="0.375"/><stop offset="0.50" stop-opacity="0.385"/><stop offset="0.57" stop-opacity="0.385"/><stop offset="0.64" stop-opacity="0.371"/><stop offset="0.71" stop-opacity="0.310"/><stop offset="0.79" stop-opacity="0.185"/><stop offset="0.86" stop-opacity="0.059"/><stop offset="0.93" stop-opacity="0.007"/><stop offset="1.00" stop-opacity="0.000"/></linearGradient><linearGradient id="s224" gradientUnits="userSpaceOnUse" x1="0" y1="247.8" x2="0" y2="363.0"><stop offset="0.00" stop-opacity="0.000"/><stop offset="0.07" stop-opacity="0.009"/><stop offset="0.14" stop-opacity="0.043"/><stop offset="0.21" stop-opacity="0.121"/><stop offset="0.29" stop-opacity="0.230"/><stop offset="0.36" stop-opacity="0.324"/><stop offset="0.43" stop-opacity="0.373"/><stop offset="0.50" stop-opacity="0.383"/><stop offset="0.57" stop-opacity="0.382"/><stop offset="0.64" stop-opacity="0.369"/><stop offset="0.71" stop-opacity="0.308"/><stop offset="0.79" stop-opacity="0.183"/><stop offset="0.86" stop-opacity="0.059"/><stop offset="0.93" stop-opacity="0.007"/><stop offset="1.00" stop-opacity="0.000"/></linearGradient><linearGradient id="s225" gradientUnits="userSpaceOnUse" x1="0" y1="247.3" x2="0" y2="362.4"><stop offset="0.00" stop-opacity="0.000"/><stop offset="0.07" stop-opacity="0.009"/><stop offset="0.14" stop-opacity="0.043"/><stop offset="0.21" stop-opacity="0.120"/><stop offset="0.29" stop-opacity="0.229"/><stop offset="0.36" stop-opacity="0.323"/><stop offset="0.43" stop-opacity="0.370"/><stop offset="0.50" stop-opacity="0.380"/><stop offset="0.57" stop-opacity="0.380"/><stop offset="0.64" stop-opacity="0.367"/><stop offset="0.71" stop-opacity="0.306"/><stop offset="0.79" stop-opacity="0.182"/><stop offset="0.86" stop-opacity="0.058"/><stop offset="0.93" stop-opacity="0.007"/><stop offset="1.00" stop-opacity="0.000"/></linearGradient><linearGradient id="s226" gradientUnits="userSpaceOnUse" x1="0" y1="247.0" x2="0" y2="361.5"><stop offset="0.00" stop-opacity="0.000"/><stop offset="0.07" stop-opacity="0.009"/><stop offset="0.14" stop-opacity="0.042"/><stop offset="0.21" stop-opacity="0.119"/><stop offset="0.29" stop-opacity="0.225"/><stop offset="0.36" stop-opacity="0.318"/><stop offset="0.43" stop-opacity="0.366"/><stop offset="0.50" stop-opacity="0.376"/><stop offset="0.57" stop-opacity="0.375"/><stop offset="0.64" stop-opacity="0.363"/><stop offset="0.71" stop-opacity="0.303"/><stop offset="0.79" stop-opacity="0.181"/><stop offset="0.86" stop-opacity="0.058"/><stop offset="0.93" stop-opacity="0.007"/><stop offset="1.00" stop-opacity="0.000"/></linearGradient><linearGradient id="s227" gradientUnits="userSpaceOnUse" x1="0" y1="246.6" x2="0" y2="360.6"><stop offset="0.00" stop-opacity="0.000"/><stop offset="0.07" stop-opacity="0.009"/><stop offset="0.14" stop-opacity="0.041"/><stop offset="0.21" stop-opacity="0.116"/><stop offset="0.29" stop-opacity="0.222"/><stop offset="0.36" stop-opacity="0.313"/><stop offset="0.43" stop-opacity="0.361"/><stop offset="0.50" stop-opacity="0.371"/><stop offset="0.57" stop-opacity="0.371"/><stop offset="0.64" stop-opacity="0.358"/><stop offset="0.71" stop-opacity="0.300"/><stop offset="0.79" stop-opacity="0.179"/><stop offset="0.86" stop-opacity="0.058"/><stop offset="0.93" stop-opacity="0.007"/><stop offset="1.00" stop-opacity="0.000"/></linearGradient><linearGradient id="s228" gradientUnits="userSpaceOnUse" x1="0" y1="246.3" x2="0" y2="359.7"><stop offset="0.00" stop-opacity="0.000"/><stop offset="0.07" stop-opacity="0.009"/><stop offset="0.14" stop-opacity="0.041"/><stop offset="0.21" stop-opacity="0.114"/><stop offset="0.29" stop-opacity="0.218"/><stop offset="0.36" stop-opacity="0.308"/><stop offset="0.43" stop-opacity="0.356"/><stop offset="0.50" stop-opacity="0.366"/><stop offset="0.57" stop-opacity="0.366"/><stop offset="0.64" stop-opacity="0.354"/><stop offset="0.71" stop-opacity="0.297"/><stop offset="0.79" stop-opacity="0.178"/><stop offset="0.86" stop-opacity="0.057"/><stop offset="0.93" stop-opacity="0.007"/><stop offset="1.00" stop-opacity="0.000"/></linearGradient><linearGradient id="s229" gradientUnits="userSpaceOnUse" x1="0" y1="245.9" x2="0" y2="358.8"><stop offset="0.00" stop-opacity="0.000"/><stop offset="0.07" stop-opacity="0.009"/><stop offset="0.14" stop-opacity="0.040"/><stop offset="0.21" stop-opacity="0.112"/><stop offset="0.29" stop-opacity="0.214"/><stop offset="0.36" stop-opacity="0.303"/><stop offset="0.43" stop-opacity="0.350"/><stop offset="0.50" stop-opacity="0.361"/><stop offset="0.57" stop-opacity="0.361"/><stop offset="0.64" stop-opacity="0.349"/><stop offset="0.71" stop-opacity="0.294"/><stop offset="0.79" stop-opacity="0.176"/><stop offset="0.86" stop-opacity="0.057"/><stop offset="0.93" stop-opacity="0.007"/><stop offset="1.00" stop-opacity="0.000"/></linearGradient><linearGradient id="s230" gradientUnits="userSpaceOnUse" x1="0" y1="245.6" x2="0" y2="357.9"><stop offset="0.00" stop-opacity="0.000"/><stop offset="0.07" stop-opacity="0.009"/><stop offset="0.14" stop-opacity="0.039"/><stop offset="0.21" stop-opacity="0.110"/><stop offset="0.29" stop-opacity="0.210"/><stop offset="0.36" stop-opacity="0.298"/><stop offset="0.43" stop-opacity="0.345"/><stop offset="0.50" stop-opacity="0.356"/><stop offset="0.57" stop-opacity="0.356"/><stop offset="0.64" stop-opacity="0.345"/><stop offset="0.71" stop-opacity="0.290"/><stop offset="0.79" stop-opacity="0.175"/><stop offset="0.86" stop-opacity="0.057"/><stop offset="0.93" stop-opacity="0.007"/><stop offset="1.00" stop-opacity="0.000"/></linearGradient><linearGradient id="s231" gradientUnits="userSpaceOnUse" x1="0" y1="245.2" x2="0" y2="357.0"><stop offset="0.00" stop-opacity="0.000"/><stop offset="0.07" stop-opacity="0.008"/><stop offset="0.14" stop-opacity="0.038"/><stop offset="0.21" stop-opacity="0.108"/><stop offset="0.29" stop-opacity="0.206"/><stop offset="0.36" stop-opacity="0.294"/><stop offset="0.43" stop-opacity="0.340"/><stop offset="0.50" stop-opacity="0.351"/><stop offset="0.57" stop-opacity="0.351"/><stop offset="0.64" stop-opacity="0.340"/><stop offset="0.71" stop-opacity="0.287"/><stop offset="0.79" stop-opacity="0.173"/><stop offset="0.86" stop-opacity="0.056"/><stop offset="0.93" stop-opacity="0.007"/><stop offset="1.00" stop-opacity="0.000"/></linearGradient><linearGradient id="s232" gradientUnits="userSpaceOnUse" x1="0" y1="244.9" x2="0" y2="356.1"><stop offset="0.00" stop-opacity="0.000"/><stop offset="0.07" stop-opacity="0.008"/><stop offset="0.14" stop-opacity="0.038"/><stop offset="0.21" stop-opacity="0.106"/><stop offset="0.29" stop-opacity="0.202"/><stop offset="0.36" stop-opacity="0.289"/><stop offset="0.43" stop-opacity="0.335"/><stop offset="0.50" stop-opacity="0.346"/><stop offset="0.57" stop-opacity="0.346"/><stop offset="0.64" stop-opacity="0.336"/><stop offset="0.71" stop-opacity="0.284"/><stop offset="0.79" stop-opacity="0.172"/><stop offset="0.86" stop-opacity="0.056"/><stop offset="0.93" stop-opacity="0.007"/><stop offset="1.00" stop-opacity="0.000"/></linearGradient><linearGradient id="s233" gradientUnits="userSpaceOnUse" x1="0" y1="244.5" x2="0" y2="355.1"><stop offset="0.00" stop-opacity="0.000"/><stop offset="0.07" stop-opacity="0.008"/><stop offset="0.14" stop-opacity="0.037"/><stop offset="0.21" stop-opacity="0.104"/><stop offset="0.29" stop-opacity="0.199"/><stop offset="0.36" stop-opacity="0.284"/><stop offset="0.43" stop-opacity="0.330"/><stop offset="0.50" stop-opacity="0.341"/><stop offset="0.57" stop-opacity="0.341"/><stop offset="0.64" stop-opacity="0.331"/><stop offset="0.71" stop-opacity="0.281"/><stop offset="0.79" stop-opacity="0.170"/><stop offset="0.86" stop-opacity="0.056"/><stop offset="0.93" stop-opacity="0.007"/><stop offset="1.00" stop-opacity="0.000"/></linearGradient><linearGradient id="s234" gradientUnits="userSpaceOnUse" x1="0" y1="244.2" x2="0" y2="354.2"><stop offset="0.00" stop-opacity="0.000"/><stop offset="0.07" stop-opacity="0.008"/><stop offset="0.14" stop-opacity="0.036"/><stop offset="0.21" stop-opacity="0.102"/><stop offset="0.29" stop-opacity="0.195"/><stop offset="0.36" stop-opacity="0.279"/><stop offset="0.43" stop-opacity="0.325"/><stop offset="0.50" stop-opacity="0.336"/><stop offset="0.57" stop-opacity="0.336"/><stop offset="0.64" stop-opacity="0.327"/><stop offset="0.71" stop-opacity="0.277"/><stop offset="0.79" stop-opacity="0.169"/><stop offset="0.86" stop-opacity="0.055"/><stop offset="0.93" stop-opacity="0.007"/><stop offset="1.00" stop-opacity="0.000"/></linearGradient><linearGradient id="s235" gradientUnits="userSpaceOnUse" x1="0" y1="243.8" x2="0" y2="353.3"><stop offset="0.00" stop-opacity="0.000"/><stop offset="0.07" stop-opacity="0.008"/><stop offset="0.14" stop-opacity="0.035"/><stop offset="0.21" stop-opacity="0.099"/><stop offset="0.29" stop-opacity="0.191"/><stop offset="0.36" stop-opacity="0.274"/><stop offset="0.43" stop-opacity="0.320"/><stop offset="0.50" stop-opacity="0.331"/><stop offset="0.57" stop-opacity="0.331"/><stop offset="0.64" stop-opacity="0.322"/><stop offset="0.71" stop-opacity="0.274"/><stop offset="0.79" stop-opacity="0.167"/><stop offset="0.86" stop-opacity="0.055"/><stop offset="0.93" stop-opacity="0.007"/><stop offset="1.00" stop-opacity="0.000"/></linearGradient><linearGradient id="s236" gradientUnits="userSpaceOnUse" x1="0" y1="243.5" x2="0" y2="352.4"><stop offset="0.00" stop-opacity="0.000"/><stop offset="0.07" stop-opacity="0.008"/><stop offset="0.14" stop-opacity="0.035"/><stop offset="0.21" stop-opacity="0.097"/><stop offset="0.29" stop-opacity="0.187"/><stop offset="0.36" stop-opacity="0.269"/><stop offset="0.43" stop-opacity="0.314"/><stop offset="0.50" stop-opacity="0.326"/><stop offset="0.57" stop-opacity="0.326"/><stop offset="0.64" stop-opacity="0.317"/><stop offset="0.71" stop-opacity="0.271"/><stop offset="0.79" stop-opacity="0.166"/><stop offset="0.86" stop-opacity="0.054"/><stop offset="0.93" stop-opacity="0.006"/><stop offset="1.00" stop-opacity="0.000"/></linearGradient><linearGradient id="s237" gradientUnits="userSpaceOnUse" x1="0" y1="243.2" x2="0" y2="351.5"><stop offset="0.00" stop-opacity="0.000"/><stop offset="0.07" stop-opacity="0.008"/><stop offset="0.14" stop-opacity="0.034"/><stop offset="0.21" stop-opacity="0.095"/><stop offset="0.29" stop-opacity="0.184"/><stop offset="0.36" stop-opacity="0.264"/><stop offset="0.43" stop-opacity="0.309"/><stop offset="0.50" stop-opacity="0.321"/><stop offset="0.57" stop-opacity="0.321"/><stop offset="0.64" stop-opacity="0.313"/><stop offset="0.71" stop-opacity="0.267"/><stop offset="0.79" stop-opacity="0.164"/><stop offset="0.86" stop-opacity="0.054"/><stop offset="0.93" stop-opacity="0.006"/><stop offset="1.00" stop-opacity="0.000"/></linearGradient><linearGradient id="s238" gradientUnits="userSpaceOnUse" x1="0" y1="242.8" x2="0" y2="350.6"><stop offset="0.00" stop-opacity="0.000"/><stop offset="0.07" stop-opacity="0.007"/><stop offset="0.14" stop-opacity="0.033"/><stop offset="0.21" stop-opacity="0.093"/><stop offset="0.29" stop-opacity="0.180"/><stop offset="0.36" stop-opacity="0.259"/><stop offset="0.43" stop-opacity="0.304"/><stop offset="0.50" stop-opacity="0.316"/><stop offset="0.57" stop-opacity="0.316"/><stop offset="0.64" stop-opacity="0.308"/><stop offset="0.71" stop-opacity="0.264"/><stop offset="0.79" stop-opacity="0.163"/><stop offset="0.86" stop-opacity="0.054"/><stop offset="0.93" stop-opacity="0.006"/><stop offset="1.00" stop-opacity="0.000"/></linearGradient><linearGradient id="s239" gradientUnits="userSpaceOnUse" x1="0" y1="242.5" x2="0" y2="349.7"><stop offset="0.00" stop-opacity="0.000"/><stop offset="0.07" stop-opacity="0.007"/><stop offset="0.14" stop-opacity="0.032"/><stop offset="0.21" stop-opacity="0.091"/><stop offset="0.29" stop-opacity="0.176"/><stop offset="0.36" stop-opacity="0.255"/><stop offset="0.43" stop-opacity="0.299"/><stop offset="0.50" stop-opacity="0.311"/><stop offset="0.57" stop-opacity="0.311"/><stop offset="0.64" stop-opacity="0.304"/><stop offset="0.71" stop-opacity="0.261"/><stop offset="0.79" stop-opacity="0.161"/><stop offset="0.86" stop-opacity="0.053"/><stop offset="0.93" stop-opacity="0.006"/><stop offset="1.00" stop-opacity="0.000"/></linearGradient><linearGradient id="s240" gradientUnits="userSpaceOnUse" x1="0" y1="242.1" x2="0" y2="348.7"><stop offset="0.00" stop-opacity="0.000"/><stop offset="0.07" stop-opacity="0.007"/><stop offset="0.14" stop-opacity="0.032"/><stop offset="0.21" stop-opacity="0.089"/><stop offset="0.29" stop-opacity="0.173"/><stop offset="0.36" stop-opacity="0.250"/><stop offset="0.43" stop-opacity="0.294"/><stop offset="0.50" stop-opacity="0.306"/><stop offset="0.57" stop-opacity="0.306"/><stop offset="0.64" stop-opacity="0.299"/><stop offset="0.71" stop-opacity="0.257"/><stop offset="0.79" stop-opacity="0.159"/><stop offset="0.86" stop-opacity="0.053"/><stop offset="0.93" stop-opacity="0.006"/><stop offset="1.00" stop-opacity="0.000"/></linearGradient><linearGradient id="s241" gradientUnits="userSpaceOnUse" x1="0" y1="241.8" x2="0" y2="347.8"><stop offset="0.00" stop-opacity="0.000"/><stop offset="0.07" stop-opacity="0.007"/><stop offset="0.14" stop-opacity="0.031"/><stop offset="0.21" stop-opacity="0.087"/><stop offset="0.29" stop-opacity="0.169"/><stop offset="0.36" stop-opacity="0.245"/><stop offset="0.43" stop-opacity="0.289"/><stop offset="0.50" stop-opacity="0.301"/><stop offset="0.57" stop-opacity="0.301"/><stop offset="0.64" stop-opacity="0.295"/><stop offset="0.71" stop-opacity="0.254"/><stop offset="0.79" stop-opacity="0.158"/><stop offset="0.86" stop-opacity="0.052"/><stop offset="0.93" stop-opacity="0.006"/><stop offset="1.00" stop-opacity="0.000"/></linearGradient><linearGradient id="s242" gradientUnits="userSpaceOnUse" x1="0" y1="241.4" x2="0" y2="346.9"><stop offset="0.00" stop-opacity="0.000"/><stop offset="0.07" stop-opacity="0.007"/><stop offset="0.14" stop-opacity="0.030"/><stop offset="0.21" stop-opacity="0.085"/><stop offset="0.29" stop-opacity="0.166"/><stop offset="0.36" stop-opacity="0.240"/><stop offset="0.43" stop-opacity="0.284"/><stop offset="0.50" stop-opacity="0.296"/><stop offset="0.57" stop-opacity="0.296"/><stop offset="0.64" stop-opacity="0.290"/><stop offset="0.71" stop-opacity="0.250"/><stop offset="0.79" stop-opacity="0.156"/><stop offset="0.86" stop-opacity="0.052"/><stop offset="0.93" stop-opacity="0.006"/><stop offset="1.00" stop-opacity="0.000"/></linearGradient><linearGradient id="s243" gradientUnits="userSpaceOnUse" x1="0" y1="241.1" x2="0" y2="346.0"><stop offset="0.00" stop-opacity="0.000"/><stop offset="0.07" stop-opacity="0.007"/><stop offset="0.14" stop-opacity="0.030"/><stop offset="0.21" stop-opacity="0.084"/><stop offset="0.29" stop-opacity="0.162"/><stop offset="0.36" stop-opacity="0.236"/><stop offset="0.43" stop-opacity="0.278"/><stop offset="0.50" stop-opacity="0.291"/><stop offset="0.57" stop-opacity="0.291"/><stop offset="0.64" stop-opacity="0.285"/><stop offset="0.71" stop-opacity="0.247"/><stop offset="0.79" stop-opacity="0.154"/><stop offset="0.86" stop-opacity="0.051"/><stop offset="0.93" stop-opacity="0.006"/><stop offset="1.00" stop-opacity="0.000"/></linearGradient><linearGradient id="s244" gradientUnits="userSpaceOnUse" x1="0" y1="240.7" x2="0" y2="345.1"><stop offset="0.00" stop-opacity="0.000"/><stop offset="0.07" stop-opacity="0.007"/><stop offset="0.14" stop-opacity="0.029"/><stop offset="0.21" stop-opacity="0.082"/><stop offset="0.29" stop-opacity="0.159"/><stop offset="0.36" stop-opacity="0.231"/><stop offset="0.43" stop-opacity="0.273"/><stop offset="0.50" stop-opacity="0.286"/><stop offset="0.57" stop-opacity="0.287"/><stop offset="0.64" stop-opacity="0.281"/><stop offset="0.71" stop-opacity="0.243"/><stop offset="0.79" stop-opacity="0.153"/><stop offset="0.86" stop-opacity="0.051"/><stop offset="0.93" stop-opacity="0.006"/><stop offset="1.00" stop-opacity="0.000"/></linearGradient><linearGradient id="s245" gradientUnits="userSpaceOnUse" x1="0" y1="240.4" x2="0" y2="344.2"><stop offset="0.00" stop-opacity="0.000"/><stop offset="0.07" stop-opacity="0.006"/><stop offset="0.14" stop-opacity="0.028"/><stop offset="0.21" stop-opacity="0.080"/><stop offset="0.29" stop-opacity="0.155"/><stop offset="0.36" stop-opacity="0.226"/><stop offset="0.43" stop-opacity="0.268"/><stop offset="0.50" stop-opacity="0.281"/><stop offset="0.57" stop-opacity="0.282"/><stop offset="0.64" stop-opacity="0.276"/><stop offset="0.71" stop-opacity="0.240"/><stop offset="0.79" stop-opacity="0.151"/><stop offset="0.86" stop-opacity="0.051"/><stop offset="0.93" stop-opacity="0.006"/><stop offset="1.00" stop-opacity="0.000"/></linearGradient><linearGradient id="s246" gradientUnits="userSpaceOnUse" x1="0" y1="240.0" x2="0" y2="343.3"><stop offset="0.00" stop-opacity="0.000"/><stop offset="0.07" stop-opacity="0.006"/><stop offset="0.14" stop-opacity="0.028"/><stop offset="0.21" stop-opacity="0.078"/><stop offset="0.29" stop-opacity="0.151"/><stop offset="0.36" stop-opacity="0.221"/><stop offset="0.43" stop-opacity="0.263"/><stop offset="0.50" stop-opacity="0.276"/><stop offset="0.57" stop-opacity="0.277"/><stop offset="0.64" stop-opacity="0.271"/><stop offset="0.71" stop-opacity="0.236"/><stop offset="0.79" stop-opacity="0.149"/><stop offset="0.86" stop-opacity="0.050"/><stop offset="0.93" stop-opacity="0.006"/><stop offset="1.00" stop-opacity="0.000"/></linearGradient><linearGradient id="s247" gradientUnits="userSpaceOnUse" x1="0" y1="239.7" x2="0" y2="342.4"><stop offset="0.00" stop-opacity="0.000"/><stop offset="0.07" stop-opacity="0.006"/><stop offset="0.14" stop-opacity="0.027"/><stop offset="0.21" stop-opacity="0.076"/><stop offset="0.29" stop-opacity="0.148"/><stop offset="0.36" stop-opacity="0.217"/><stop offset="0.43" stop-opacity="0.258"/><stop offset="0.50" stop-opacity="0.271"/><stop offset="0.57" stop-opacity="0.272"/><stop offset="0.64" stop-opacity="0.267"/><stop offset="0.71" stop-opacity="0.233"/><stop offset="0.79" stop-opacity="0.147"/><stop offset="0.86" stop-opacity="0.050"/><stop offset="0.93" stop-opacity="0.006"/><stop offset="1.00" stop-opacity="0.000"/></linearGradient><linearGradient id="s248" gradientUnits="userSpaceOnUse" x1="0" y1="239.3" x2="0" y2="341.4"><stop offset="0.00" stop-opacity="0.000"/><stop offset="0.07" stop-opacity="0.006"/><stop offset="0.14" stop-opacity="0.026"/><stop offset="0.21" stop-opacity="0.074"/><stop offset="0.29" stop-opacity="0.145"/><stop offset="0.36" stop-opacity="0.212"/><stop offset="0.43" stop-opacity="0.253"/><stop offset="0.50" stop-opacity="0.266"/><stop offset="0.57" stop-opacity="0.267"/><stop offset="0.64" stop-opacity="0.262"/><stop offset="0.71" stop-opacity="0.229"/><stop offset="0.79" stop-opacity="0.146"/><stop offset="0.86" stop-opacity="0.049"/><stop offset="0.93" stop-opacity="0.006"/><stop offset="1.00" stop-opacity="0.000"/></linearGradient><linearGradient id="s249" gradientUnits="userSpaceOnUse" x1="0" y1="239.0" x2="0" y2="340.5"><stop offset="0.00" stop-opacity="0.000"/><stop offset="0.07" stop-opacity="0.006"/><stop offset="0.14" stop-opacity="0.026"/><stop offset="0.21" stop-opacity="0.072"/><stop offset="0.29" stop-opacity="0.141"/><stop offset="0.36" stop-opacity="0.207"/><stop offset="0.43" stop-opacity="0.248"/><stop offset="0.50" stop-opacity="0.261"/><stop offset="0.57" stop-opacity="0.262"/><stop offset="0.64" stop-opacity="0.257"/><stop offset="0.71" stop-opacity="0.226"/><stop offset="0.79" stop-opacity="0.144"/><stop offset="0.86" stop-opacity="0.049"/><stop offset="0.93" stop-opacity="0.006"/><stop offset="1.00" stop-opacity="0.000"/></linearGradient><linearGradient id="s250" gradientUnits="userSpaceOnUse" x1="0" y1="238.6" x2="0" y2="339.6"><stop offset="0.00" stop-opacity="0.000"/><stop offset="0.07" stop-opacity="0.006"/><stop offset="0.14" stop-opacity="0.025"/><stop offset="0.21" stop-opacity="0.070"/><stop offset="0.29" stop-opacity="0.138"/><stop offset="0.36" stop-opacity="0.203"/><stop offset="0.43" stop-opacity="0.243"/><stop offset="0.50" stop-opacity="0.256"/><stop offset="0.57" stop-opacity="0.257"/><stop offset="0.64" stop-opacity="0.253"/><stop offset="0.71" stop-opacity="0.222"/><stop offset="0.79" stop-opacity="0.142"/><stop offset="0.86" stop-opacity="0.048"/><stop offset="0.93" stop-opacity="0.006"/><stop offset="1.00" stop-opacity="0.000"/></linearGradient><linearGradient id="s251" gradientUnits="userSpaceOnUse" x1="0" y1="238.3" x2="0" y2="338.7"><stop offset="0.00" stop-opacity="0.000"/><stop offset="0.07" stop-opacity="0.006"/><stop offset="0.14" stop-opacity="0.024"/><stop offset="0.21" stop-opacity="0.069"/><stop offset="0.29" stop-opacity="0.134"/><stop offset="0.36" stop-opacity="0.198"/><stop offset="0.43" stop-opacity="0.238"/><stop offset="0.50" stop-opacity="0.251"/><stop offset="0.57" stop-opacity="0.252"/><stop offset="0.64" stop-opacity="0.248"/><stop offset="0.71" stop-opacity="0.218"/><stop offset="0.79" stop-opacity="0.140"/><stop offset="0.86" stop-opacity="0.048"/><stop offset="0.93" stop-opacity="0.006"/><stop offset="1.00" stop-opacity="0.000"/></linearGradient><linearGradient id="s252" gradientUnits="userSpaceOnUse" x1="0" y1="238.0" x2="0" y2="337.8"><stop offset="0.00" stop-opacity="0.000"/><stop offset="0.07" stop-opacity="0.005"/><stop offset="0.14" stop-opacity="0.024"/><stop offset="0.21" stop-opacity="0.067"/><stop offset="0.29" stop-opacity="0.131"/><stop offset="0.36" stop-opacity="0.193"/><stop offset="0.43" stop-opacity="0.233"/><stop offset="0.50" stop-opacity="0.246"/><stop offset="0.57" stop-opacity="0.247"/><stop offset="0.64" stop-opacity="0.243"/><stop offset="0.71" stop-opacity="0.215"/><stop offset="0.79" stop-opacity="0.138"/><stop offset="0.86" stop-opacity="0.047"/><stop offset="0.93" stop-opacity="0.006"/><stop offset="1.00" stop-opacity="0.000"/></linearGradient><linearGradient id="s253" gradientUnits="userSpaceOnUse" x1="0" y1="237.6" x2="0" y2="336.9"><stop offset="0.00" stop-opacity="0.000"/><stop offset="0.07" stop-opacity="0.005"/><stop offset="0.14" stop-opacity="0.023"/><stop offset="0.21" stop-opacity="0.065"/><stop offset="0.29" stop-opacity="0.128"/><stop offset="0.36" stop-opacity="0.189"/><stop offset="0.43" stop-opacity="0.228"/><stop offset="0.50" stop-opacity="0.241"/><stop offset="0.57" stop-opacity="0.242"/><stop offset="0.64" stop-opacity="0.238"/><stop offset="0.71" stop-opacity="0.211"/><stop offset="0.79" stop-opacity="0.137"/><stop offset="0.86" stop-opacity="0.047"/><stop offset="0.93" stop-opacity="0.006"/><stop offset="1.00" stop-opacity="0.000"/></linearGradient><linearGradient id="s254" gradientUnits="userSpaceOnUse" x1="0" y1="237.3" x2="0" y2="336.0"><stop offset="0.00" stop-opacity="0.000"/><stop offset="0.07" stop-opacity="0.005"/><stop offset="0.14" stop-opacity="0.023"/><stop offset="0.21" stop-opacity="0.063"/><stop offset="0.29" stop-opacity="0.124"/><stop offset="0.36" stop-opacity="0.184"/><stop offset="0.43" stop-opacity="0.222"/><stop offset="0.50" stop-opacity="0.236"/><stop offset="0.57" stop-opacity="0.237"/><stop offset="0.64" stop-opacity="0.234"/><stop offset="0.71" stop-opacity="0.207"/><stop offset="0.79" stop-opacity="0.135"/><stop offset="0.86" stop-opacity="0.046"/><stop offset="0.93" stop-opacity="0.005"/><stop offset="1.00" stop-opacity="0.000"/></linearGradient><linearGradient id="s255" gradientUnits="userSpaceOnUse" x1="0" y1="236.9" x2="0" y2="335.0"><stop offset="0.00" stop-opacity="0.000"/><stop offset="0.07" stop-opacity="0.005"/><stop offset="0.14" stop-opacity="0.022"/><stop offset="0.21" stop-opacity="0.062"/><stop offset="0.29" stop-opacity="0.121"/><stop offset="0.36" stop-opacity="0.180"/><stop offset="0.43" stop-opacity="0.217"/><stop offset="0.50" stop-opacity="0.231"/><stop offset="0.57" stop-opacity="0.232"/><stop offset="0.64" stop-opacity="0.229"/><stop offset="0.71" stop-opacity="0.204"/><stop offset="0.79" stop-opacity="0.133"/><stop offset="0.86" stop-opacity="0.046"/><stop offset="0.93" stop-opacity="0.005"/><stop offset="1.00" stop-opacity="0.000"/></linearGradient><linearGradient id="s256" gradientUnits="userSpaceOnUse" x1="0" y1="236.6" x2="0" y2="334.1"><stop offset="0.00" stop-opacity="0.000"/><stop offset="0.07" stop-opacity="0.005"/><stop offset="0.14" stop-opacity="0.021"/><stop offset="0.21" stop-opacity="0.060"/><stop offset="0.29" stop-opacity="0.118"/><stop offset="0.36" stop-opacity="0.175"/><stop offset="0.43" stop-opacity="0.212"/><stop offset="0.50" stop-opacity="0.226"/><stop offset="0.57" stop-opacity="0.227"/><stop offset="0.64" stop-opacity="0.224"/><stop offset="0.71" stop-opacity="0.200"/><stop offset="0.79" stop-opacity="0.131"/><stop offset="0.86" stop-opacity="0.045"/><stop offset="0.93" stop-opacity="0.005"/><stop offset="1.00" stop-opacity="0.000"/></linearGradient><linearGradient id="s257" gradientUnits="userSpaceOnUse" x1="0" y1="236.2" x2="0" y2="333.2"><stop offset="0.00" stop-opacity="0.000"/><stop offset="0.07" stop-opacity="0.005"/><stop offset="0.14" stop-opacity="0.021"/><stop offset="0.21" stop-opacity="0.058"/><stop offset="0.29" stop-opacity="0.115"/><stop offset="0.36" stop-opacity="0.171"/><stop offset="0.43" stop-opacity="0.207"/><stop offset="0.50" stop-opacity="0.221"/><stop offset="0.57" stop-opacity="0.222"/><stop offset="0.64" stop-opacity="0.220"/><stop offset="0.71" stop-opacity="0.196"/><stop offset="0.79" stop-opacity="0.129"/><stop offset="0.86" stop-opacity="0.045"/><stop offset="0.93" stop-opacity="0.005"/><stop offset="1.00" stop-opacity="0.000"/></linearGradient><linearGradient id="s258" gradientUnits="userSpaceOnUse" x1="0" y1="236.0" x2="0" y2="332.5"><stop offset="0.00" stop-opacity="0.000"/><stop offset="0.07" stop-opacity="0.005"/><stop offset="0.14" stop-opacity="0.020"/><stop offset="0.21" stop-opacity="0.057"/><stop offset="0.29" stop-opacity="0.113"/><stop offset="0.36" stop-opacity="0.169"/><stop offset="0.43" stop-opacity="0.205"/><stop offset="0.50" stop-opacity="0.218"/><stop offset="0.57" stop-opacity="0.219"/><stop offset="0.64" stop-opacity="0.217"/><stop offset="0.71" stop-opacity="0.194"/><stop offset="0.79" stop-opacity="0.127"/><stop offset="0.86" stop-opacity="0.044"/><stop offset="0.93" stop-opacity="0.005"/><stop offset="1.00" stop-opacity="0.000"/></linearGradient><linearGradient id="s259" gradientUnits="userSpaceOnUse" x1="0" y1="235.8" x2="0" y2="332.0"><stop offset="0.00" stop-opacity="0.000"/><stop offset="0.07" stop-opacity="0.005"/><stop offset="0.14" stop-opacity="0.020"/><stop offset="0.21" stop-opacity="0.057"/><stop offset="0.29" stop-opacity="0.113"/><stop offset="0.36" stop-opacity="0.168"/><stop offset="0.43" stop-opacity="0.204"/><stop offset="0.50" stop-opacity="0.217"/><stop offset="0.57" stop-opacity="0.219"/><stop offset="0.64" stop-opacity="0.216"/><stop offset="0.71" stop-opacity="0.193"/><stop offset="0.79" stop-opacity="0.126"/><stop offset="0.86" stop-opacity="0.044"/><stop offset="0.93" stop-opacity="0.005"/><stop offset="1.00" stop-opacity="0.000"/></linearGradient><linearGradient id="s260" gradientUnits="userSpaceOnUse" x1="0" y1="235.6" x2="0" y2="331.4"><stop offset="0.00" stop-opacity="0.000"/><stop offset="0.07" stop-opacity="0.005"/><stop offset="0.14" stop-opacity="0.020"/><stop offset="0.21" stop-opacity="0.057"/><stop offset="0.29" stop-opacity="0.113"/><stop offset="0.36" stop-opacity="0.168"/><stop offset="0.43" stop-opacity="0.203"/><stop offset="0.50" stop-opacity="0.216"/><stop offset="0.57" stop-opacity="0.218"/><stop offset="0.64" stop-opacity="0.215"/><stop offset="0.71" stop-opacity="0.192"/><stop offset="0.79" stop-opacity="0.126"/><stop offset="0.86" stop-opacity="0.044"/><stop offset="0.93" stop-opacity="0.005"/><stop offset="1.00" stop-opacity="0.000"/></linearGradient><linearGradient id="s261" gradientUnits="userSpaceOnUse" x1="0" y1="235.4" x2="0" y2="330.9"><stop offset="0.00" stop-opacity="0.000"/><stop offset="0.07" stop-opacity="0.005"/><stop offset="0.14" stop-opacity="0.020"/><stop offset="0.21" stop-opacity="0.057"/><stop offset="0.29" stop-opacity="0.112"/><stop offset="0.36" stop-opacity="0.167"/><stop offset="0.43" stop-opacity="0.203"/><stop offset="0.50" stop-opacity="0.216"/><stop offset="0.57" stop-opacity="0.217"/><stop offset="0.64" stop-opacity="0.214"/><stop offset="0.71" stop-opacity="0.191"/><stop offset="0.79" stop-opacity="0.125"/><stop offset="0.86" stop-opacity="0.043"/><stop offset="0.93" stop-opacity="0.005"/><stop offset="1.00" stop-opacity="0.000"/></linearGradient><linearGradient id="s262" gradientUnits="userSpaceOnUse" x1="0" y1="235.2" x2="0" y2="330.3"><stop offset="0.00" stop-opacity="0.000"/><stop offset="0.07" stop-opacity="0.005"/><stop offset="0.14" stop-opacity="0.020"/><stop offset="0.21" stop-opacity="0.057"/><stop offset="0.29" stop-opacity="0.112"/><stop offset="0.36" stop-opacity="0.167"/><stop offset="0.43" stop-opacity="0.202"/><stop offset="0.50" stop-opacity="0.215"/><stop offset="0.57" stop-opacity="0.216"/><stop offset="0.64" stop-opacity="0.213"/><stop offset="0.71" stop-opacity="0.190"/><stop offset="0.79" stop-opacity="0.124"/><stop offset="0.86" stop-opacity="0.043"/><stop offset="0.93" stop-opacity="0.005"/><stop offset="1.00" stop-opacity="0.000"/></linearGradient><linearGradient id="s263" gradientUnits="userSpaceOnUse" x1="0" y1="235.1" x2="0" y2="329.8"><stop offset="0.00" stop-opacity="0.000"/><stop offset="0.07" stop-opacity="0.005"/><stop offset="0.14" stop-opacity="0.020"/><stop offset="0.21" stop-opacity="0.057"/><stop offset="0.29" stop-opacity="0.112"/><stop offset="0.36" stop-opacity="0.167"/><stop offset="0.43" stop-opacity="0.201"/><stop offset="0.50" stop-opacity="0.214"/><stop offset="0.57" stop-opacity="0.215"/><stop offset="0.64" stop-opacity="0.212"/><stop offset="0.71" stop-opacity="0.189"/><stop offset="0.79" stop-opacity="0.123"/><stop offset="0.86" stop-opacity="0.042"/><stop offset="0.93" stop-opacity="0.005"/><stop offset="1.00" stop-opacity="0.000"/></linearGradient><linearGradient id="s264" gradientUnits="userSpaceOnUse" x1="0" y1="234.9" x2="0" y2="329.2"><stop offset="0.00" stop-opacity="0.000"/><stop offset="0.07" stop-opacity="0.005"/><stop offset="0.14" stop-opacity="0.020"/><stop offset="0.21" stop-opacity="0.057"/><stop offset="0.29" stop-opacity="0.112"/><stop offset="0.36" stop-opacity="0.166"/><stop offset="0.43" stop-opacity="0.201"/><stop offset="0.50" stop-opacity="0.213"/><stop offset="0.57" stop-opacity="0.214"/><stop offset="0.64" stop-opacity="0.211"/><stop offset="0.71" stop-opacity="0.188"/><stop offset="0.79" stop-opacity="0.122"/><stop offset="0.86" stop-opacity="0.042"/><stop offset="0.93" stop-opacity="0.005"/><stop offset="1.00" stop-opacity="0.000"/></linearGradient><linearGradient id="s265" gradientUnits="userSpaceOnUse" x1="0" y1="234.7" x2="0" y2="328.7"><stop offset="0.00" stop-opacity="0.000"/><stop offset="0.07" stop-opacity="0.005"/><stop offset="0.14" stop-opacity="0.020"/><stop offset="0.21" stop-opacity="0.057"/><stop offset="0.29" stop-opacity="0.112"/><stop offset="0.36" stop-opacity="0.166"/><stop offset="0.43" stop-opacity="0.200"/><stop offset="0.50" stop-opacity="0.212"/><stop offset="0.57" stop-opacity="0.213"/><stop offset="0.64" stop-opacity="0.210"/><stop offset="0.71" stop-opacity="0.186"/><stop offset="0.79" stop-opacity="0.121"/><stop offset="0.86" stop-opacity="0.042"/><stop offset="0.93" stop-opacity="0.005"/><stop offset="1.00" stop-opacity="0.000"/></linearGradient><linearGradient id="s266" gradientUnits="userSpaceOnUse" x1="0" y1="234.5" x2="0" y2="328.1"><stop offset="0.00" stop-opacity="0.000"/><stop offset="0.07" stop-opacity="0.005"/><stop offset="0.14" stop-opacity="0.020"/><stop offset="0.21" stop-opacity="0.057"/><stop offset="0.29" stop-opacity="0.112"/><stop offset="0.36" stop-opacity="0.165"/><stop offset="0.43" stop-opacity="0.199"/><stop offset="0.50" stop-opacity="0.211"/><stop offset="0.57" stop-opacity="0.212"/><stop offset="0.64" stop-opacity="0.209"/><stop offset="0.71" stop-opacity="0.185"/><stop offset="0.79" stop-opacity="0.120"/><stop offset="0.86" stop-opacity="0.041"/><stop offset="0.93" stop-opacity="0.005"/><stop offset="1.00" stop-opacity="0.000"/></linearGradient><linearGradient id="s267" gradientUnits="userSpaceOnUse" x1="0" y1="234.3" x2="0" y2="327.6"><stop offset="0.00" stop-opacity="0.000"/><stop offset="0.07" stop-opacity="0.005"/><stop offset="0.14" stop-opacity="0.020"/><stop offset="0.21" stop-opacity="0.057"/><stop offset="0.29" stop-opacity="0.111"/><stop offset="0.36" stop-opacity="0.165"/><stop offset="0.43" stop-opacity="0.199"/><stop offset="0.50" stop-opacity="0.210"/><stop offset="0.57" stop-opacity="0.211"/><stop offset="0.64" stop-opacity="0.208"/><stop offset="0.71" stop-opacity="0.184"/><stop offset="0.79" stop-opacity="0.119"/><stop offset="0.86" stop-opacity="0.041"/><stop offset="0.93" stop-opacity="0.005"/><stop offset="1.00" stop-opacity="0.000"/></linearGradient><linearGradient id="s268" gradientUnits="userSpaceOnUse" x1="0" y1="234.2" x2="0" y2="327.0"><stop offset="0.00" stop-opacity="0.000"/><stop offset="0.07" stop-opacity="0.005"/><stop offset="0.14" stop-opacity="0.020"/><stop offset="0.21" stop-opacity="0.057"/><stop offset="0.29" stop-opacity="0.111"/><stop offset="0.36" stop-opacity="0.164"/><stop offset="0.43" stop-opacity="0.198"/><stop offset="0.50" stop-opacity="0.209"/><stop offset="0.57" stop-opacity="0.210"/><stop offset="0.64" stop-opacity="0.207"/><stop offset="0.71" stop-opacity="0.183"/><stop offset="0.79" stop-opacity="0.118"/><stop offset="0.86" stop-opacity="0.040"/><stop offset="0.93" stop-opacity="0.005"/><stop offset="1.00" stop-opacity="0.000"/></linearGradient><linearGradient id="s269" gradientUnits="userSpaceOnUse" x1="0" y1="234.0" x2="0" y2="326.5"><stop offset="0.00" stop-opacity="0.000"/><stop offset="0.07" stop-opacity="0.005"/><stop offset="0.14" stop-opacity="0.020"/><stop offset="0.21" stop-opacity="0.057"/><stop offset="0.29" stop-opacity="0.111"/><stop offset="0.36" stop-opacity="0.164"/><stop offset="0.43" stop-opacity="0.197"/><stop offset="0.50" stop-opacity="0.208"/><stop offset="0.57" stop-opacity="0.209"/><stop offset="0.64" stop-opacity="0.206"/><stop offset="0.71" stop-opacity="0.182"/><stop offset="0.79" stop-opacity="0.117"/><stop offset="0.86" stop-opacity="0.040"/><stop offset="0.93" stop-opacity="0.005"/><stop offset="1.00" stop-opacity="0.000"/></linearGradient><linearGradient id="s270" gradientUnits="userSpaceOnUse" x1="0" y1="233.8" x2="0" y2="325.9"><stop offset="0.00" stop-opacity="0.000"/><stop offset="0.07" stop-opacity="0.005"/><stop offset="0.14" stop-opacity="0.020"/><stop offset="0.21" stop-opacity="0.057"/><stop offset="0.29" stop-opacity="0.111"/><stop offset="0.36" stop-opacity="0.163"/><stop offset="0.43" stop-opacity="0.196"/><stop offset="0.50" stop-opacity="0.208"/><stop offset="0.57" stop-opacity="0.208"/><stop offset="0.64" stop-opacity="0.205"/><stop offset="0.71" stop-opacity="0.181"/><stop offset="0.79" stop-opacity="0.116"/><stop offset="0.86" stop-opacity="0.040"/><stop offset="0.93" stop-opacity="0.005"/><stop offset="1.00" stop-opacity="0.000"/></linearGradient><linearGradient id="s271" gradientUnits="userSpaceOnUse" x1="0" y1="233.6" x2="0" y2="325.4"><stop offset="0.00" stop-opacity="0.000"/><stop offset="0.07" stop-opacity="0.005"/><stop offset="0.14" stop-opacity="0.020"/><stop offset="0.21" stop-opacity="0.056"/><stop offset="0.29" stop-opacity="0.111"/><stop offset="0.36" stop-opacity="0.163"/><stop offset="0.43" stop-opacity="0.196"/><stop offset="0.50" stop-opacity="0.207"/><stop offset="0.57" stop-opacity="0.207"/><stop offset="0.64" stop-opacity="0.204"/><stop offset="0.71" stop-opacity="0.180"/><stop offset="0.79" stop-opacity="0.116"/><stop offset="0.86" stop-opacity="0.039"/><stop offset="0.93" stop-opacity="0.005"/><stop offset="1.00" stop-opacity="0.000"/></linearGradient><linearGradient id="s272" gradientUnits="userSpaceOnUse" x1="0" y1="233.4" x2="0" y2="324.8"><stop offset="0.00" stop-opacity="0.000"/><stop offset="0.07" stop-opacity="0.005"/><stop offset="0.14" stop-opacity="0.020"/><stop offset="0.21" stop-opacity="0.056"/><stop offset="0.29" stop-opacity="0.110"/><stop offset="0.36" stop-opacity="0.163"/><stop offset="0.43" stop-opacity="0.195"/><stop offset="0.50" stop-opacity="0.206"/><stop offset="0.57" stop-opacity="0.206"/><stop offset="0.64" stop-opacity="0.203"/><stop offset="0.71" stop-opacity="0.179"/><stop offset="0.79" stop-opacity="0.115"/><stop offset="0.86" stop-opacity="0.039"/><stop offset="0.93" stop-opacity="0.005"/><stop offset="1.00" stop-opacity="0.000"/></linearGradient><linearGradient id="s273" gradientUnits="userSpaceOnUse" x1="0" y1="233.2" x2="0" y2="324.3"><stop offset="0.00" stop-opacity="0.000"/><stop offset="0.07" stop-opacity="0.005"/><stop offset="0.14" stop-opacity="0.020"/><stop offset="0.21" stop-opacity="0.056"/><stop offset="0.29" stop-opacity="0.110"/><stop offset="0.36" stop-opacity="0.162"/><stop offset="0.43" stop-opacity="0.194"/><stop offset="0.50" stop-opacity="0.205"/><stop offset="0.57" stop-opacity="0.205"/><stop offset="0.64" stop-opacity="0.202"/><stop offset="0.71" stop-opacity="0.178"/><stop offset="0.79" stop-opacity="0.114"/><stop offset="0.86" stop-opacity="0.039"/><stop offset="0.93" stop-opacity="0.005"/><stop offset="1.00" stop-opacity="0.000"/></linearGradient><linearGradient id="s274" gradientUnits="userSpaceOnUse" x1="0" y1="233.1" x2="0" y2="323.7"><stop offset="0.00" stop-opacity="0.000"/><stop offset="0.07" stop-opacity="0.005"/><stop offset="0.14" stop-opacity="0.020"/><stop offset="0.21" stop-opacity="0.056"/><stop offset="0.29" stop-opacity="0.110"/><stop offset="0.36" stop-opacity="0.162"/><stop offset="0.43" stop-opacity="0.194"/><stop offset="0.50" stop-opacity="0.204"/><stop offset="0.57" stop-opacity="0.205"/><stop offset="0.64" stop-opacity="0.201"/><stop offset="0.71" stop-opacity="0.177"/><stop offset="0.79" stop-opacity="0.113"/><stop offset="0.86" stop-opacity="0.038"/><stop offset="0.93" stop-opacity="0.005"/><stop offset="1.00" stop-opacity="0.000"/></linearGradient><linearGradient id="s275" gradientUnits="userSpaceOnUse" x1="0" y1="232.9" x2="0" y2="323.2"><stop offset="0.00" stop-opacity="0.000"/><stop offset="0.07" stop-opacity="0.005"/><stop offset="0.14" stop-opacity="0.020"/><stop offset="0.21" stop-opacity="0.056"/><stop offset="0.29" stop-opacity="0.110"/><stop offset="0.36" stop-opacity="0.161"/><stop offset="0.43" stop-opacity="0.193"/><stop offset="0.50" stop-opacity="0.203"/><stop offset="0.57" stop-opacity="0.204"/><stop offset="0.64" stop-opacity="0.200"/><stop offset="0.71" stop-opacity="0.176"/><stop offset="0.79" stop-opacity="0.112"/><stop offset="0.86" stop-opacity="0.038"/><stop offset="0.93" stop-opacity="0.004"/><stop offset="1.00" stop-opacity="0.000"/></linearGradient><linearGradient id="s276" gradientUnits="userSpaceOnUse" x1="0" y1="232.7" x2="0" y2="322.6"><stop offset="0.00" stop-opacity="0.000"/><stop offset="0.07" stop-opacity="0.005"/><stop offset="0.14" stop-opacity="0.020"/><stop offset="0.21" stop-opacity="0.056"/><stop offset="0.29" stop-opacity="0.110"/><stop offset="0.36" stop-opacity="0.161"/><stop offset="0.43" stop-opacity="0.192"/><stop offset="0.50" stop-opacity="0.202"/><stop offset="0.57" stop-opacity="0.203"/><stop offset="0.64" stop-opacity="0.199"/><stop offset="0.71" stop-opacity="0.174"/><stop offset="0.79" stop-opacity="0.111"/><stop offset="0.86" stop-opacity="0.038"/><stop offset="0.93" stop-opacity="0.004"/><stop offset="1.00" stop-opacity="0.000"/></linearGradient><linearGradient id="s277" gradientUnits="userSpaceOnUse" x1="0" y1="232.5" x2="0" y2="322.1"><stop offset="0.00" stop-opacity="0.000"/><stop offset="0.07" stop-opacity="0.005"/><stop offset="0.14" stop-opacity="0.020"/><stop offset="0.21" stop-opacity="0.056"/><stop offset="0.29" stop-opacity="0.109"/><stop offset="0.36" stop-opacity="0.160"/><stop offset="0.43" stop-opacity="0.191"/><stop offset="0.50" stop-opacity="0.201"/><stop offset="0.57" stop-opacity="0.202"/><stop offset="0.64" stop-opacity="0.198"/><stop offset="0.71" stop-opacity="0.173"/><stop offset="0.79" stop-opacity="0.110"/><stop offset="0.86" stop-opacity="0.037"/><stop offset="0.93" stop-opacity="0.004"/><stop offset="1.00" stop-opacity="0.000"/></linearGradient><linearGradient id="s278" gradientUnits="userSpaceOnUse" x1="0" y1="232.3" x2="0" y2="321.5"><stop offset="0.00" stop-opacity="0.000"/><stop offset="0.07" stop-opacity="0.005"/><stop offset="0.14" stop-opacity="0.020"/><stop offset="0.21" stop-opacity="0.056"/><stop offset="0.29" stop-opacity="0.109"/><stop offset="0.36" stop-opacity="0.160"/><stop offset="0.43" stop-opacity="0.191"/><stop offset="0.50" stop-opacity="0.200"/><stop offset="0.57" stop-opacity="0.201"/><stop offset="0.64" stop-opacity="0.197"/><stop offset="0.71" stop-opacity="0.172"/><stop offset="0.79" stop-opacity="0.109"/><stop offset="0.86" stop-opacity="0.037"/><stop offset="0.93" stop-opacity="0.004"/><stop offset="1.00" stop-opacity="0.000"/></linearGradient><linearGradient id="s279" gradientUnits="userSpaceOnUse" x1="0" y1="232.1" x2="0" y2="321.0"><stop offset="0.00" stop-opacity="0.000"/><stop offset="0.07" stop-opacity="0.005"/><stop offset="0.14" stop-opacity="0.020"/><stop offset="0.21" stop-opacity="0.056"/><stop offset="0.29" stop-opacity="0.109"/><stop offset="0.36" stop-opacity="0.160"/><stop offset="0.43" stop-opacity="0.190"/><stop offset="0.50" stop-opacity="0.199"/><stop offset="0.57" stop-opacity="0.200"/><stop offset="0.64" stop-opacity="0.196"/><stop offset="0.71" stop-opacity="0.171"/><stop offset="0.79" stop-opacity="0.108"/><stop offset="0.86" stop-opacity="0.036"/><stop offset="0.93" stop-opacity="0.004"/><stop offset="1.00" stop-opacity="0.000"/></linearGradient><linearGradient id="s280" gradientUnits="userSpaceOnUse" x1="0" y1="232.0" x2="0" y2="320.4"><stop offset="0.00" stop-opacity="0.000"/><stop offset="0.07" stop-opacity="0.005"/><stop offset="0.14" stop-opacity="0.020"/><stop offset="0.21" stop-opacity="0.056"/><stop offset="0.29" stop-opacity="0.109"/><stop offset="0.36" stop-opacity="0.159"/><stop offset="0.43" stop-opacity="0.189"/><stop offset="0.50" stop-opacity="0.199"/><stop offset="0.57" stop-opacity="0.199"/><stop offset="0.64" stop-opacity="0.195"/><stop offset="0.71" stop-opacity="0.170"/><stop offset="0.79" stop-opacity="0.107"/><stop offset="0.86" stop-opacity="0.036"/><stop offset="0.93" stop-opacity="0.004"/><stop offset="1.00" stop-opacity="0.000"/></linearGradient><linearGradient id="s281" gradientUnits="userSpaceOnUse" x1="0" y1="231.8" x2="0" y2="319.9"><stop offset="0.00" stop-opacity="0.000"/><stop offset="0.07" stop-opacity="0.005"/><stop offset="0.14" stop-opacity="0.020"/><stop offset="0.21" stop-opacity="0.056"/><stop offset="0.29" stop-opacity="0.109"/><stop offset="0.36" stop-opacity="0.159"/><stop offset="0.43" stop-opacity="0.188"/><stop offset="0.50" stop-opacity="0.198"/><stop offset="0.57" stop-opacity="0.198"/><stop offset="0.64" stop-opacity="0.194"/><stop offset="0.71" stop-opacity="0.169"/><stop offset="0.79" stop-opacity="0.107"/><stop offset="0.86" stop-opacity="0.036"/><stop offset="0.93" stop-opacity="0.004"/><stop offset="1.00" stop-opacity="0.000"/></linearGradient><linearGradient id="s282" gradientUnits="userSpaceOnUse" x1="0" y1="231.6" x2="0" y2="319.3"><stop offset="0.00" stop-opacity="0.000"/><stop offset="0.07" stop-opacity="0.004"/><stop offset="0.14" stop-opacity="0.020"/><stop offset="0.21" stop-opacity="0.056"/><stop offset="0.29" stop-opacity="0.108"/><stop offset="0.36" stop-opacity="0.158"/><stop offset="0.43" stop-opacity="0.188"/><stop offset="0.50" stop-opacity="0.197"/><stop offset="0.57" stop-opacity="0.197"/><stop offset="0.64" stop-opacity="0.193"/><stop offset="0.71" stop-opacity="0.168"/><stop offset="0.79" stop-opacity="0.106"/><stop offset="0.86" stop-opacity="0.035"/><stop offset="0.93" stop-opacity="0.004"/><stop offset="1.00" stop-opacity="0.000"/></linearGradient><linearGradient id="s283" gradientUnits="userSpaceOnUse" x1="0" y1="231.4" x2="0" y2="318.8"><stop offset="0.00" stop-opacity="0.000"/><stop offset="0.07" stop-opacity="0.004"/><stop offset="0.14" stop-opacity="0.020"/><stop offset="0.21" stop-opacity="0.056"/><stop offset="0.29" stop-opacity="0.108"/><stop offset="0.36" stop-opacity="0.158"/><stop offset="0.43" stop-opacity="0.187"/><stop offset="0.50" stop-opacity="0.196"/><stop offset="0.57" stop-opacity="0.196"/><stop offset="0.64" stop-opacity="0.192"/><stop offset="0.71" stop-opacity="0.167"/><stop offset="0.79" stop-opacity="0.105"/><stop offset="0.86" stop-opacity="0.035"/><stop offset="0.93" stop-opacity="0.004"/><stop offset="1.00" stop-opacity="0.000"/></linearGradient><linearGradient id="s284" gradientUnits="userSpaceOnUse" x1="0" y1="231.2" x2="0" y2="318.2"><stop offset="0.00" stop-opacity="0.000"/><stop offset="0.07" stop-opacity="0.004"/><stop offset="0.14" stop-opacity="0.020"/><stop offset="0.21" stop-opacity="0.056"/><stop offset="0.29" stop-opacity="0.108"/><stop offset="0.36" stop-opacity="0.157"/><stop offset="0.43" stop-opacity="0.186"/><stop offset="0.50" stop-opacity="0.195"/><stop offset="0.57" stop-opacity="0.195"/><stop offset="0.64" stop-opacity="0.191"/><stop offset="0.71" stop-opacity="0.166"/><stop offset="0.79" stop-opacity="0.104"/><stop offset="0.86" stop-opacity="0.035"/><stop offset="0.93" stop-opacity="0.004"/><stop offset="1.00" stop-opacity="0.000"/></linearGradient><linearGradient id="s285" gradientUnits="userSpaceOnUse" x1="0" y1="231.1" x2="0" y2="317.7"><stop offset="0.00" stop-opacity="0.000"/><stop offset="0.07" stop-opacity="0.004"/><stop offset="0.14" stop-opacity="0.020"/><stop offset="0.21" stop-opacity="0.056"/><stop offset="0.29" stop-opacity="0.108"/><stop offset="0.36" stop-opacity="0.157"/><stop offset="0.43" stop-opacity="0.186"/><stop offset="0.50" stop-opacity="0.194"/><stop offset="0.57" stop-opacity="0.194"/><stop offset="0.64" stop-opacity="0.190"/><stop offset="0.71" stop-opacity="0.165"/><stop offset="0.79" stop-opacity="0.103"/><stop offset="0.86" stop-opacity="0.034"/><stop offset="0.93" stop-opacity="0.004"/><stop offset="1.00" stop-opacity="0.000"/></linearGradient><linearGradient id="s286" gradientUnits="userSpaceOnUse" x1="0" y1="230.9" x2="0" y2="317.1"><stop offset="0.00" stop-opacity="0.000"/><stop offset="0.07" stop-opacity="0.004"/><stop offset="0.14" stop-opacity="0.020"/><stop offset="0.21" stop-opacity="0.056"/><stop offset="0.29" stop-opacity="0.108"/><stop offset="0.36" stop-opacity="0.156"/><stop offset="0.43" stop-opacity="0.185"/><stop offset="0.50" stop-opacity="0.193"/><stop offset="0.57" stop-opacity="0.193"/><stop offset="0.64" stop-opacity="0.189"/><stop offset="0.71" stop-opacity="0.164"/><stop offset="0.79" stop-opacity="0.102"/><stop offset="0.86" stop-opacity="0.034"/><stop offset="0.93" stop-opacity="0.004"/><stop offset="1.00" stop-opacity="0.000"/></linearGradient><linearGradient id="s287" gradientUnits="userSpaceOnUse" x1="0" y1="230.7" x2="0" y2="316.6"><stop offset="0.00" stop-opacity="0.000"/><stop offset="0.07" stop-opacity="0.004"/><stop offset="0.14" stop-opacity="0.020"/><stop offset="0.21" stop-opacity="0.055"/><stop offset="0.29" stop-opacity="0.108"/><stop offset="0.36" stop-opacity="0.156"/><stop offset="0.43" stop-opacity="0.184"/><stop offset="0.50" stop-opacity="0.192"/><stop offset="0.57" stop-opacity="0.192"/><stop offset="0.64" stop-opacity="0.188"/><stop offset="0.71" stop-opacity="0.162"/><stop offset="0.79" stop-opacity="0.101"/><stop offset="0.86" stop-opacity="0.034"/><stop offset="0.93" stop-opacity="0.004"/><stop offset="1.00" stop-opacity="0.000"/></linearGradient><linearGradient id="s288" gradientUnits="userSpaceOnUse" x1="0" y1="230.5" x2="0" y2="316.0"><stop offset="0.00" stop-opacity="0.000"/><stop offset="0.07" stop-opacity="0.004"/><stop offset="0.14" stop-opacity="0.020"/><stop offset="0.21" stop-opacity="0.055"/><stop offset="0.29" stop-opacity="0.107"/><stop offset="0.36" stop-opacity="0.156"/><stop offset="0.43" stop-opacity="0.183"/><stop offset="0.50" stop-opacity="0.191"/><stop offset="0.57" stop-opacity="0.191"/><stop offset="0.64" stop-opacity="0.187"/><stop offset="0.71" stop-opacity="0.161"/><stop offset="0.79" stop-opacity="0.100"/><stop offset="0.86" stop-opacity="0.033"/><stop offset="0.93" stop-opacity="0.004"/><stop offset="1.00" stop-opacity="0.000"/></linearGradient><linearGradient id="s289" gradientUnits="userSpaceOnUse" x1="0" y1="230.3" x2="0" y2="315.5"><stop offset="0.00" stop-opacity="0.000"/><stop offset="0.07" stop-opacity="0.004"/><stop offset="0.14" stop-opacity="0.020"/><stop offset="0.21" stop-opacity="0.055"/><stop offset="0.29" stop-opacity="0.107"/><stop offset="0.36" stop-opacity="0.155"/><stop offset="0.43" stop-opacity="0.183"/><stop offset="0.50" stop-opacity="0.190"/><stop offset="0.57" stop-opacity="0.191"/><stop offset="0.64" stop-opacity="0.186"/><stop offset="0.71" stop-opacity="0.160"/><stop offset="0.79" stop-opacity="0.099"/><stop offset="0.86" stop-opacity="0.033"/><stop offset="0.93" stop-opacity="0.004"/><stop offset="1.00" stop-opacity="0.000"/></linearGradient><linearGradient id="s290" gradientUnits="userSpaceOnUse" x1="0" y1="230.1" x2="0" y2="314.9"><stop offset="0.00" stop-opacity="0.000"/><stop offset="0.07" stop-opacity="0.004"/><stop offset="0.14" stop-opacity="0.020"/><stop offset="0.21" stop-opacity="0.055"/><stop offset="0.29" stop-opacity="0.107"/><stop offset="0.36" stop-opacity="0.155"/><stop offset="0.43" stop-opacity="0.182"/><stop offset="0.50" stop-opacity="0.189"/><stop offset="0.57" stop-opacity="0.190"/><stop offset="0.64" stop-opacity="0.185"/><stop offset="0.71" stop-opacity="0.159"/><stop offset="0.79" stop-opacity="0.099"/><stop offset="0.86" stop-opacity="0.033"/><stop offset="0.93" stop-opacity="0.004"/><stop offset="1.00" stop-opacity="0.000"/></linearGradient><linearGradient id="s291" gradientUnits="userSpaceOnUse" x1="0" y1="230.0" x2="0" y2="314.4"><stop offset="0.00" stop-opacity="0.000"/><stop offset="0.07" stop-opacity="0.004"/><stop offset="0.14" stop-opacity="0.020"/><stop offset="0.21" stop-opacity="0.055"/><stop offset="0.29" stop-opacity="0.107"/><stop offset="0.36" stop-opacity="0.154"/><stop offset="0.43" stop-opacity="0.181"/><stop offset="0.50" stop-opacity="0.189"/><stop offset="0.57" stop-opacity="0.189"/><stop offset="0.64" stop-opacity="0.184"/><stop offset="0.71" stop-opacity="0.158"/><stop offset="0.79" stop-opacity="0.098"/><stop offset="0.86" stop-opacity="0.032"/><stop offset="0.93" stop-opacity="0.004"/><stop offset="1.00" stop-opacity="0.000"/></linearGradient><linearGradient id="s292" gradientUnits="userSpaceOnUse" x1="0" y1="229.8" x2="0" y2="313.8"><stop offset="0.00" stop-opacity="0.000"/><stop offset="0.07" stop-opacity="0.004"/><stop offset="0.14" stop-opacity="0.020"/><stop offset="0.21" stop-opacity="0.055"/><stop offset="0.29" stop-opacity="0.107"/><stop offset="0.36" stop-opacity="0.154"/><stop offset="0.43" stop-opacity="0.180"/><stop offset="0.50" stop-opacity="0.188"/><stop offset="0.57" stop-opacity="0.188"/><stop offset="0.64" stop-opacity="0.183"/><stop offset="0.71" stop-opacity="0.157"/><stop offset="0.79" stop-opacity="0.097"/><stop offset="0.86" stop-opacity="0.032"/><stop offset="0.93" stop-opacity="0.004"/><stop offset="1.00" stop-opacity="0.000"/></linearGradient><linearGradient id="s293" gradientUnits="userSpaceOnUse" x1="0" y1="229.6" x2="0" y2="313.3"><stop offset="0.00" stop-opacity="0.000"/><stop offset="0.07" stop-opacity="0.004"/><stop offset="0.14" stop-opacity="0.020"/><stop offset="0.21" stop-opacity="0.055"/><stop offset="0.29" stop-opacity="0.106"/><stop offset="0.36" stop-opacity="0.153"/><stop offset="0.43" stop-opacity="0.180"/><stop offset="0.50" stop-opacity="0.187"/><stop offset="0.57" stop-opacity="0.187"/><stop offset="0.64" stop-opacity="0.182"/><stop offset="0.71" stop-opacity="0.156"/><stop offset="0.79" stop-opacity="0.096"/><stop offset="0.86" stop-opacity="0.032"/><stop offset="0.93" stop-opacity="0.004"/><stop offset="1.00" stop-opacity="0.000"/></linearGradient><linearGradient id="s294" gradientUnits="userSpaceOnUse" x1="0" y1="229.4" x2="0" y2="312.7"><stop offset="0.00" stop-opacity="0.000"/><stop offset="0.07" stop-opacity="0.004"/><stop offset="0.14" stop-opacity="0.020"/><stop offset="0.21" stop-opacity="0.055"/><stop offset="0.29" stop-opacity="0.106"/><stop offset="0.36" stop-opacity="0.153"/><stop offset="0.43" stop-opacity="0.179"/><stop offset="0.50" stop-opacity="0.186"/><stop offset="0.57" stop-opacity="0.186"/><stop offset="0.64" stop-opacity="0.181"/><stop offset="0.71" stop-opacity="0.155"/><stop offset="0.79" stop-opacity="0.095"/><stop offset="0.86" stop-opacity="0.031"/><stop offset="0.93" stop-opacity="0.004"/><stop offset="1.00" stop-opacity="0.000"/></linearGradient><linearGradient id="s295" gradientUnits="userSpaceOnUse" x1="0" y1="229.2" x2="0" y2="312.2"><stop offset="0.00" stop-opacity="0.000"/><stop offset="0.07" stop-opacity="0.004"/><stop offset="0.14" stop-opacity="0.020"/><stop offset="0.21" stop-opacity="0.055"/><stop offset="0.29" stop-opacity="0.106"/><stop offset="0.36" stop-opacity="0.152"/><stop offset="0.43" stop-opacity="0.178"/><stop offset="0.50" stop-opacity="0.185"/><stop offset="0.57" stop-opacity="0.185"/><stop offset="0.64" stop-opacity="0.180"/><stop offset="0.71" stop-opacity="0.154"/><stop offset="0.79" stop-opacity="0.094"/><stop offset="0.86" stop-opacity="0.031"/><stop offset="0.93" stop-opacity="0.004"/><stop offset="1.00" stop-opacity="0.000"/></linearGradient><linearGradient id="s296" gradientUnits="userSpaceOnUse" x1="0" y1="229.0" x2="0" y2="311.6"><stop offset="0.00" stop-opacity="0.000"/><stop offset="0.07" stop-opacity="0.004"/><stop offset="0.14" stop-opacity="0.020"/><stop offset="0.21" stop-opacity="0.055"/><stop offset="0.29" stop-opacity="0.106"/><stop offset="0.36" stop-opacity="0.152"/><stop offset="0.43" stop-opacity="0.177"/><stop offset="0.50" stop-opacity="0.184"/><stop offset="0.57" stop-opacity="0.184"/><stop offset="0.64" stop-opacity="0.179"/><stop offset="0.71" stop-opacity="0.153"/><stop offset="0.79" stop-opacity="0.093"/><stop offset="0.86" stop-opacity="0.031"/><stop offset="0.93" stop-opacity="0.004"/><stop offset="1.00" stop-opacity="0.000"/></linearGradient><linearGradient id="s297" gradientUnits="userSpaceOnUse" x1="0" y1="228.9" x2="0" y2="311.1"><stop offset="0.00" stop-opacity="0.000"/><stop offset="0.07" stop-opacity="0.004"/><stop offset="0.14" stop-opacity="0.020"/><stop offset="0.21" stop-opacity="0.055"/><stop offset="0.29" stop-opacity="0.106"/><stop offset="0.36" stop-opacity="0.151"/><stop offset="0.43" stop-opacity="0.177"/><stop offset="0.50" stop-opacity="0.183"/><stop offset="0.57" stop-opacity="0.183"/><stop offset="0.64" stop-opacity="0.178"/><stop offset="0.71" stop-opacity="0.152"/><stop offset="0.79" stop-opacity="0.092"/><stop offset="0.86" stop-opacity="0.030"/><stop offset="0.93" stop-opacity="0.004"/><stop offset="1.00" stop-opacity="0.000"/></linearGradient><linearGradient id="s298" gradientUnits="userSpaceOnUse" x1="0" y1="228.7" x2="0" y2="310.5"><stop offset="0.00" stop-opacity="0.000"/><stop offset="0.07" stop-opacity="0.004"/><stop offset="0.14" stop-opacity="0.020"/><stop offset="0.21" stop-opacity="0.055"/><stop offset="0.29" stop-opacity="0.106"/><stop offset="0.36" stop-opacity="0.151"/><stop offset="0.43" stop-opacity="0.176"/><stop offset="0.50" stop-opacity="0.182"/><stop offset="0.57" stop-opacity="0.182"/><stop offset="0.64" stop-opacity="0.177"/><stop offset="0.71" stop-opacity="0.150"/><stop offset="0.79" stop-opacity="0.092"/><stop offset="0.86" stop-opacity="0.030"/><stop offset="0.93" stop-opacity="0.004"/><stop offset="1.00" stop-opacity="0.000"/></linearGradient><linearGradient id="s299" gradientUnits="userSpaceOnUse" x1="0" y1="228.5" x2="0" y2="310.0"><stop offset="0.00" stop-opacity="0.000"/><stop offset="0.07" stop-opacity="0.004"/><stop offset="0.14" stop-opacity="0.020"/><stop offset="0.21" stop-opacity="0.055"/><stop offset="0.29" stop-opacity="0.105"/><stop offset="0.36" stop-opacity="0.151"/><stop offset="0.43" stop-opacity="0.175"/><stop offset="0.50" stop-opacity="0.181"/><stop offset="0.57" stop-opacity="0.181"/><stop offset="0.64" stop-opacity="0.176"/><stop offset="0.71" stop-opacity="0.149"/><stop offset="0.79" stop-opacity="0.091"/><stop offset="0.86" stop-opacity="0.030"/><stop offset="0.93" stop-opacity="0.004"/><stop offset="1.00" stop-opacity="0.000"/></linearGradient><linearGradient id="s300" gradientUnits="userSpaceOnUse" x1="0" y1="228.3" x2="0" y2="309.4"><stop offset="0.00" stop-opacity="0.000"/><stop offset="0.07" stop-opacity="0.004"/><stop offset="0.14" stop-opacity="0.020"/><stop offset="0.21" stop-opacity="0.055"/><stop offset="0.29" stop-opacity="0.105"/><stop offset="0.36" stop-opacity="0.150"/><stop offset="0.43" stop-opacity="0.174"/><stop offset="0.50" stop-opacity="0.180"/><stop offset="0.57" stop-opacity="0.180"/><stop offset="0.64" stop-opacity="0.175"/><stop offset="0.71" stop-opacity="0.148"/><stop offset="0.79" stop-opacity="0.090"/><stop offset="0.86" stop-opacity="0.029"/><stop offset="0.93" stop-opacity="0.003"/><stop offset="1.00" stop-opacity="0.000"/></linearGradient><linearGradient id="s301" gradientUnits="userSpaceOnUse" x1="0" y1="228.1" x2="0" y2="308.9"><stop offset="0.00" stop-opacity="0.000"/><stop offset="0.07" stop-opacity="0.004"/><stop offset="0.14" stop-opacity="0.019"/><stop offset="0.21" stop-opacity="0.055"/><stop offset="0.29" stop-opacity="0.105"/><stop offset="0.36" stop-opacity="0.150"/><stop offset="0.43" stop-opacity="0.174"/><stop offset="0.50" stop-opacity="0.179"/><stop offset="0.57" stop-opacity="0.179"/><stop offset="0.64" stop-opacity="0.174"/><stop offset="0.71" stop-opacity="0.147"/><stop offset="0.79" stop-opacity="0.089"/><stop offset="0.86" stop-opacity="0.029"/><stop offset="0.93" stop-opacity="0.003"/><stop offset="1.00" stop-opacity="0.000"/></linearGradient><linearGradient id="s302" gradientUnits="userSpaceOnUse" x1="0" y1="228.0" x2="0" y2="308.3"><stop offset="0.00" stop-opacity="0.000"/><stop offset="0.07" stop-opacity="0.004"/><stop offset="0.14" stop-opacity="0.019"/><stop offset="0.21" stop-opacity="0.055"/><stop offset="0.29" stop-opacity="0.105"/><stop offset="0.36" stop-opacity="0.149"/><stop offset="0.43" stop-opacity="0.173"/><stop offset="0.50" stop-opacity="0.178"/><stop offset="0.57" stop-opacity="0.178"/><stop offset="0.64" stop-opacity="0.173"/><stop offset="0.71" stop-opacity="0.146"/><stop offset="0.79" stop-opacity="0.088"/><stop offset="0.86" stop-opacity="0.029"/><stop offset="0.93" stop-opacity="0.003"/><stop offset="1.00" stop-opacity="0.000"/></linearGradient><linearGradient id="s303" gradientUnits="userSpaceOnUse" x1="0" y1="227.8" x2="0" y2="307.8"><stop offset="0.00" stop-opacity="0.000"/><stop offset="0.07" stop-opacity="0.004"/><stop offset="0.14" stop-opacity="0.019"/><stop offset="0.21" stop-opacity="0.055"/><stop offset="0.29" stop-opacity="0.105"/><stop offset="0.36" stop-opacity="0.149"/><stop offset="0.43" stop-opacity="0.172"/><stop offset="0.50" stop-opacity="0.177"/><stop offset="0.57" stop-opacity="0.177"/><stop offset="0.64" stop-opacity="0.172"/><stop offset="0.71" stop-opacity="0.145"/><stop offset="0.79" stop-opacity="0.087"/><stop offset="0.86" stop-opacity="0.028"/><stop offset="0.93" stop-opacity="0.003"/><stop offset="1.00" stop-opacity="0.000"/></linearGradient><linearGradient id="s304" gradientUnits="userSpaceOnUse" x1="0" y1="227.6" x2="0" y2="307.2"><stop offset="0.00" stop-opacity="0.000"/><stop offset="0.07" stop-opacity="0.004"/><stop offset="0.14" stop-opacity="0.019"/><stop offset="0.21" stop-opacity="0.055"/><stop offset="0.29" stop-opacity="0.104"/><stop offset="0.36" stop-opacity="0.148"/><stop offset="0.43" stop-opacity="0.171"/><stop offset="0.50" stop-opacity="0.177"/><stop offset="0.57" stop-opacity="0.176"/><stop offset="0.64" stop-opacity="0.171"/><stop offset="0.71" stop-opacity="0.144"/><stop offset="0.79" stop-opacity="0.086"/><stop offset="0.86" stop-opacity="0.028"/><stop offset="0.93" stop-opacity="0.003"/><stop offset="1.00" stop-opacity="0.000"/></linearGradient><linearGradient id="s305" gradientUnits="userSpaceOnUse" x1="0" y1="227.4" x2="0" y2="306.7"><stop offset="0.00" stop-opacity="0.000"/><stop offset="0.07" stop-opacity="0.004"/><stop offset="0.14" stop-opacity="0.019"/><stop offset="0.21" stop-opacity="0.055"/><stop offset="0.29" stop-opacity="0.104"/><stop offset="0.36" stop-opacity="0.148"/><stop offset="0.43" stop-opacity="0.171"/><stop offset="0.50" stop-opacity="0.176"/><stop offset="0.57" stop-opacity="0.175"/><stop offset="0.64" stop-opacity="0.170"/><stop offset="0.71" stop-opacity="0.143"/><stop offset="0.79" stop-opacity="0.086"/><stop offset="0.86" stop-opacity="0.028"/><stop offset="0.93" stop-opacity="0.003"/><stop offset="1.00" stop-opacity="0.000"/></linearGradient><linearGradient id="s306" gradientUnits="userSpaceOnUse" x1="0" y1="227.2" x2="0" y2="306.1"><stop offset="0.00" stop-opacity="0.000"/><stop offset="0.07" stop-opacity="0.004"/><stop offset="0.14" stop-opacity="0.019"/><stop offset="0.21" stop-opacity="0.055"/><stop offset="0.29" stop-opacity="0.104"/><stop offset="0.36" stop-opacity="0.147"/><stop offset="0.43" stop-opacity="0.170"/><stop offset="0.50" stop-opacity="0.175"/><stop offset="0.57" stop-opacity="0.175"/><stop offset="0.64" stop-opacity="0.169"/><stop offset="0.71" stop-opacity="0.142"/><stop offset="0.79" stop-opacity="0.085"/><stop offset="0.86" stop-opacity="0.027"/><stop offset="0.93" stop-opacity="0.003"/><stop offset="1.00" stop-opacity="0.000"/></linearGradient><linearGradient id="s307" gradientUnits="userSpaceOnUse" x1="0" y1="227.0" x2="0" y2="305.6"><stop offset="0.00" stop-opacity="0.000"/><stop offset="0.07" stop-opacity="0.004"/><stop offset="0.14" stop-opacity="0.019"/><stop offset="0.21" stop-opacity="0.055"/><stop offset="0.29" stop-opacity="0.104"/><stop offset="0.36" stop-opacity="0.147"/><stop offset="0.43" stop-opacity="0.169"/><stop offset="0.50" stop-opacity="0.174"/><stop offset="0.57" stop-opacity="0.174"/><stop offset="0.64" stop-opacity="0.168"/><stop offset="0.71" stop-opacity="0.140"/><stop offset="0.79" stop-opacity="0.084"/><stop offset="0.86" stop-opacity="0.027"/><stop offset="0.93" stop-opacity="0.003"/><stop offset="1.00" stop-opacity="0.000"/></linearGradient><linearGradient id="s308" gradientUnits="userSpaceOnUse" x1="0" y1="226.9" x2="0" y2="305.1"><stop offset="0.00" stop-opacity="0.000"/><stop offset="0.07" stop-opacity="0.004"/><stop offset="0.14" stop-opacity="0.019"/><stop offset="0.21" stop-opacity="0.055"/><stop offset="0.29" stop-opacity="0.104"/><stop offset="0.36" stop-opacity="0.146"/><stop offset="0.43" stop-opacity="0.168"/><stop offset="0.50" stop-opacity="0.173"/><stop offset="0.57" stop-opacity="0.173"/><stop offset="0.64" stop-opacity="0.167"/><stop offset="0.71" stop-opacity="0.139"/><stop offset="0.79" stop-opacity="0.083"/><stop offset="0.86" stop-opacity="0.027"/><stop offset="0.93" stop-opacity="0.003"/><stop offset="1.00" stop-opacity="0.000"/></linearGradient><linearGradient id="s309" gradientUnits="userSpaceOnUse" x1="0" y1="226.7" x2="0" y2="304.5"><stop offset="0.00" stop-opacity="0.000"/><stop offset="0.07" stop-opacity="0.004"/><stop offset="0.14" stop-opacity="0.019"/><stop offset="0.21" stop-opacity="0.055"/><stop offset="0.29" stop-opacity="0.104"/><stop offset="0.36" stop-opacity="0.146"/><stop offset="0.43" stop-opacity="0.167"/><stop offset="0.50" stop-opacity="0.172"/><stop offset="0.57" stop-opacity="0.172"/><stop offset="0.64" stop-opacity="0.166"/><stop offset="0.71" stop-opacity="0.138"/><stop offset="0.79" stop-opacity="0.082"/><stop offset="0.86" stop-opacity="0.026"/><stop offset="0.93" stop-opacity="0.003"/><stop offset="1.00" stop-opacity="0.000"/></linearGradient><linearGradient id="s310" gradientUnits="userSpaceOnUse" x1="0" y1="226.5" x2="0" y2="304.0"><stop offset="0.00" stop-opacity="0.000"/><stop offset="0.07" stop-opacity="0.004"/><stop offset="0.14" stop-opacity="0.019"/><stop offset="0.21" stop-opacity="0.055"/><stop offset="0.29" stop-opacity="0.103"/><stop offset="0.36" stop-opacity="0.145"/><stop offset="0.43" stop-opacity="0.167"/><stop offset="0.50" stop-opacity="0.171"/><stop offset="0.57" stop-opacity="0.171"/><stop offset="0.64" stop-opacity="0.165"/><stop offset="0.71" stop-opacity="0.137"/><stop offset="0.79" stop-opacity="0.081"/><stop offset="0.86" stop-opacity="0.026"/><stop offset="0.93" stop-opacity="0.003"/><stop offset="1.00" stop-opacity="0.000"/></linearGradient><linearGradient id="s311" gradientUnits="userSpaceOnUse" x1="0" y1="226.3" x2="0" y2="303.4"><stop offset="0.00" stop-opacity="0.000"/><stop offset="0.07" stop-opacity="0.004"/><stop offset="0.14" stop-opacity="0.019"/><stop offset="0.21" stop-opacity="0.054"/><stop offset="0.29" stop-opacity="0.103"/><stop offset="0.36" stop-opacity="0.145"/><stop offset="0.43" stop-opacity="0.166"/><stop offset="0.50" stop-opacity="0.170"/><stop offset="0.57" stop-opacity="0.170"/><stop offset="0.64" stop-opacity="0.164"/><stop offset="0.71" stop-opacity="0.136"/><stop offset="0.79" stop-opacity="0.081"/><stop offset="0.86" stop-opacity="0.026"/><stop offset="0.93" stop-opacity="0.003"/><stop offset="1.00" stop-opacity="0.000"/></linearGradient><linearGradient id="s312" gradientUnits="userSpaceOnUse" x1="0" y1="226.1" x2="0" y2="302.9"><stop offset="0.00" stop-opacity="0.000"/><stop offset="0.07" stop-opacity="0.004"/><stop offset="0.14" stop-opacity="0.019"/><stop offset="0.21" stop-opacity="0.054"/><stop offset="0.29" stop-opacity="0.103"/><stop offset="0.36" stop-opacity="0.144"/><stop offset="0.43" stop-opacity="0.165"/><stop offset="0.50" stop-opacity="0.169"/><stop offset="0.57" stop-opacity="0.169"/><stop offset="0.64" stop-opacity="0.163"/><stop offset="0.71" stop-opacity="0.135"/><stop offset="0.79" stop-opacity="0.080"/><stop offset="0.86" stop-opacity="0.025"/><stop offset="0.93" stop-opacity="0.003"/><stop offset="1.00" stop-opacity="0.000"/></linearGradient><linearGradient id="s313" gradientUnits="userSpaceOnUse" x1="0" y1="225.9" x2="0" y2="302.3"><stop offset="0.00" stop-opacity="0.000"/><stop offset="0.07" stop-opacity="0.004"/><stop offset="0.14" stop-opacity="0.019"/><stop offset="0.21" stop-opacity="0.054"/><stop offset="0.29" stop-opacity="0.103"/><stop offset="0.36" stop-opacity="0.144"/><stop offset="0.43" stop-opacity="0.164"/><stop offset="0.50" stop-opacity="0.168"/><stop offset="0.57" stop-opacity="0.168"/><stop offset="0.64" stop-opacity="0.161"/><stop offset="0.71" stop-opacity="0.134"/><stop offset="0.79" stop-opacity="0.079"/><stop offset="0.86" stop-opacity="0.025"/><stop offset="0.93" stop-opacity="0.003"/><stop offset="1.00" stop-opacity="0.000"/></linearGradient><linearGradient id="s314" gradientUnits="userSpaceOnUse" x1="0" y1="225.8" x2="0" y2="301.8"><stop offset="0.00" stop-opacity="0.000"/><stop offset="0.07" stop-opacity="0.004"/><stop offset="0.14" stop-opacity="0.019"/><stop offset="0.21" stop-opacity="0.054"/><stop offset="0.29" stop-opacity="0.103"/><stop offset="0.36" stop-opacity="0.144"/><stop offset="0.43" stop-opacity="0.164"/><stop offset="0.50" stop-opacity="0.167"/><stop offset="0.57" stop-opacity="0.167"/><stop offset="0.64" stop-opacity="0.160"/><stop offset="0.71" stop-opacity="0.133"/><stop offset="0.79" stop-opacity="0.078"/><stop offset="0.86" stop-opacity="0.025"/><stop offset="0.93" stop-opacity="0.003"/><stop offset="1.00" stop-opacity="0.000"/></linearGradient><linearGradient id="s315" gradientUnits="userSpaceOnUse" x1="0" y1="225.6" x2="0" y2="301.2"><stop offset="0.00" stop-opacity="0.000"/><stop offset="0.07" stop-opacity="0.004"/><stop offset="0.14" stop-opacity="0.019"/><stop offset="0.21" stop-opacity="0.054"/><stop offset="0.29" stop-opacity="0.103"/><stop offset="0.36" stop-opacity="0.143"/><stop offset="0.43" stop-opacity="0.163"/><stop offset="0.50" stop-opacity="0.166"/><stop offset="0.57" stop-opacity="0.166"/><stop offset="0.64" stop-opacity="0.159"/><stop offset="0.71" stop-opacity="0.132"/><stop offset="0.79" stop-opacity="0.077"/><stop offset="0.86" stop-opacity="0.025"/><stop offset="0.93" stop-opacity="0.003"/><stop offset="1.00" stop-opacity="0.000"/></linearGradient><linearGradient id="s316" gradientUnits="userSpaceOnUse" x1="0" y1="225.4" x2="0" y2="300.7"><stop offset="0.00" stop-opacity="0.000"/><stop offset="0.07" stop-opacity="0.004"/><stop offset="0.14" stop-opacity="0.019"/><stop offset="0.21" stop-opacity="0.054"/><stop offset="0.29" stop-opacity="0.102"/><stop offset="0.36" stop-opacity="0.143"/><stop offset="0.43" stop-opacity="0.162"/><stop offset="0.50" stop-opacity="0.165"/><stop offset="0.57" stop-opacity="0.165"/><stop offset="0.64" stop-opacity="0.158"/><stop offset="0.71" stop-opacity="0.131"/><stop offset="0.79" stop-opacity="0.076"/><stop offset="0.86" stop-opacity="0.024"/><stop offset="0.93" stop-opacity="0.003"/><stop offset="1.00" stop-opacity="0.000"/></linearGradient><linearGradient id="s317" gradientUnits="userSpaceOnUse" x1="0" y1="225.2" x2="0" y2="300.1"><stop offset="0.00" stop-opacity="0.000"/><stop offset="0.07" stop-opacity="0.004"/><stop offset="0.14" stop-opacity="0.019"/><stop offset="0.21" stop-opacity="0.054"/><stop offset="0.29" stop-opacity="0.102"/><stop offset="0.36" stop-opacity="0.142"/><stop offset="0.43" stop-opacity="0.161"/><stop offset="0.50" stop-opacity="0.165"/><stop offset="0.57" stop-opacity="0.164"/><stop offset="0.64" stop-opacity="0.157"/><stop offset="0.71" stop-opacity="0.129"/><stop offset="0.79" stop-opacity="0.076"/><stop offset="0.86" stop-opacity="0.024"/><stop offset="0.93" stop-opacity="0.003"/><stop offset="1.00" stop-opacity="0.000"/></linearGradient><linearGradient id="s318" gradientUnits="userSpaceOnUse" x1="0" y1="225.0" x2="0" y2="299.6"><stop offset="0.00" stop-opacity="0.000"/><stop offset="0.07" stop-opacity="0.004"/><stop offset="0.14" stop-opacity="0.019"/><stop offset="0.21" stop-opacity="0.054"/><stop offset="0.29" stop-opacity="0.102"/><stop offset="0.36" stop-opacity="0.142"/><stop offset="0.43" stop-opacity="0.160"/><stop offset="0.50" stop-opacity="0.164"/><stop offset="0.57" stop-opacity="0.163"/><stop offset="0.64" stop-opacity="0.156"/><stop offset="0.71" stop-opacity="0.128"/><stop offset="0.79" stop-opacity="0.075"/><stop offset="0.86" stop-opacity="0.024"/><stop offset="0.93" stop-opacity="0.003"/><stop offset="1.00" stop-opacity="0.000"/></linearGradient><linearGradient id="s319" gradientUnits="userSpaceOnUse" x1="0" y1="224.9" x2="0" y2="299.0"><stop offset="0.00" stop-opacity="0.000"/><stop offset="0.07" stop-opacity="0.004"/><stop offset="0.14" stop-opacity="0.019"/><stop offset="0.21" stop-opacity="0.054"/><stop offset="0.29" stop-opacity="0.102"/><stop offset="0.36" stop-opacity="0.141"/><stop offset="0.43" stop-opacity="0.160"/><stop offset="0.50" stop-opacity="0.163"/><stop offset="0.57" stop-opacity="0.162"/><stop offset="0.64" stop-opacity="0.155"/><stop offset="0.71" stop-opacity="0.127"/><stop offset="0.79" stop-opacity="0.074"/><stop offset="0.86" stop-opacity="0.023"/><stop offset="0.93" stop-opacity="0.003"/><stop offset="1.00" stop-opacity="0.000"/></linearGradient><linearGradient id="s320" gradientUnits="userSpaceOnUse" x1="0" y1="224.7" x2="0" y2="298.5"><stop offset="0.00" stop-opacity="0.000"/><stop offset="0.07" stop-opacity="0.004"/><stop offset="0.14" stop-opacity="0.019"/><stop offset="0.21" stop-opacity="0.054"/><stop offset="0.29" stop-opacity="0.102"/><stop offset="0.36" stop-opacity="0.141"/><stop offset="0.43" stop-opacity="0.159"/><stop offset="0.50" stop-opacity="0.162"/><stop offset="0.57" stop-opacity="0.161"/><stop offset="0.64" stop-opacity="0.154"/><stop offset="0.71" stop-opacity="0.126"/><stop offset="0.79" stop-opacity="0.073"/><stop offset="0.86" stop-opacity="0.023"/><stop offset="0.93" stop-opacity="0.003"/><stop offset="1.00" stop-opacity="0.000"/></linearGradient>
</defs>
<g clip-path="url(#ax)">
<line x1="80.30" y1="285.70" x2="724.70" y2="120.30" stroke="#262626" stroke-opacity="0.40" stroke-width="1.3" stroke-dasharray="9.4 7.0" stroke-dashoffset="-0.8"/>
<line x1="80.30" y1="327.05" x2="724.70" y2="161.65" stroke="#262626" stroke-opacity="0.60" stroke-width="1.3" stroke-dasharray="9.4 7.0" stroke-dashoffset="-0.8"/>
<line x1="80.30" y1="368.40" x2="724.70" y2="203.00" stroke="#262626" stroke-opacity="0.80" stroke-width="1.3" stroke-dasharray="9.4 7.0" stroke-dashoffset="-0.8"/>
<line x1="80.30" y1="409.75" x2="724.70" y2="244.35" stroke="#262626" stroke-opacity="1.00" stroke-width="1.3" stroke-dasharray="9.4 7.0" stroke-dashoffset="-0.8"/>
<line x1="80.30" y1="451.10" x2="724.70" y2="285.70" stroke="#262626" stroke-opacity="0.80" stroke-width="1.3" stroke-dasharray="9.4 7.0" stroke-dashoffset="-0.8"/>
<line x1="144.74" y1="475.91" x2="724.70" y2="327.05" stroke="#262626" stroke-opacity="0.60" stroke-width="1.3" stroke-dasharray="9.4 7.0" stroke-dashoffset="0"/>
<line x1="305.84" y1="475.91" x2="724.70" y2="368.40" stroke="#262626" stroke-opacity="0.40" stroke-width="1.3" stroke-dasharray="9.4 7.0" stroke-dashoffset="0"/>
<line x1="466.94" y1="475.91" x2="724.70" y2="409.75" stroke="#262626" stroke-opacity="0.20" stroke-width="1.3" stroke-dasharray="9.4 7.0" stroke-dashoffset="0"/>
</g>
<circle cx="643.5" cy="87.4" r="6.0" fill="#1b9e77" fill-opacity="1" stroke="#111" stroke-width="1.3"/>
<circle cx="656" cy="111" r="6.0" fill="#7570b3" fill-opacity="1" stroke="#111" stroke-width="1.3"/>
<path d="M613.1 123.20000000000002L618.9 130.8L613.1 138.4L607.3000000000001 130.8Z" fill="#d95f02" fill-opacity="1" stroke="#111" stroke-width="1.3" stroke-linejoin="miter"/>
<path d="M609.5 143.9L615.3 151.5L609.5 159.1L603.7 151.5Z" fill="#d95f02" fill-opacity="1" stroke="#111" stroke-width="1.3" stroke-linejoin="miter"/>
<circle cx="603" cy="184.8" r="6.0" fill="#d95f02" fill-opacity="1" stroke="#111" stroke-width="1.3"/>
<circle cx="658.6" cy="211.1" r="6.0" fill="#7570b3" fill-opacity="0.3" stroke="#111" stroke-width="1.3"/>
<circle cx="613" cy="256.1" r="6.0" fill="#1b9e77" fill-opacity="1" stroke="#111" stroke-width="1.3"/>
<circle cx="615.6" cy="265.7" r="6.0" fill="#1b9e77" fill-opacity="1" stroke="#111" stroke-width="1.3"/>
<path d="M613.4 273.2L619.1999999999999 280.8L613.4 288.40000000000003L607.6 280.8Z" fill="#1b9e77" fill-opacity="1" stroke="#111" stroke-width="1.3" stroke-linejoin="miter"/>
<circle cx="632" cy="285.5" r="6.0" fill="#d95f02" fill-opacity="1" stroke="#111" stroke-width="1.3"/>
<path d="M645.7 288.9L651.5 296.5L645.7 304.1L639.9000000000001 296.5Z" fill="#1b9e77" fill-opacity="1" stroke="#111" stroke-width="1.3" stroke-linejoin="miter"/>
<path d="M646 282.29999999999995L651.8 289.9L646 297.5L640.2 289.9Z" fill="#7570b3" fill-opacity="0.6" stroke="#111" stroke-width="1.3" stroke-linejoin="miter"/>
<circle cx="597.3" cy="297.2" r="6.0" fill="#7570b3" fill-opacity="1" stroke="#111" stroke-width="1.3"/>
<circle cx="595.6" cy="317.2" r="6.0" fill="#d95f02" fill-opacity="1" stroke="#111" stroke-width="1.3"/>
<circle cx="595.2" cy="315.5" r="6.0" fill="#d95f02" fill-opacity="1" stroke="#111" stroke-width="1.3"/>
<circle cx="648.3" cy="319.8" r="6.0" fill="#1b9e77" fill-opacity="1" stroke="#111" stroke-width="1.3"/>
<path d="M639.6 320.59999999999997L645.4 328.2L639.6 335.8L633.8000000000001 328.2Z" fill="#1b9e77" fill-opacity="0.28" stroke="#111" stroke-width="1.3" stroke-linejoin="miter"/>
<circle cx="642.4" cy="330.8" r="6.0" fill="#d95f02" fill-opacity="1" stroke="#111" stroke-width="1.3"/>
<path d="M604.5 348.29999999999995L610.3 355.9L604.5 363.5L598.7 355.9Z" fill="#d95f02" fill-opacity="1" stroke="#111" stroke-width="1.3" stroke-linejoin="miter"/>
<path d="M608.6 340.4L614.4 348L608.6 355.6L602.8000000000001 348Z" fill="#7570b3" fill-opacity="0.7" stroke="#111" stroke-width="1.3" stroke-linejoin="miter"/>
<circle cx="573.2" cy="358.3" r="6.0" fill="#1b9e77" fill-opacity="1" stroke="#111" stroke-width="1.3"/>
<path d="M643.4 345.5L649.1999999999999 353.1L643.4 360.70000000000005L637.6 353.1Z" fill="#1b9e77" fill-opacity="1" stroke="#111" stroke-width="1.3" stroke-linejoin="miter"/>
<circle cx="601.2" cy="380.6" r="6.0" fill="#d95f02" fill-opacity="1" stroke="#111" stroke-width="1.3"/>
<circle cx="598.5" cy="377.9" r="6.0" fill="#d95f02" fill-opacity="1" stroke="#111" stroke-width="1.3"/>
<circle cx="635.1" cy="385.5" r="6.0" fill="#1b9e77" fill-opacity="1" stroke="#111" stroke-width="1.3"/>
<circle cx="591.1" cy="403.1" r="6.0" fill="#d95f02" fill-opacity="1" stroke="#111" stroke-width="1.3"/>
<circle cx="652.1" cy="411.3" r="6.0" fill="#1b9e77" fill-opacity="1" stroke="#111" stroke-width="1.3"/>
<circle cx="634" cy="417.6" r="6.0" fill="#1b9e77" fill-opacity="1" stroke="#111" stroke-width="1.3"/>
<circle cx="640.1" cy="414.3" r="6.0" fill="#1b9e77" fill-opacity="1" stroke="#111" stroke-width="1.3"/>
<circle cx="615.3" cy="431.5" r="6.0" fill="#1b9e77" fill-opacity="1" stroke="#111" stroke-width="1.3"/>
<circle cx="640.1" cy="433.6" r="6.0" fill="#1b9e77" fill-opacity="1" stroke="#111" stroke-width="1.3"/>
<path d="M632.7 433.4L638.5 441L632.7 448.6L626.9000000000001 441Z" fill="#1b9e77" fill-opacity="1" stroke="#111" stroke-width="1.3" stroke-linejoin="miter"/>
<circle cx="640.1" cy="439" r="6.0" fill="#1b9e77" fill-opacity="1" stroke="#111" stroke-width="1.3"/>
<circle cx="640.1" cy="453.1" r="6.0" fill="#1b9e77" fill-opacity="1" stroke="#111" stroke-width="1.3"/>
<path d="M624.4 449.9L630.1999999999999 457.5L624.4 465.1L618.6 457.5Z" fill="#1b9e77" fill-opacity="1" stroke="#111" stroke-width="1.3" stroke-linejoin="miter"/>
<circle cx="115.3" cy="388.3" r="6.0" fill="#1b9e77" fill-opacity="1" stroke="#111" stroke-width="1.3"/>
<path d="M321 429.79999999999995L326.8 437.4L321 445.0L315.2 437.4Z" fill="#1b9e77" fill-opacity="0.65" stroke="#111" stroke-width="1.3" stroke-linejoin="miter"/>
<path d="M479.3 264.79999999999995L485.1 272.4L479.3 280.0L473.5 272.4Z" fill="#d95f02" fill-opacity="1" stroke="#111" stroke-width="1.3" stroke-linejoin="miter"/>
<g shape-rendering="crispEdges"><rect x="80" y="360.8" width="2" height="67.2" fill="url(#s0)"/><rect x="82" y="360.3" width="2" height="67.8" fill="url(#s1)"/><rect x="84" y="359.7" width="2" height="68.3" fill="url(#s2)"/><rect x="86" y="359.1" width="2" height="68.9" fill="url(#s3)"/><rect x="88" y="358.5" width="2" height="69.5" fill="url(#s4)"/><rect x="90" y="357.9" width="2" height="70.1" fill="url(#s5)"/><rect x="92" y="357.4" width="2" height="70.7" fill="url(#s6)"/><rect x="94" y="356.8" width="2" height="71.2" fill="url(#s7)"/><rect x="96" y="356.2" width="2" height="71.8" fill="url(#s8)"/><rect x="98" y="355.6" width="2" height="72.4" fill="url(#s9)"/><rect x="100" y="355.0" width="2" height="73.0" fill="url(#s10)"/><rect x="102" y="354.5" width="2" height="73.6" fill="url(#s11)"/><rect x="104" y="353.9" width="2" height="74.1" fill="url(#s12)"/><rect x="106" y="353.3" width="2" height="74.7" fill="url(#s13)"/><rect x="108" y="352.7" width="2" height="75.3" fill="url(#s14)"/><rect x="110" y="352.1" width="2" height="75.9" fill="url(#s15)"/><rect x="112" y="351.6" width="2" height="76.5" fill="url(#s16)"/><rect x="114" y="351.0" width="2" height="77.0" fill="url(#s17)"/><rect x="116" y="350.4" width="2" height="77.6" fill="url(#s18)"/><rect x="118" y="349.8" width="2" height="78.2" fill="url(#s19)"/><rect x="120" y="349.3" width="2" height="78.8" fill="url(#s20)"/><rect x="122" y="348.7" width="2" height="79.4" fill="url(#s21)"/><rect x="124" y="348.1" width="2" height="79.9" fill="url(#s22)"/><rect x="126" y="347.5" width="2" height="80.5" fill="url(#s23)"/><rect x="128" y="346.9" width="2" height="81.1" fill="url(#s24)"/><rect x="130" y="346.4" width="2" height="81.7" fill="url(#s25)"/><rect x="132" y="345.8" width="2" height="82.2" fill="url(#s26)"/><rect x="134" y="345.2" width="2" height="82.8" fill="url(#s27)"/><rect x="136" y="344.6" width="2" height="83.4" fill="url(#s28)"/><rect x="138" y="344.0" width="2" height="84.0" fill="url(#s29)"/><rect x="140" y="343.5" width="2" height="84.6" fill="url(#s30)"/><rect x="142" y="342.9" width="2" height="85.1" fill="url(#s31)"/><rect x="144" y="342.3" width="2" height="85.7" fill="url(#s32)"/><rect x="146" y="341.7" width="2" height="86.3" fill="url(#s33)"/><rect x="148" y="341.1" width="2" height="86.9" fill="url(#s34)"/><rect x="150" y="340.6" width="2" height="87.5" fill="url(#s35)"/><rect x="152" y="340.0" width="2" height="88.0" fill="url(#s36)"/><rect x="154" y="339.4" width="2" height="88.6" fill="url(#s37)"/><rect x="156" y="338.8" width="2" height="89.2" fill="url(#s38)"/><rect x="158" y="338.2" width="2" height="89.8" fill="url(#s39)"/><rect x="160" y="337.7" width="2" height="90.4" fill="url(#s40)"/><rect x="162" y="337.1" width="2" height="90.9" fill="url(#s41)"/><rect x="164" y="336.5" width="2" height="91.5" fill="url(#s42)"/><rect x="166" y="335.9" width="2" height="92.1" fill="url(#s43)"/><rect x="168" y="335.4" width="2" height="92.7" fill="url(#s44)"/><rect x="170" y="334.8" width="2" height="93.3" fill="url(#s45)"/><rect x="172" y="334.2" width="2" height="93.8" fill="url(#s46)"/><rect x="174" y="333.6" width="2" height="94.4" fill="url(#s47)"/><rect x="176" y="333.0" width="2" height="95.0" fill="url(#s48)"/><rect x="178" y="332.5" width="2" height="95.6" fill="url(#s49)"/><rect x="180" y="331.9" width="2" height="96.2" fill="url(#s50)"/><rect x="182" y="331.3" width="2" height="96.7" fill="url(#s51)"/><rect x="184" y="330.7" width="2" height="97.3" fill="url(#s52)"/><rect x="186" y="330.1" width="2" height="97.9" fill="url(#s53)"/><rect x="188" y="329.6" width="2" height="98.5" fill="url(#s54)"/><rect x="190" y="329.0" width="2" height="99.0" fill="url(#s55)"/><rect x="192" y="328.4" width="2" height="99.6" fill="url(#s56)"/><rect x="194" y="327.8" width="2" height="100.2" fill="url(#s57)"/><rect x="196" y="327.2" width="2" height="100.8" fill="url(#s58)"/><rect x="198" y="326.7" width="2" height="101.4" fill="url(#s59)"/><rect x="200" y="326.1" width="2" height="101.9" fill="url(#s60)"/><rect x="202" y="325.5" width="2" height="102.5" fill="url(#s61)"/><rect x="204" y="324.9" width="2" height="103.1" fill="url(#s62)"/><rect x="206" y="324.3" width="2" height="103.7" fill="url(#s63)"/><rect x="208" y="323.8" width="2" height="104.3" fill="url(#s64)"/><rect x="210" y="323.2" width="2" height="104.8" fill="url(#s65)"/><rect x="212" y="322.6" width="2" height="105.4" fill="url(#s66)"/><rect x="214" y="322.0" width="2" height="106.0" fill="url(#s67)"/><rect x="216" y="321.4" width="2" height="106.6" fill="url(#s68)"/><rect x="218" y="320.9" width="2" height="107.2" fill="url(#s69)"/><rect x="220" y="320.3" width="2" height="107.7" fill="url(#s70)"/><rect x="222" y="319.7" width="2" height="108.3" fill="url(#s71)"/><rect x="224" y="319.1" width="2" height="108.9" fill="url(#s72)"/><rect x="226" y="318.6" width="2" height="109.5" fill="url(#s73)"/><rect x="228" y="318.0" width="2" height="110.1" fill="url(#s74)"/><rect x="230" y="317.4" width="2" height="110.6" fill="url(#s75)"/><rect x="232" y="316.8" width="2" height="111.2" fill="url(#s76)"/><rect x="234" y="316.2" width="2" height="111.8" fill="url(#s77)"/><rect x="236" y="315.7" width="2" height="112.4" fill="url(#s78)"/><rect x="238" y="315.1" width="2" height="112.9" fill="url(#s79)"/><rect x="240" y="314.5" width="2" height="113.5" fill="url(#s80)"/><rect x="242" y="313.9" width="2" height="114.1" fill="url(#s81)"/><rect x="244" y="313.3" width="2" height="114.7" fill="url(#s82)"/><rect x="246" y="312.8" width="2" height="115.3" fill="url(#s83)"/><rect x="248" y="312.2" width="2" height="115.8" fill="url(#s84)"/><rect x="250" y="311.6" width="2" height="116.4" fill="url(#s85)"/><rect x="252" y="311.0" width="2" height="117.0" fill="url(#s86)"/><rect x="254" y="310.4" width="2" height="117.6" fill="url(#s87)"/><rect x="256" y="309.9" width="2" height="118.2" fill="url(#s88)"/><rect x="258" y="309.3" width="2" height="118.7" fill="url(#s89)"/><rect x="260" y="308.7" width="2" height="119.3" fill="url(#s90)"/><rect x="262" y="308.1" width="2" height="119.9" fill="url(#s91)"/><rect x="264" y="307.5" width="2" height="120.5" fill="url(#s92)"/><rect x="266" y="307.0" width="2" height="120.4" fill="url(#s93)"/><rect x="268" y="306.4" width="2" height="120.4" fill="url(#s94)"/><rect x="270" y="305.8" width="2" height="120.4" fill="url(#s95)"/><rect x="272" y="305.2" width="2" height="120.4" fill="url(#s96)"/><rect x="274" y="304.7" width="2" height="120.4" fill="url(#s97)"/><rect x="276" y="304.3" width="2" height="120.5" fill="url(#s98)"/><rect x="278" y="303.9" width="2" height="120.5" fill="url(#s99)"/><rect x="280" y="303.4" width="2" height="120.6" fill="url(#s100)"/><rect x="282" y="303.0" width="2" height="120.6" fill="url(#s101)"/><rect x="284" y="302.5" width="2" height="120.7" fill="url(#s102)"/><rect x="286" y="302.1" width="2" height="120.7" fill="url(#s103)"/><rect x="288" y="301.7" width="2" height="120.8" fill="url(#s104)"/><rect x="290" y="301.2" width="2" height="120.8" fill="url(#s105)"/><rect x="292" y="300.8" width="2" height="120.9" fill="url(#s106)"/><rect x="294" y="300.3" width="2" height="120.9" fill="url(#s107)"/><rect x="296" y="299.9" width="2" height="121.0" fill="url(#s108)"/><rect x="298" y="299.4" width="2" height="121.0" fill="url(#s109)"/><rect x="300" y="299.0" width="2" height="121.1" fill="url(#s110)"/><rect x="302" y="298.6" width="2" height="121.1" fill="url(#s111)"/><rect x="304" y="298.1" width="2" height="121.2" fill="url(#s112)"/><rect x="306" y="297.7" width="2" height="121.2" fill="url(#s113)"/><rect x="308" y="297.2" width="2" height="121.3" fill="url(#s114)"/><rect x="310" y="296.8" width="2" height="121.3" fill="url(#s115)"/><rect x="312" y="296.4" width="2" height="121.4" fill="url(#s116)"/><rect x="314" y="295.9" width="2" height="121.4" fill="url(#s117)"/><rect x="316" y="295.5" width="2" height="121.5" fill="url(#s118)"/><rect x="318" y="295.0" width="2" height="121.5" fill="url(#s119)"/><rect x="320" y="294.6" width="2" height="121.6" fill="url(#s120)"/><rect x="322" y="294.2" width="2" height="121.6" fill="url(#s121)"/><rect x="324" y="293.7" width="2" height="121.7" fill="url(#s122)"/><rect x="326" y="293.3" width="2" height="121.7" fill="url(#s123)"/><rect x="328" y="292.8" width="2" height="121.8" fill="url(#s124)"/><rect x="330" y="292.4" width="2" height="121.8" fill="url(#s125)"/><rect x="332" y="291.9" width="2" height="121.9" fill="url(#s126)"/><rect x="334" y="291.5" width="2" height="121.9" fill="url(#s127)"/><rect x="336" y="291.1" width="2" height="122.0" fill="url(#s128)"/><rect x="338" y="290.6" width="2" height="122.0" fill="url(#s129)"/><rect x="340" y="290.2" width="2" height="122.1" fill="url(#s130)"/><rect x="342" y="289.7" width="2" height="122.1" fill="url(#s131)"/><rect x="344" y="289.3" width="2" height="122.2" fill="url(#s132)"/><rect x="346" y="288.9" width="2" height="122.2" fill="url(#s133)"/><rect x="348" y="288.4" width="2" height="122.3" fill="url(#s134)"/><rect x="350" y="288.0" width="2" height="122.3" fill="url(#s135)"/><rect x="352" y="287.5" width="2" height="122.4" fill="url(#s136)"/><rect x="354" y="287.1" width="2" height="122.4" fill="url(#s137)"/><rect x="356" y="286.6" width="2" height="122.5" fill="url(#s138)"/><rect x="358" y="286.2" width="2" height="122.5" fill="url(#s139)"/><rect x="360" y="285.8" width="2" height="122.6" fill="url(#s140)"/><rect x="362" y="285.3" width="2" height="122.6" fill="url(#s141)"/><rect x="364" y="284.9" width="2" height="122.7" fill="url(#s142)"/><rect x="366" y="284.4" width="2" height="122.7" fill="url(#s143)"/><rect x="368" y="284.0" width="2" height="122.8" fill="url(#s144)"/><rect x="370" y="283.6" width="2" height="122.8" fill="url(#s145)"/><rect x="372" y="283.1" width="2" height="122.9" fill="url(#s146)"/><rect x="374" y="282.7" width="2" height="122.9" fill="url(#s147)"/><rect x="376" y="282.2" width="2" height="123.0" fill="url(#s148)"/><rect x="378" y="281.8" width="2" height="123.0" fill="url(#s149)"/><rect x="380" y="281.3" width="2" height="123.1" fill="url(#s150)"/><rect x="382" y="280.9" width="2" height="123.1" fill="url(#s151)"/><rect x="384" y="280.5" width="2" height="123.2" fill="url(#s152)"/><rect x="386" y="280.0" width="2" height="123.2" fill="url(#s153)"/><rect x="388" y="279.6" width="2" height="123.3" fill="url(#s154)"/><rect x="390" y="279.1" width="2" height="123.3" fill="url(#s155)"/><rect x="392" y="278.7" width="2" height="123.4" fill="url(#s156)"/><rect x="394" y="278.3" width="2" height="123.4" fill="url(#s157)"/><rect x="396" y="277.8" width="2" height="123.5" fill="url(#s158)"/><rect x="398" y="277.4" width="2" height="123.5" fill="url(#s159)"/><rect x="400" y="276.9" width="2" height="123.6" fill="url(#s160)"/><rect x="402" y="276.5" width="2" height="123.6" fill="url(#s161)"/><rect x="404" y="276.0" width="2" height="123.5" fill="url(#s162)"/><rect x="406" y="275.6" width="2" height="123.3" fill="url(#s163)"/><rect x="408" y="275.1" width="2" height="123.2" fill="url(#s164)"/><rect x="410" y="274.7" width="2" height="123.1" fill="url(#s165)"/><rect x="412" y="274.2" width="2" height="122.9" fill="url(#s166)"/><rect x="414" y="273.8" width="2" height="122.8" fill="url(#s167)"/><rect x="416" y="273.3" width="2" height="122.7" fill="url(#s168)"/><rect x="418" y="272.8" width="2" height="122.5" fill="url(#s169)"/><rect x="420" y="272.4" width="2" height="122.4" fill="url(#s170)"/><rect x="422" y="271.9" width="2" height="122.3" fill="url(#s171)"/><rect x="424" y="271.5" width="2" height="122.1" fill="url(#s172)"/><rect x="426" y="271.0" width="2" height="122.0" fill="url(#s173)"/><rect x="428" y="270.6" width="2" height="121.9" fill="url(#s174)"/><rect x="430" y="270.1" width="2" height="121.7" fill="url(#s175)"/><rect x="432" y="269.7" width="2" height="121.6" fill="url(#s176)"/><rect x="434" y="269.2" width="2" height="121.5" fill="url(#s177)"/><rect x="436" y="268.7" width="2" height="121.3" fill="url(#s178)"/><rect x="438" y="268.3" width="2" height="121.2" fill="url(#s179)"/><rect x="440" y="267.8" width="2" height="121.1" fill="url(#s180)"/><rect x="442" y="267.4" width="2" height="120.9" fill="url(#s181)"/><rect x="444" y="266.9" width="2" height="120.8" fill="url(#s182)"/><rect x="446" y="266.5" width="2" height="120.7" fill="url(#s183)"/><rect x="448" y="266.0" width="2" height="120.5" fill="url(#s184)"/><rect x="450" y="265.6" width="2" height="120.4" fill="url(#s185)"/><rect x="452" y="265.1" width="2" height="120.3" fill="url(#s186)"/><rect x="454" y="264.6" width="2" height="120.1" fill="url(#s187)"/><rect x="456" y="264.2" width="2" height="120.0" fill="url(#s188)"/><rect x="458" y="263.7" width="2" height="119.9" fill="url(#s189)"/><rect x="460" y="263.3" width="2" height="119.7" fill="url(#s190)"/><rect x="462" y="262.8" width="2" height="119.6" fill="url(#s191)"/><rect x="464" y="262.4" width="2" height="119.5" fill="url(#s192)"/><rect x="466" y="261.9" width="2" height="119.3" fill="url(#s193)"/><rect x="468" y="261.5" width="2" height="119.2" fill="url(#s194)"/><rect x="470" y="261.0" width="2" height="119.1" fill="url(#s195)"/><rect x="472" y="260.5" width="2" height="118.9" fill="url(#s196)"/><rect x="474" y="260.1" width="2" height="118.8" fill="url(#s197)"/><rect x="476" y="259.6" width="2" height="118.7" fill="url(#s198)"/><rect x="478" y="259.2" width="2" height="118.5" fill="url(#s199)"/><rect x="480" y="258.7" width="2" height="118.4" fill="url(#s200)"/><rect x="482" y="258.3" width="2" height="118.3" fill="url(#s201)"/><rect x="484" y="257.8" width="2" height="118.1" fill="url(#s202)"/><rect x="486" y="257.4" width="2" height="118.0" fill="url(#s203)"/><rect x="488" y="256.9" width="2" height="117.9" fill="url(#s204)"/><rect x="490" y="256.4" width="2" height="117.7" fill="url(#s205)"/><rect x="492" y="256.0" width="2" height="117.6" fill="url(#s206)"/><rect x="494" y="255.5" width="2" height="117.5" fill="url(#s207)"/><rect x="496" y="255.1" width="2" height="117.3" fill="url(#s208)"/><rect x="498" y="254.6" width="2" height="117.2" fill="url(#s209)"/><rect x="500" y="254.2" width="2" height="117.1" fill="url(#s210)"/><rect x="502" y="253.7" width="2" height="116.9" fill="url(#s211)"/><rect x="504" y="253.3" width="2" height="116.8" fill="url(#s212)"/><rect x="506" y="252.8" width="2" height="116.7" fill="url(#s213)"/><rect x="508" y="252.3" width="2" height="116.5" fill="url(#s214)"/><rect x="510" y="251.9" width="2" height="116.4" fill="url(#s215)"/><rect x="512" y="251.4" width="2" height="116.3" fill="url(#s216)"/><rect x="514" y="251.0" width="2" height="116.1" fill="url(#s217)"/><rect x="516" y="250.5" width="2" height="116.0" fill="url(#s218)"/><rect x="518" y="250.1" width="2" height="115.9" fill="url(#s219)"/><rect x="520" y="249.6" width="2" height="115.7" fill="url(#s220)"/><rect x="522" y="249.2" width="2" height="115.6" fill="url(#s221)"/><rect x="524" y="248.7" width="2" height="115.5" fill="url(#s222)"/><rect x="526" y="248.2" width="2" height="115.3" fill="url(#s223)"/><rect x="528" y="247.8" width="2" height="115.2" fill="url(#s224)"/><rect x="530" y="247.3" width="2" height="115.1" fill="url(#s225)"/><rect x="532" y="247.0" width="2" height="114.6" fill="url(#s226)"/><rect x="534" y="246.6" width="2" height="114.0" fill="url(#s227)"/><rect x="536" y="246.3" width="2" height="113.4" fill="url(#s228)"/><rect x="538" y="245.9" width="2" height="112.9" fill="url(#s229)"/><rect x="540" y="245.6" width="2" height="112.3" fill="url(#s230)"/><rect x="542" y="245.2" width="2" height="111.7" fill="url(#s231)"/><rect x="544" y="244.9" width="2" height="111.2" fill="url(#s232)"/><rect x="546" y="244.5" width="2" height="110.6" fill="url(#s233)"/><rect x="548" y="244.2" width="2" height="110.0" fill="url(#s234)"/><rect x="550" y="243.8" width="2" height="109.5" fill="url(#s235)"/><rect x="552" y="243.5" width="2" height="108.9" fill="url(#s236)"/><rect x="554" y="243.2" width="2" height="108.3" fill="url(#s237)"/><rect x="556" y="242.8" width="2" height="107.8" fill="url(#s238)"/><rect x="558" y="242.5" width="2" height="107.2" fill="url(#s239)"/><rect x="560" y="242.1" width="2" height="106.6" fill="url(#s240)"/><rect x="562" y="241.8" width="2" height="106.1" fill="url(#s241)"/><rect x="564" y="241.4" width="2" height="105.5" fill="url(#s242)"/><rect x="566" y="241.1" width="2" height="104.9" fill="url(#s243)"/><rect x="568" y="240.7" width="2" height="104.4" fill="url(#s244)"/><rect x="570" y="240.4" width="2" height="103.8" fill="url(#s245)"/><rect x="572" y="240.0" width="2" height="103.2" fill="url(#s246)"/><rect x="574" y="239.7" width="2" height="102.7" fill="url(#s247)"/><rect x="576" y="239.3" width="2" height="102.1" fill="url(#s248)"/><rect x="578" y="239.0" width="2" height="101.5" fill="url(#s249)"/><rect x="580" y="238.6" width="2" height="101.0" fill="url(#s250)"/><rect x="582" y="238.3" width="2" height="100.4" fill="url(#s251)"/><rect x="584" y="238.0" width="2" height="99.8" fill="url(#s252)"/><rect x="586" y="237.6" width="2" height="99.3" fill="url(#s253)"/><rect x="588" y="237.3" width="2" height="98.7" fill="url(#s254)"/><rect x="590" y="236.9" width="2" height="98.1" fill="url(#s255)"/><rect x="592" y="236.6" width="2" height="97.6" fill="url(#s256)"/><rect x="594" y="236.2" width="2" height="97.0" fill="url(#s257)"/><rect x="596" y="236.0" width="2" height="96.5" fill="url(#s258)"/><rect x="598" y="235.8" width="2" height="96.2" fill="url(#s259)"/><rect x="600" y="235.6" width="2" height="95.8" fill="url(#s260)"/><rect x="602" y="235.4" width="2" height="95.4" fill="url(#s261)"/><rect x="604" y="235.2" width="2" height="95.1" fill="url(#s262)"/><rect x="606" y="235.1" width="2" height="94.7" fill="url(#s263)"/><rect x="608" y="234.9" width="2" height="94.3" fill="url(#s264)"/><rect x="610" y="234.7" width="2" height="94.0" fill="url(#s265)"/><rect x="612" y="234.5" width="2" height="93.6" fill="url(#s266)"/><rect x="614" y="234.3" width="2" height="93.2" fill="url(#s267)"/><rect x="616" y="234.2" width="2" height="92.9" fill="url(#s268)"/><rect x="618" y="234.0" width="2" height="92.5" fill="url(#s269)"/><rect x="620" y="233.8" width="2" height="92.1" fill="url(#s270)"/><rect x="622" y="233.6" width="2" height="91.8" fill="url(#s271)"/><rect x="624" y="233.4" width="2" height="91.4" fill="url(#s272)"/><rect x="626" y="233.2" width="2" height="91.0" fill="url(#s273)"/><rect x="628" y="233.1" width="2" height="90.7" fill="url(#s274)"/><rect x="630" y="232.9" width="2" height="90.3" fill="url(#s275)"/><rect x="632" y="232.7" width="2" height="89.9" fill="url(#s276)"/><rect x="634" y="232.5" width="2" height="89.6" fill="url(#s277)"/><rect x="636" y="232.3" width="2" height="89.2" fill="url(#s278)"/><rect x="638" y="232.1" width="2" height="88.8" fill="url(#s279)"/><rect x="640" y="232.0" width="2" height="88.5" fill="url(#s280)"/><rect x="642" y="231.8" width="2" height="88.1" fill="url(#s281)"/><rect x="644" y="231.6" width="2" height="87.7" fill="url(#s282)"/><rect x="646" y="231.4" width="2" height="87.4" fill="url(#s283)"/><rect x="648" y="231.2" width="2" height="87.0" fill="url(#s284)"/><rect x="650" y="231.1" width="2" height="86.6" fill="url(#s285)"/><rect x="652" y="230.9" width="2" height="86.3" fill="url(#s286)"/><rect x="654" y="230.7" width="2" height="85.9" fill="url(#s287)"/><rect x="656" y="230.5" width="2" height="85.5" fill="url(#s288)"/><rect x="658" y="230.3" width="2" height="85.2" fill="url(#s289)"/><rect x="660" y="230.1" width="2" height="84.8" fill="url(#s290)"/><rect x="662" y="230.0" width="2" height="84.4" fill="url(#s291)"/><rect x="664" y="229.8" width="2" height="84.1" fill="url(#s292)"/><rect x="666" y="229.6" width="2" height="83.7" fill="url(#s293)"/><rect x="668" y="229.4" width="2" height="83.3" fill="url(#s294)"/><rect x="670" y="229.2" width="2" height="83.0" fill="url(#s295)"/><rect x="672" y="229.0" width="2" height="82.6" fill="url(#s296)"/><rect x="674" y="228.9" width="2" height="82.2" fill="url(#s297)"/><rect x="676" y="228.7" width="2" height="81.9" fill="url(#s298)"/><rect x="678" y="228.5" width="2" height="81.5" fill="url(#s299)"/><rect x="680" y="228.3" width="2" height="81.1" fill="url(#s300)"/><rect x="682" y="228.1" width="2" height="80.8" fill="url(#s301)"/><rect x="684" y="228.0" width="2" height="80.4" fill="url(#s302)"/><rect x="686" y="227.8" width="2" height="80.0" fill="url(#s303)"/><rect x="688" y="227.6" width="2" height="79.7" fill="url(#s304)"/><rect x="690" y="227.4" width="2" height="79.3" fill="url(#s305)"/><rect x="692" y="227.2" width="2" height="78.9" fill="url(#s306)"/><rect x="694" y="227.0" width="2" height="78.6" fill="url(#s307)"/><rect x="696" y="226.9" width="2" height="78.2" fill="url(#s308)"/><rect x="698" y="226.7" width="2" height="77.8" fill="url(#s309)"/><rect x="700" y="226.5" width="2" height="77.5" fill="url(#s310)"/><rect x="702" y="226.3" width="2" height="77.1" fill="url(#s311)"/><rect x="704" y="226.1" width="2" height="76.7" fill="url(#s312)"/><rect x="706" y="225.9" width="2" height="76.4" fill="url(#s313)"/><rect x="708" y="225.8" width="2" height="76.0" fill="url(#s314)"/><rect x="710" y="225.6" width="2" height="75.6" fill="url(#s315)"/><rect x="712" y="225.4" width="2" height="75.3" fill="url(#s316)"/><rect x="714" y="225.2" width="2" height="74.9" fill="url(#s317)"/><rect x="716" y="225.0" width="2" height="74.5" fill="url(#s318)"/><rect x="718" y="224.9" width="2" height="74.2" fill="url(#s319)"/><rect x="720" y="224.7" width="2" height="73.8" fill="url(#s320)"/></g>
<path d="M50.4 37.6V476.4H724.7" fill="none" stroke="#555" stroke-width="1.2"/>
<line x1="80.30" y1="476.4" x2="80.30" y2="465.5" stroke="#555" stroke-width="1.2"/>
<text x="81.80" y="501.7" text-anchor="middle" font-size="17.8">20</text>
<line x1="241.40" y1="476.4" x2="241.40" y2="465.5" stroke="#555" stroke-width="1.2"/>
<text x="242.90" y="501.7" text-anchor="middle" font-size="17.8">25</text>
<line x1="402.50" y1="476.4" x2="402.50" y2="465.5" stroke="#555" stroke-width="1.2"/>
<text x="404.00" y="501.7" text-anchor="middle" font-size="17.8">30</text>
<line x1="563.60" y1="476.4" x2="563.60" y2="465.5" stroke="#555" stroke-width="1.2"/>
<text x="565.10" y="501.7" text-anchor="middle" font-size="17.8">35</text>
<line x1="724.70" y1="476.4" x2="724.70" y2="465.5" stroke="#555" stroke-width="1.2"/>
<text x="726.20" y="501.7" text-anchor="middle" font-size="17.8">40</text>
<line x1="50.4" y1="451.10" x2="60.8" y2="451.10" stroke="#555" stroke-width="1.2"/>
<text x="47.5" y="458.50" text-anchor="end" font-size="18.1">15</text>
<line x1="50.4" y1="409.75" x2="60.8" y2="409.75" stroke="#555" stroke-width="1.2"/>
<text x="47.5" y="417.15" text-anchor="end" font-size="18.1">20</text>
<line x1="50.4" y1="368.40" x2="60.8" y2="368.40" stroke="#555" stroke-width="1.2"/>
<text x="47.5" y="375.80" text-anchor="end" font-size="18.1">25</text>
<line x1="50.4" y1="327.05" x2="60.8" y2="327.05" stroke="#555" stroke-width="1.2"/>
<text x="47.5" y="334.45" text-anchor="end" font-size="18.1">30</text>
<line x1="50.4" y1="285.70" x2="60.8" y2="285.70" stroke="#555" stroke-width="1.2"/>
<text x="47.5" y="293.10" text-anchor="end" font-size="18.1">35</text>
<line x1="50.4" y1="244.35" x2="60.8" y2="244.35" stroke="#555" stroke-width="1.2"/>
<text x="47.5" y="251.75" text-anchor="end" font-size="18.1">40</text>
<line x1="50.4" y1="203.00" x2="60.8" y2="203.00" stroke="#555" stroke-width="1.2"/>
<text x="47.5" y="210.40" text-anchor="end" font-size="18.1">45</text>
<line x1="50.4" y1="161.65" x2="60.8" y2="161.65" stroke="#555" stroke-width="1.2"/>
<text x="47.5" y="169.05" text-anchor="end" font-size="18.1">50</text>
<line x1="50.4" y1="120.30" x2="60.8" y2="120.30" stroke="#555" stroke-width="1.2"/>
<text x="47.5" y="127.70" text-anchor="end" font-size="18.1">55</text>
<line x1="50.4" y1="78.95" x2="60.8" y2="78.95" stroke="#555" stroke-width="1.2"/>
<text x="47.5" y="86.35" text-anchor="end" font-size="18.1">60</text>
<line x1="50.4" y1="37.60" x2="60.8" y2="37.60" stroke="#555" stroke-width="1.2"/>
<text x="47.5" y="45.00" text-anchor="end" font-size="18.1">65</text>
<text x="725.5" y="127.50" font-size="17.4" xml:space="preserve" style="white-space:pre;fill:#111">-15 yr age gap</text>
<text x="725.5" y="168.85" font-size="17.4" xml:space="preserve" style="white-space:pre;fill:#111">-10 yr age gap</text>
<text x="725.5" y="210.20" font-size="17.4" xml:space="preserve" style="white-space:pre;fill:#111">- 5 yr age gap</text>
<text x="725.5" y="251.55" font-size="17.4" xml:space="preserve" style="white-space:pre;fill:#111">  0 yr age gap</text>
<text x="725.5" y="292.90" font-size="17.4" xml:space="preserve" style="white-space:pre;fill:#111">+ 5 yr age gap</text>
<text x="725.5" y="334.25" font-size="17.4" xml:space="preserve" style="white-space:pre;fill:#111">+10 yr age gap</text>
<text x="725.5" y="375.60" font-size="17.4" xml:space="preserve" style="white-space:pre;fill:#111">+15 yr age gap</text>
<text x="725.5" y="416.95" font-size="17.4" xml:space="preserve" style="white-space:pre;fill:#111">+20 yr age gap</text>
<text transform="translate(183,376.6) rotate(-14.4)" font-size="16.4" style="font-family:'Liberation Sans',sans-serif;fill:#111;stroke:#111;stroke-width:0.3">~89% of 1830's and 1840's couples</text>
<text transform="translate(210,409) rotate(-14.4)" font-size="16.4" style="font-family:'Liberation Sans',sans-serif;fill:#111;stroke:#111;stroke-width:0.3">would fall in this green range</text>
<rect x="75.5" y="73.5" width="11" height="11" fill="#d95f02"/>
<rect x="75.5" y="89.8" width="11" height="11" fill="#7570b3"/>
<rect x="75.5" y="106.2" width="11" height="11" fill="#1b9e77"/>
<circle cx="80.5" cy="127.9" r="5.4" fill="none" stroke="#000" stroke-width="1.25"/>
<path d="M80.8 137.7L86.8 145.3L80.8 152.9L74.8 145.3Z" fill="none" stroke="#000" stroke-width="1.2"/>
<text x="113.4" y="86.10" font-size="17.3" fill="#000" style="fill:#000">Concurrently married</text>
<text x="113.4" y="102.55" font-size="17.3" fill="#000" style="fill:#000">Previously married</text>
<text x="113.4" y="119.00" font-size="17.3" fill="#000" style="fill:#000">Single</text>
<text x="113.4" y="135.45" font-size="17.3" fill="#000" style="fill:#000">Marriage date known</text>
<text x="113.4" y="151.90" font-size="17.3" fill="#000" style="fill:#000">Marriage date estimated</text>
<text x="73.5" y="168.9" font-size="17.3" style="fill:#000">Lighter opacity indicates less scholarly agreement</text>
<text transform="translate(71.3 30.6) scale(0.9505 1)" font-size="19.4" font-weight="bold" style="fill:#000">The ages of the women who married Joseph Smith at the time of marriage</text>
<text x="322.2" y="526.7" font-size="18.78">Age of Joseph at the time of marrying a woman</text>
<text transform="translate(14.7,442.9) rotate(-90)" font-size="18.72">Age of women at the time of marrying Joseph</text>
</svg></body></html>
